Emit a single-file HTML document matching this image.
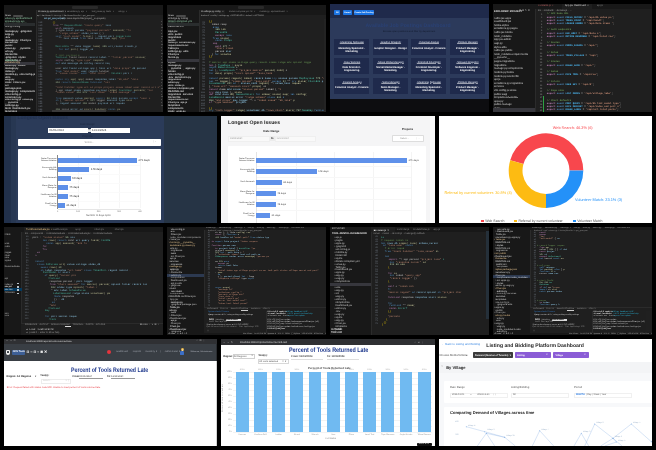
<!DOCTYPE html>
<html lang="en"><head><meta charset="utf-8"><title>Project screenshots collage</title>
<style>
html,body{margin:0;padding:0;background:#000;}
body{width:656px;height:450px;position:relative;overflow:hidden}
#c{position:absolute;left:0;top:0;width:656px;height:450px;overflow:hidden;background:#000;will-change:transform}
#c div{position:absolute}
#c span{position:absolute;white-space:pre;display:block;text-rendering:geometricPrecision}
#c i{font-style:normal}
.fs{font-family:"Liberation Sans",sans-serif}
.fm{font-family:"Liberation Mono",monospace}
svg{position:absolute;overflow:visible}
</style></head>
<body><div id="c">
<div style="left:4.00px;top:5.00px;width:159.00px;height:107.00px;background:#1f1f1f;"></div>
<div style="left:4.00px;top:5.00px;width:159.00px;height:5.00px;background:#181818;"></div>
<div style="left:72.00px;top:6.20px;width:26.00px;height:2.60px;background:#2a2a2a;border-radius:1px"></div>
<div style="left:4.00px;top:10.00px;width:32.20px;height:102.00px;background:#181818;"></div>
<div style="left:35.00px;top:10.00px;width:128.00px;height:4.50px;background:#181818;"></div>
<div style="left:36.50px;top:10.00px;width:29.00px;height:4.50px;background:#1f1f1f;"></div>
<div style="left:36.20px;top:10.00px;width:0.30px;height:102.00px;background:#2b2b2b;"></div>
<div style="left:13.00px;top:15.00px;width:10.00px;height:2.20px;background:#4a4a4a;border-radius:1px"></div>
<span class="fs" style="left:5.00px;top:14.70px;font-size:2px;line-height:2.40px;color:#ccc;font-weight:700;">OPEN</span>
<span class="fs" style="left:5.00px;top:17.60px;font-size:2.6px;line-height:2.9px;color:#8fc9a4;font-weight:400;width:30px;clip-path:inset(-1px 0 -1px 0)">views.py api/dashboard</span>
<span class="fs" style="left:5.00px;top:20.50px;font-size:2.6px;line-height:2.9px;color:#8fc9a4;font-weight:400;width:30px;clip-path:inset(-1px 0 -1px 0)">serializers.py api</span>
<span class="fs" style="left:5.00px;top:23.40px;font-size:2.6px;line-height:2.9px;color:#8fc9a4;font-weight:400;width:30px;clip-path:inset(-1px 0 -1px 0)">test_views.py tests</span>
<span class="fs" style="left:5.00px;top:26.30px;font-size:2.6px;line-height:2.9px;color:#ccc;font-weight:400;width:30px;clip-path:inset(-1px 0 -1px 0)">urls.py config</span>
<div style="left:4.00px;top:23.10px;width:31.00px;height:2.90px;background:#2a2d2e;"></div>
<span class="fs" style="left:5.00px;top:31.00px;font-size:2.6px;line-height:2.85px;color:#d4d4d4;font-weight:700;width:30px;clip-path:inset(-1px 0 -1px 0)">manage.py  .gitignore</span>
<span class="fs" style="left:5.00px;top:33.85px;font-size:2.6px;line-height:2.85px;color:#d4d4d4;font-weight:700;width:30px;clip-path:inset(-1px 0 -1px 0)">asgi.py</span>
<span class="fs" style="left:5.00px;top:36.70px;font-size:2.6px;line-height:2.85px;color:#d4d4d4;font-weight:700;width:30px;clip-path:inset(-1px 0 -1px 0)">.env</span>
<span class="fs" style="left:5.00px;top:39.55px;font-size:2.6px;line-height:2.85px;color:#d4d4d4;font-weight:700;width:30px;clip-path:inset(-1px 0 -1px 0)">manage.py  Chart.jsx</span>
<span class="fs" style="left:5.00px;top:42.40px;font-size:2.6px;line-height:2.85px;color:#d4d4d4;font-weight:700;width:30px;clip-path:inset(-1px 0 -1px 0)">Dockerfile</span>
<span class="fs" style="left:5.00px;top:45.25px;font-size:2.6px;line-height:2.85px;color:#d4d4d4;font-weight:700;width:30px;clip-path:inset(-1px 0 -1px 0)">public</span>
<span class="fs" style="left:5.00px;top:48.10px;font-size:2.6px;line-height:2.85px;color:#d4d4d4;font-weight:700;width:30px;clip-path:inset(-1px 0 -1px 0)">views.py  __pycache__</span>
<span class="fs" style="left:5.00px;top:50.95px;font-size:2.6px;line-height:2.85px;color:#d4d4d4;font-weight:700;width:30px;clip-path:inset(-1px 0 -1px 0)">urls.py</span>
<span class="fs" style="left:5.00px;top:53.80px;font-size:2.6px;line-height:2.85px;color:#d4d4d4;font-weight:700;width:30px;clip-path:inset(-1px 0 -1px 0)">Dockerfile</span>
<span class="fs" style="left:5.00px;top:56.65px;font-size:2.6px;line-height:2.85px;color:#d4d4d4;font-weight:700;width:30px;clip-path:inset(-1px 0 -1px 0)">.gitignore  styles</span>
<span class="fs" style="left:5.00px;top:59.50px;font-size:2.6px;line-height:2.85px;color:#d4d4d4;font-weight:700;width:30px;clip-path:inset(-1px 0 -1px 0)">vite.config.js</span>
<span class="fs" style="left:5.00px;top:62.35px;font-size:2.6px;line-height:2.85px;color:#d4d4d4;font-weight:700;width:30px;clip-path:inset(-1px 0 -1px 0)">urls.py</span>
<span class="fs" style="left:5.00px;top:65.20px;font-size:2.6px;line-height:2.85px;color:#d4d4d4;font-weight:700;width:30px;clip-path:inset(-1px 0 -1px 0)">admin.py  hooks</span>
<span class="fs" style="left:5.00px;top:68.05px;font-size:2.6px;line-height:2.85px;color:#d4d4d4;font-weight:700;width:30px;clip-path:inset(-1px 0 -1px 0)">manage.py</span>
<span class="fs" style="left:5.00px;top:70.90px;font-size:2.6px;line-height:2.85px;color:#d4d4d4;font-weight:700;width:30px;clip-path:inset(-1px 0 -1px 0)">index.js</span>
<span class="fs" style="left:5.00px;top:73.75px;font-size:2.6px;line-height:2.85px;color:#d4d4d4;font-weight:700;width:30px;clip-path:inset(-1px 0 -1px 0)">models.py  vite.config.js</span>
<span class="fs" style="left:5.00px;top:76.60px;font-size:2.6px;line-height:2.85px;color:#d4d4d4;font-weight:700;width:30px;clip-path:inset(-1px 0 -1px 0)">utils</span>
<span class="fs" style="left:5.00px;top:79.45px;font-size:2.6px;line-height:2.85px;color:#d4d4d4;font-weight:700;width:30px;clip-path:inset(-1px 0 -1px 0)">wsgi.py</span>
<span class="fs" style="left:5.00px;top:82.30px;font-size:2.6px;line-height:2.85px;color:#d4d4d4;font-weight:700;width:30px;clip-path:inset(-1px 0 -1px 0)">static  Filters.jsx</span>
<span class="fs" style="left:5.00px;top:85.15px;font-size:2.6px;line-height:2.85px;color:#d4d4d4;font-weight:700;width:30px;clip-path:inset(-1px 0 -1px 0)">src</span>
<span class="fs" style="left:5.00px;top:88.00px;font-size:2.6px;line-height:2.85px;color:#d4d4d4;font-weight:700;width:30px;clip-path:inset(-1px 0 -1px 0)">package.json</span>
<span class="fs" style="left:5.00px;top:90.85px;font-size:2.6px;line-height:2.85px;color:#d4d4d4;font-weight:700;width:30px;clip-path:inset(-1px 0 -1px 0)">manage.py  components</span>
<span class="fs" style="left:5.00px;top:93.70px;font-size:2.6px;line-height:2.85px;color:#d4d4d4;font-weight:700;width:30px;clip-path:inset(-1px 0 -1px 0)">vite.config.js</span>
<span class="fs" style="left:5.00px;top:96.55px;font-size:2.6px;line-height:2.85px;color:#d4d4d4;font-weight:700;width:30px;clip-path:inset(-1px 0 -1px 0)">serializers.py</span>
<span class="fs" style="left:5.00px;top:99.40px;font-size:2.6px;line-height:2.85px;color:#d4d4d4;font-weight:700;width:30px;clip-path:inset(-1px 0 -1px 0)">vite.config.js  views.py</span>
<span class="fs" style="left:5.00px;top:102.25px;font-size:2.6px;line-height:2.85px;color:#d4d4d4;font-weight:700;width:30px;clip-path:inset(-1px 0 -1px 0)">__pycache__</span>
<span class="fs" style="left:5.00px;top:105.10px;font-size:2.6px;line-height:2.85px;color:#d4d4d4;font-weight:700;width:30px;clip-path:inset(-1px 0 -1px 0)">settings.py</span>
<span class="fs" style="left:5.00px;top:107.95px;font-size:2.6px;line-height:2.85px;color:#d4d4d4;font-weight:700;width:30px;clip-path:inset(-1px 0 -1px 0)">tests  Dashboard.jsx</span>
<span class="fs" style="left:5.00px;top:110.80px;font-size:2.6px;line-height:2.85px;color:#d4d4d4;font-weight:700;width:30px;clip-path:inset(-1px 0 -1px 0)">templates</span>
<div style="left:4.00px;top:62.40px;width:31.00px;height:3.00px;background:#37373d;"></div>
<span class="fs" style="left:5.00px;top:59.60px;font-size:2.6px;line-height:2.85px;color:#73c991;font-weight:400">models.py</span>
<span class="fs" style="left:5.00px;top:62.45px;font-size:2.6px;line-height:2.85px;color:#e2c08d;font-weight:400">serializers.py</span>
<span class="fs" style="left:38.00px;top:10.90px;font-size:2.2px;line-height:2.64px;color:#d8d8d8;font-weight:400;">⚙ views.py api/dashboard  ×</span>
<span class="fs" style="left:67.00px;top:10.90px;font-size:2.2px;line-height:2.64px;color:#8f8f8f;font-weight:400;">serializers.py  api   ×        test_views.py  tests   ×       urls.py  ×</span>
<span class="fs" style="left:37.00px;top:14.90px;font-size:2px;line-height:2.40px;color:#9d9d9d;font-weight:400;">api &gt; dashboard &gt; views.py &gt; DashboardViewSet &gt; get_queryset</span>
<span class="fs" style="left:44.00px;top:17.60px;font-size:2.2px;line-height:2.64px;color:#9cdcfe;font-weight:400;">def get_queryset(self):</span>
<span class="fs" style="left:62.00px;top:17.60px;font-size:2.2px;line-height:2.64px;color:#b8b8b8;font-weight:400;">qs = Issue.objects.filter(project__in=projects)</span>
<span class="fm" style="left:37.50px;top:22.30px;font-size:2.3px;line-height:2.7px;color:#6e7681;width:5px;text-align:right">112</span>
<span class="fm" style="left:37.50px;top:25.00px;font-size:2.3px;line-height:2.7px;color:#6e7681;width:5px;text-align:right">113</span>
<span class="fm" style="left:37.50px;top:27.70px;font-size:2.3px;line-height:2.7px;color:#6e7681;width:5px;text-align:right">114</span>
<span class="fm" style="left:37.50px;top:30.40px;font-size:2.3px;line-height:2.7px;color:#6e7681;width:5px;text-align:right">115</span>
<span class="fm" style="left:37.50px;top:33.10px;font-size:2.3px;line-height:2.7px;color:#6e7681;width:5px;text-align:right">116</span>
<span class="fm" style="left:37.50px;top:35.80px;font-size:2.3px;line-height:2.7px;color:#6e7681;width:5px;text-align:right">117</span>
<span class="fm" style="left:37.50px;top:38.50px;font-size:2.3px;line-height:2.7px;color:#6e7681;width:5px;text-align:right">118</span>
<span class="fm" style="left:37.50px;top:41.20px;font-size:2.3px;line-height:2.7px;color:#6e7681;width:5px;text-align:right">119</span>
<span class="fm" style="left:37.50px;top:43.90px;font-size:2.3px;line-height:2.7px;color:#6e7681;width:5px;text-align:right">120</span>
<span class="fm" style="left:37.50px;top:46.60px;font-size:2.3px;line-height:2.7px;color:#6e7681;width:5px;text-align:right">121</span>
<span class="fm" style="left:37.50px;top:49.30px;font-size:2.3px;line-height:2.7px;color:#6e7681;width:5px;text-align:right">122</span>
<span class="fm" style="left:37.50px;top:52.00px;font-size:2.3px;line-height:2.7px;color:#6e7681;width:5px;text-align:right">123</span>
<span class="fm" style="left:37.50px;top:54.70px;font-size:2.3px;line-height:2.7px;color:#6e7681;width:5px;text-align:right">124</span>
<span class="fm" style="left:37.50px;top:57.40px;font-size:2.3px;line-height:2.7px;color:#6e7681;width:5px;text-align:right">125</span>
<span class="fm" style="left:37.50px;top:60.10px;font-size:2.3px;line-height:2.7px;color:#6e7681;width:5px;text-align:right">126</span>
<span class="fm" style="left:37.50px;top:62.80px;font-size:2.3px;line-height:2.7px;color:#6e7681;width:5px;text-align:right">127</span>
<span class="fm" style="left:37.50px;top:65.50px;font-size:2.3px;line-height:2.7px;color:#6e7681;width:5px;text-align:right">128</span>
<span class="fm" style="left:37.50px;top:68.20px;font-size:2.3px;line-height:2.7px;color:#6e7681;width:5px;text-align:right">129</span>
<span class="fm" style="left:37.50px;top:70.90px;font-size:2.3px;line-height:2.7px;color:#6e7681;width:5px;text-align:right">130</span>
<span class="fm" style="left:37.50px;top:73.60px;font-size:2.3px;line-height:2.7px;color:#6e7681;width:5px;text-align:right">131</span>
<span class="fm" style="left:37.50px;top:76.30px;font-size:2.3px;line-height:2.7px;color:#6e7681;width:5px;text-align:right">132</span>
<span class="fm" style="left:37.50px;top:79.00px;font-size:2.3px;line-height:2.7px;color:#6e7681;width:5px;text-align:right">133</span>
<span class="fm" style="left:37.50px;top:81.70px;font-size:2.3px;line-height:2.7px;color:#6e7681;width:5px;text-align:right">134</span>
<span class="fm" style="left:37.50px;top:84.40px;font-size:2.3px;line-height:2.7px;color:#6e7681;width:5px;text-align:right">135</span>
<span class="fm" style="left:37.50px;top:87.10px;font-size:2.3px;line-height:2.7px;color:#6e7681;width:5px;text-align:right">136</span>
<span class="fm" style="left:37.50px;top:89.80px;font-size:2.3px;line-height:2.7px;color:#6e7681;width:5px;text-align:right">137</span>
<span class="fm" style="left:37.50px;top:92.50px;font-size:2.3px;line-height:2.7px;color:#6e7681;width:5px;text-align:right">138</span>
<span class="fm" style="left:37.50px;top:95.20px;font-size:2.3px;line-height:2.7px;color:#6e7681;width:5px;text-align:right">139</span>
<span class="fm" style="left:37.50px;top:97.90px;font-size:2.3px;line-height:2.7px;color:#6e7681;width:5px;text-align:right">140</span>
<span class="fm" style="left:37.50px;top:100.60px;font-size:2.3px;line-height:2.7px;color:#6e7681;width:5px;text-align:right">141</span>
<span class="fm" style="left:37.50px;top:103.30px;font-size:2.3px;line-height:2.7px;color:#6e7681;width:5px;text-align:right">142</span>
<span class="fm" style="left:37.50px;top:106.00px;font-size:2.3px;line-height:2.7px;color:#6e7681;width:5px;text-align:right">143</span>
<span class="fm" style="left:37.50px;top:108.70px;font-size:2.3px;line-height:2.7px;color:#6e7681;width:5px;text-align:right">144</span>
<span class="fm" style="left:37.50px;top:111.40px;font-size:2.3px;line-height:2.7px;color:#6e7681;width:5px;text-align:right">145</span>
<span class="fm" style="left:52.50px;top:22.10px;font-size:2.5px;line-height:2.7px;font-weight:400;opacity:0.72"><i style="color:#ffd700">{}</i></span>
<span class="fm" style="left:52.50px;top:24.80px;font-size:2.5px;line-height:2.7px;font-weight:400;opacity:0.72"><i style="color:#c586c0">from</i> <i style="color:#d4d4d4">==</i> <i style="color:#4ec9b0">RequestModel</i> <i style="color:#ce9178">&quot;count_query&quot;</i> <i style="color:#9cdcfe">list_</i></span>
<span class="fm" style="left:55.50px;top:27.50px;font-size:2.5px;line-height:2.7px;font-weight:400;opacity:0.72"><i style="color:#c586c0">with</i> <i style="color:#9cdcfe">session_</i></span>
<span class="fm" style="left:55.50px;top:30.20px;font-size:2.5px;line-height:2.7px;font-weight:400;opacity:0.72"><i style="color:#d4d4d4">]</i> <i style="color:#d4d4d4">type</i> <i style="color:#9cdcfe">total_params</i> <i style="color:#ce9178">&quot;payload_percent&quot;</i> <i style="color:#dcdcaa">session(</i> <i style="color:#ce9178">&quot;fi</i></span>
<span class="fm" style="left:58.75px;top:32.90px;font-size:2.5px;line-height:2.7px;font-weight:400;opacity:0.72"><i style="color:#ce9178">&quot;range_schema&quot;</i> <i style="color:#9cdcfe">index_value</i> <i style="color:#d4d4d4">{</i> <i style="color:#d4d4d4">)</i></span>
<span class="fm" style="left:55.50px;top:35.60px;font-size:2.5px;line-height:2.7px;font-weight:400;opacity:0.72"><i style="color:#569cd6">self</i> <i style="color:#ce9178">&quot;path_model&quot;</i> <i style="color:#dcdcaa">filter(</i> <i style="color:#d4d4d4">:</i> <i style="color:#9cdcfe">region_port</i> <i style="color:#4ec9b0">LoggerLate</i></span>
<span class="fm" style="left:58.75px;top:38.30px;font-size:2.5px;line-height:2.7px;font-weight:400;opacity:0.72"><i style="color:#d4d4d4">==</i> <i style="color:#9cdcfe">list_issue</i> <i style="color:#569cd6">from</i> <i style="color:#d4d4d4">list</i> <i style="color:#9cdcfe">state_rows</i> <i style="color:#dcdcaa">app(</i> <i style="color:#ce9178">&quot;pat</i></span>
<span class="fm" style="left:55.50px;top:46.40px;font-size:2.5px;line-height:2.7px;font-weight:400;opacity:0.72"><i style="color:#4ec9b0">MetricEnv</i> <i style="color:#d4d4d4">==</i> <i style="color:#9cdcfe">date_logger</i> <i style="color:#dcdcaa">name(</i> <i style="color:#b5cea8">355</i> <i style="color:#9cdcfe">url_router</i> <i style="color:#9cdcfe">client_p</i></span>
<span class="fm" style="left:58.75px;top:49.10px;font-size:2.5px;line-height:2.7px;font-weight:400;opacity:0.72"><i style="color:#569cd6">for</i> <i style="color:#569cd6">def</i> <i style="color:#dcdcaa">port(</i> <i style="color:#9cdcfe">logger_id</i></span>
<span class="fm" style="left:55.50px;top:54.50px;font-size:2.5px;line-height:2.7px;font-weight:400;opacity:0.72"><i style="color:#6a9955"># tool payload e</i></span>
<span class="fm" style="left:55.50px;top:57.20px;font-size:2.5px;line-height:2.7px;font-weight:400;opacity:0.72"><i style="color:#4ec9b0">ToolList</i> <i style="color:#d4d4d4">field</i> <i style="color:#d4d4d4">record</i> <i style="color:#9cdcfe">record_label</i> <i style="color:#d4d4d4">=</i> <i style="color:#ce9178">&quot;filter_period&quot;</i> <i style="color:#dcdcaa">status(</i></span>
<span class="fm" style="left:55.50px;top:59.90px;font-size:2.5px;line-height:2.7px;font-weight:400;opacity:0.72"><i style="color:#c586c0">async</i> <i style="color:#d4d4d4">config</i> <i style="color:#ce9178">&quot;type_type&quot;</i> <i style="color:#dcdcaa">respons</i></span>
<span class="fm" style="left:55.50px;top:62.60px;font-size:2.5px;line-height:2.7px;font-weight:400;opacity:0.72"><i style="color:#569cd6">def</i> <i style="color:#9cdcfe">end_message</i> <i style="color:#9cdcfe">db_config</i> <i style="color:#9cdcfe">record_req</i></span>
<span class="fm" style="left:55.50px;top:68.00px;font-size:2.5px;line-height:2.7px;font-weight:400;opacity:0.72"><i style="color:#d4d4d4">user</i> <i style="color:#9cdcfe">end_field</i> <i style="color:#9cdcfe">village_app</i> <i style="color:#d4d4d4">{</i> <i style="color:#9cdcfe">host_url</i> <i style="color:#ce9178">&quot;date_props&quot;</i> <i style="color:#9cdcfe">db_period</i></span>
<span class="fm" style="left:55.50px;top:70.70px;font-size:2.5px;line-height:2.7px;font-weight:400;opacity:0.72"><i style="color:#569cd6">True</i> <i style="color:#ce9178">&quot;end_model&quot;</i> <i style="color:#9cdcfe">user_region</i> <i style="color:#d4d4d4">handler</i></span>
<span class="fm" style="left:55.50px;top:73.40px;font-size:2.5px;line-height:2.7px;font-weight:400;opacity:0.72"><i style="color:#d4d4d4">+</i> <i style="color:#ce9178">&quot;issue_router&quot;</i> <i style="color:#569cd6">with</i> <i style="color:#ce9178">&quot;conn_total&quot;</i> <i style="color:#d4d4d4">:</i> <i style="color:#4ec9b0">IdLabel</i> <i style="color:#9cdcfe">port_r</i></span>
<span class="fm" style="left:55.50px;top:78.80px;font-size:2.5px;line-height:2.7px;font-weight:400;opacity:0.72"><i style="color:#569cd6">const</i> <i style="color:#569cd6">try</i> <i style="color:#dcdcaa">app(</i> <i style="color:#dcdcaa">app(</i> <i style="color:#d4d4d4">model</i> <i style="color:#9cdcfe">response_label</i> <i style="color:#ce9178">&quot;db_end&quot;</i> <i style="color:#ce9178">&quot;data_</i></span>
<span class="fm" style="left:55.50px;top:81.50px;font-size:2.5px;line-height:2.7px;font-weight:400;opacity:0.72"><i style="color:#b5cea8">352</i> <i style="color:#569cd6">return</i> <i style="color:#4ec9b0">SessionName</i> <i style="color:#569cd6">function</i> <i style="color:#ce9178">&quot;vol</i></span>
<span class="fm" style="left:55.50px;top:86.90px;font-size:2.5px;line-height:2.7px;font-weight:400;opacity:0.72"><i style="color:#ce9178">&quot;conn handler type url id props project issue token user record url s&quot;</i></span>
<span class="fm" style="left:55.50px;top:89.60px;font-size:2.5px;line-height:2.7px;font-weight:400;opacity:0.72"><i style="color:#d4d4d4">]</i> <i style="color:#d4d4d4">app</i> <i style="color:#9cdcfe">token_items</i> <i style="color:#9cdcfe">response_payload</i> <i style="color:#dcdcaa">range(</i> <i style="color:#4ec9b0">CountUser</i> <i style="color:#dcdcaa">percent(</i> <i style="color:#ce9178">&quot;cur</i></span>
<span class="fm" style="left:55.50px;top:92.30px;font-size:2.5px;line-height:2.7px;font-weight:400;opacity:0.72"><i style="color:#ce9178">&quot;token_value&quot;</i> <i style="color:#b5cea8">362</i> <i style="color:#b5cea8">678</i> <i style="color:#ce9178">&quot;list_token&quot;</i> <i style="color:#ce9178">&quot;items_message&quot;</i> <i style="color:#569cd6">in</i></span>
<span class="fm" style="left:55.50px;top:97.70px;font-size:2.5px;line-height:2.7px;font-weight:400;opacity:0.72"><i style="color:#569cd6">from</i> <i style="color:#9cdcfe">session_value</i> <i style="color:#dcdcaa">secret(</i> <i style="color:#569cd6">import</i> <i style="color:#b5cea8">58</i> <i style="color:#9cdcfe">tool_params</i> <i style="color:#569cd6">except</i> <i style="color:#ce9178">&quot;user_i</i></span>
<span class="fm" style="left:55.50px;top:100.40px;font-size:2.5px;line-height:2.7px;font-weight:400;opacity:0.72"><i style="color:#569cd6">in</i> <i style="color:#d4d4d4">{</i> <i style="color:#ce9178">&quot;secret_option&quot;</i> <i style="color:#d4d4d4">+</i> <i style="color:#b5cea8">914</i> <i style="color:#d4d4d4">logger</i> <i style="color:#9cdcfe">session_type</i> <i style="color:#dcdcaa">stat</i></span>
<span class="fm" style="left:55.50px;top:103.10px;font-size:2.5px;line-height:2.7px;font-weight:400;opacity:0.72"><i style="color:#d4d4d4">),</i> <i style="color:#9cdcfe">region_session</i> <i style="color:#b5cea8">158</i> <i style="color:#d4d4d4">model</i> <i style="color:#9cdcfe">payload_url</i> <i style="color:#9cdcfe">reques</i></span>
<span class="fm" style="left:55.50px;top:108.50px;font-size:2.5px;line-height:2.7px;font-weight:400;opacity:0.72"><i style="color:#b5cea8">166</i> <i style="color:#d4d4d4">total</i> <i style="color:#9cdcfe">error_id</i> <i style="color:#dcdcaa">start(</i> <i style="color:#dcdcaa">handler(</i> <i style="color:#569cd6">const</i> <i style="color:#dcdcaa">pa</i></span>
<span class="fm" style="left:55.50px;top:111.20px;font-size:2.5px;line-height:2.7px;font-weight:400;opacity:0.72"><i style="color:#c586c0">const</i> <i style="color:#dcdcaa">percent(</i> <i style="color:#ce9178">&quot;index_client&quot;</i></span>
<div style="left:160.50px;top:19.00px;width:2.50px;height:93.00px;background:#232323;"></div>
<div style="left:52.00px;top:110.40px;width:54.00px;height:1.30px;background:#3a3a3a;"></div>
<div style="left:160.90px;top:21.00px;width:1.20px;height:0.50px;background:#4a4a4a;"></div>
<div style="left:160.90px;top:23.90px;width:1.50px;height:0.50px;background:#4a4a4a;"></div>
<div style="left:160.90px;top:26.80px;width:1.80px;height:0.50px;background:#4a4a4a;"></div>
<div style="left:160.90px;top:29.70px;width:1.20px;height:0.50px;background:#4a4a4a;"></div>
<div style="left:160.90px;top:32.60px;width:1.50px;height:0.50px;background:#4a4a4a;"></div>
<div style="left:160.90px;top:35.50px;width:1.80px;height:0.50px;background:#4a4a4a;"></div>
<div style="left:160.90px;top:38.40px;width:1.20px;height:0.50px;background:#4a4a4a;"></div>
<div style="left:160.90px;top:41.30px;width:1.50px;height:0.50px;background:#4a4a4a;"></div>
<div style="left:160.90px;top:44.20px;width:1.80px;height:0.50px;background:#4a4a4a;"></div>
<div style="left:160.90px;top:47.10px;width:1.20px;height:0.50px;background:#4a4a4a;"></div>
<div style="left:160.90px;top:50.00px;width:1.50px;height:0.50px;background:#4a4a4a;"></div>
<div style="left:160.90px;top:52.90px;width:1.80px;height:0.50px;background:#4a4a4a;"></div>
<div style="left:160.90px;top:55.80px;width:1.20px;height:0.50px;background:#4a4a4a;"></div>
<div style="left:160.90px;top:58.70px;width:1.50px;height:0.50px;background:#4a4a4a;"></div>
<div style="left:160.90px;top:61.60px;width:1.80px;height:0.50px;background:#4a4a4a;"></div>
<div style="left:160.90px;top:64.50px;width:1.20px;height:0.50px;background:#4a4a4a;"></div>
<div style="left:160.90px;top:67.40px;width:1.50px;height:0.50px;background:#4a4a4a;"></div>
<div style="left:160.90px;top:70.30px;width:1.80px;height:0.50px;background:#4a4a4a;"></div>
<div style="left:160.90px;top:73.20px;width:1.20px;height:0.50px;background:#4a4a4a;"></div>
<div style="left:160.90px;top:76.10px;width:1.50px;height:0.50px;background:#4a4a4a;"></div>
<div style="left:160.90px;top:79.00px;width:1.80px;height:0.50px;background:#4a4a4a;"></div>
<div style="left:160.90px;top:81.90px;width:1.20px;height:0.50px;background:#4a4a4a;"></div>
<div style="left:160.90px;top:84.80px;width:1.50px;height:0.50px;background:#4a4a4a;"></div>
<div style="left:160.90px;top:87.70px;width:1.80px;height:0.50px;background:#4a4a4a;"></div>
<div style="left:160.90px;top:90.60px;width:1.20px;height:0.50px;background:#4a4a4a;"></div>
<div style="left:160.90px;top:93.50px;width:1.50px;height:0.50px;background:#4a4a4a;"></div>
<div style="left:160.90px;top:96.40px;width:1.80px;height:0.50px;background:#4a4a4a;"></div>
<div style="left:160.90px;top:99.30px;width:1.20px;height:0.50px;background:#4a4a4a;"></div>
<div style="left:160.90px;top:102.20px;width:1.50px;height:0.50px;background:#4a4a4a;"></div>
<div style="left:160.90px;top:105.10px;width:1.80px;height:0.50px;background:#4a4a4a;"></div>
<div style="left:167.00px;top:5.00px;width:159.00px;height:107.00px;background:#1f1f1f;"></div>
<div style="left:167.00px;top:5.00px;width:159.00px;height:5.00px;background:#181818;"></div>
<div style="left:238.00px;top:6.20px;width:26.00px;height:2.60px;background:#2a2a2a;border-radius:1px"></div>
<div style="left:167.00px;top:10.00px;width:32.00px;height:102.00px;background:#181818;"></div>
<div style="left:199.00px;top:10.00px;width:127.00px;height:4.50px;background:#181818;"></div>
<div style="left:199.20px;top:10.00px;width:26.00px;height:4.50px;background:#1f1f1f;"></div>
<div style="left:199.00px;top:10.00px;width:0.30px;height:102.00px;background:#2b2b2b;"></div>
<div style="left:176.00px;top:15.00px;width:10.00px;height:2.20px;background:#4a4a4a;border-radius:1px"></div>
<span class="fs" style="left:168.00px;top:14.70px;font-size:2px;line-height:2.40px;color:#ccc;font-weight:700;">OPEN</span>
<span class="fs" style="left:168.00px;top:17.60px;font-size:2.6px;line-height:2.9px;color:#ccc;font-weight:400;width:30px;clip-path:inset(-1px 0 -1px 0)">settings.py config</span>
<span class="fs" style="left:168.00px;top:20.50px;font-size:2.6px;line-height:2.9px;color:#8fc9a4;font-weight:400;width:30px;clip-path:inset(-1px 0 -1px 0)">docker-compose.yml</span>
<span class="fs" style="left:168.00px;top:23.40px;font-size:2.6px;line-height:2.9px;color:#8fc9a4;font-weight:400;width:30px;clip-path:inset(-1px 0 -1px 0)">models.py api</span>
<span class="fs" style="left:168.00px;top:26.30px;font-size:2.6px;line-height:2.9px;color:#ccc;font-weight:400;width:30px;clip-path:inset(-1px 0 -1px 0)">README.md</span>
<div style="left:167.00px;top:23.10px;width:32.00px;height:2.90px;background:#2a2d2e;"></div>
<span class="fs" style="left:168.00px;top:31.00px;font-size:2.6px;line-height:2.85px;color:#d4d4d4;font-weight:700;width:30px;clip-path:inset(-1px 0 -1px 0)">App.jsx</span>
<span class="fs" style="left:168.00px;top:33.85px;font-size:2.6px;line-height:2.85px;color:#d4d4d4;font-weight:700;width:30px;clip-path:inset(-1px 0 -1px 0)">utils  public</span>
<span class="fs" style="left:168.00px;top:36.70px;font-size:2.6px;line-height:2.85px;color:#d4d4d4;font-weight:700;width:30px;clip-path:inset(-1px 0 -1px 0)">migrations</span>
<span class="fs" style="left:168.00px;top:39.55px;font-size:2.6px;line-height:2.85px;color:#d4d4d4;font-weight:700;width:30px;clip-path:inset(-1px 0 -1px 0)">public</span>
<span class="fs" style="left:168.00px;top:42.40px;font-size:2.6px;line-height:2.85px;color:#d4d4d4;font-weight:700;width:30px;clip-path:inset(-1px 0 -1px 0)">index.js  serializers.py</span>
<span class="fs" style="left:168.00px;top:45.25px;font-size:2.6px;line-height:2.85px;color:#d4d4d4;font-weight:700;width:30px;clip-path:inset(-1px 0 -1px 0)">requirements.txt</span>
<span class="fs" style="left:168.00px;top:48.10px;font-size:2.6px;line-height:2.85px;color:#d4d4d4;font-weight:700;width:30px;clip-path:inset(-1px 0 -1px 0)">Table.jsx</span>
<span class="fs" style="left:168.00px;top:50.95px;font-size:2.6px;line-height:2.85px;color:#d4d4d4;font-weight:700;width:30px;clip-path:inset(-1px 0 -1px 0)">settings.py  utils</span>
<span class="fs" style="left:168.00px;top:53.80px;font-size:2.6px;line-height:2.85px;color:#d4d4d4;font-weight:700;width:30px;clip-path:inset(-1px 0 -1px 0)">Chart.jsx</span>
<span class="fs" style="left:168.00px;top:56.65px;font-size:2.6px;line-height:2.85px;color:#d4d4d4;font-weight:700;width:30px;clip-path:inset(-1px 0 -1px 0)">forms.py</span>
<span class="fs" style="left:168.00px;top:59.50px;font-size:2.6px;line-height:2.85px;color:#d4d4d4;font-weight:700;width:30px;clip-path:inset(-1px 0 -1px 0)">views.py  __pycache__</span>
<span class="fs" style="left:168.00px;top:62.35px;font-size:2.6px;line-height:2.85px;color:#d4d4d4;font-weight:700;width:30px;clip-path:inset(-1px 0 -1px 0)">styles</span>
<span class="fs" style="left:168.00px;top:65.20px;font-size:2.6px;line-height:2.85px;color:#d4d4d4;font-weight:700;width:30px;clip-path:inset(-1px 0 -1px 0)">manage.py</span>
<span class="fs" style="left:168.00px;top:68.05px;font-size:2.6px;line-height:2.85px;color:#d4d4d4;font-weight:700;width:30px;clip-path:inset(-1px 0 -1px 0)">__pycache__  apps.py</span>
<span class="fs" style="left:168.00px;top:70.90px;font-size:2.6px;line-height:2.85px;color:#d4d4d4;font-weight:700;width:30px;clip-path:inset(-1px 0 -1px 0)">hooks</span>
<span class="fs" style="left:168.00px;top:73.75px;font-size:2.6px;line-height:2.85px;color:#d4d4d4;font-weight:700;width:30px;clip-path:inset(-1px 0 -1px 0)">vite.config.js</span>
<span class="fs" style="left:168.00px;top:76.60px;font-size:2.6px;line-height:2.85px;color:#d4d4d4;font-weight:700;width:30px;clip-path:inset(-1px 0 -1px 0)">.env  serializers.py</span>
<span class="fs" style="left:168.00px;top:79.45px;font-size:2.6px;line-height:2.85px;color:#d4d4d4;font-weight:700;width:30px;clip-path:inset(-1px 0 -1px 0)">migrations</span>
<span class="fs" style="left:168.00px;top:82.30px;font-size:2.6px;line-height:2.85px;color:#d4d4d4;font-weight:700;width:30px;clip-path:inset(-1px 0 -1px 0)">admin.py</span>
<span class="fs" style="left:168.00px;top:85.15px;font-size:2.6px;line-height:2.85px;color:#d4d4d4;font-weight:700;width:30px;clip-path:inset(-1px 0 -1px 0)">utils  index.js</span>
<span class="fs" style="left:168.00px;top:88.00px;font-size:2.6px;line-height:2.85px;color:#d4d4d4;font-weight:700;width:30px;clip-path:inset(-1px 0 -1px 0)">docker-compose.yml</span>
<span class="fs" style="left:168.00px;top:90.85px;font-size:2.6px;line-height:2.85px;color:#d4d4d4;font-weight:700;width:30px;clip-path:inset(-1px 0 -1px 0)">README.md</span>
<span class="fs" style="left:168.00px;top:93.70px;font-size:2.6px;line-height:2.85px;color:#d4d4d4;font-weight:700;width:30px;clip-path:inset(-1px 0 -1px 0)">migrations  services</span>
<span class="fs" style="left:168.00px;top:96.55px;font-size:2.6px;line-height:2.85px;color:#d4d4d4;font-weight:700;width:30px;clip-path:inset(-1px 0 -1px 0)">Dockerfile</span>
<span class="fs" style="left:168.00px;top:99.40px;font-size:2.6px;line-height:2.85px;color:#d4d4d4;font-weight:700;width:30px;clip-path:inset(-1px 0 -1px 0)">requirements.txt</span>
<span class="fs" style="left:168.00px;top:102.25px;font-size:2.6px;line-height:2.85px;color:#d4d4d4;font-weight:700;width:30px;clip-path:inset(-1px 0 -1px 0)">Chart.jsx  api.js</span>
<span class="fs" style="left:168.00px;top:105.10px;font-size:2.6px;line-height:2.85px;color:#d4d4d4;font-weight:700;width:30px;clip-path:inset(-1px 0 -1px 0)">templates</span>
<span class="fs" style="left:168.00px;top:107.95px;font-size:2.6px;line-height:2.85px;color:#d4d4d4;font-weight:700;width:30px;clip-path:inset(-1px 0 -1px 0)">components</span>
<span class="fs" style="left:168.00px;top:110.80px;font-size:2.6px;line-height:2.85px;color:#d4d4d4;font-weight:700;width:30px;clip-path:inset(-1px 0 -1px 0)">static  wsgi.py</span>
<div style="left:167.00px;top:59.40px;width:32.00px;height:3.00px;background:#37373d;"></div>
<span class="fs" style="left:201.00px;top:10.90px;font-size:2.2px;line-height:2.64px;color:#d8d8d8;font-weight:400;">⚙ settings.py config   ×</span>
<span class="fs" style="left:229.00px;top:10.90px;font-size:2.2px;line-height:2.64px;color:#8f8f8f;font-weight:400;">docker-compose.yml  M   ×       models.py  api/dashboard   ×</span>
<span class="fs" style="left:201.00px;top:14.70px;font-size:2.1px;line-height:2.52px;color:#a5a5a5;font-weight:400;">backend &gt; config &gt; settings.py &gt; DATABASES &gt; default &gt; OPTIONS</span>
<span class="fm" style="left:200.00px;top:21.60px;font-size:2.3px;line-height:2.7px;color:#6e7681;width:5px;text-align:right">74</span>
<span class="fm" style="left:200.00px;top:24.30px;font-size:2.3px;line-height:2.7px;color:#6e7681;width:5px;text-align:right">75</span>
<span class="fm" style="left:200.00px;top:27.00px;font-size:2.3px;line-height:2.7px;color:#6e7681;width:5px;text-align:right">76</span>
<span class="fm" style="left:200.00px;top:29.70px;font-size:2.3px;line-height:2.7px;color:#6e7681;width:5px;text-align:right">77</span>
<span class="fm" style="left:200.00px;top:32.40px;font-size:2.3px;line-height:2.7px;color:#6e7681;width:5px;text-align:right">78</span>
<span class="fm" style="left:200.00px;top:35.10px;font-size:2.3px;line-height:2.7px;color:#6e7681;width:5px;text-align:right">79</span>
<span class="fm" style="left:200.00px;top:37.80px;font-size:2.3px;line-height:2.7px;color:#6e7681;width:5px;text-align:right">80</span>
<span class="fm" style="left:200.00px;top:40.50px;font-size:2.3px;line-height:2.7px;color:#6e7681;width:5px;text-align:right">81</span>
<span class="fm" style="left:200.00px;top:43.20px;font-size:2.3px;line-height:2.7px;color:#6e7681;width:5px;text-align:right">82</span>
<span class="fm" style="left:200.00px;top:45.90px;font-size:2.3px;line-height:2.7px;color:#6e7681;width:5px;text-align:right">83</span>
<span class="fm" style="left:200.00px;top:48.60px;font-size:2.3px;line-height:2.7px;color:#6e7681;width:5px;text-align:right">84</span>
<span class="fm" style="left:200.00px;top:51.30px;font-size:2.3px;line-height:2.7px;color:#6e7681;width:5px;text-align:right">85</span>
<span class="fm" style="left:200.00px;top:54.00px;font-size:2.3px;line-height:2.7px;color:#6e7681;width:5px;text-align:right">86</span>
<span class="fm" style="left:200.00px;top:56.70px;font-size:2.3px;line-height:2.7px;color:#6e7681;width:5px;text-align:right">87</span>
<span class="fm" style="left:200.00px;top:59.40px;font-size:2.3px;line-height:2.7px;color:#6e7681;width:5px;text-align:right">88</span>
<span class="fm" style="left:200.00px;top:62.10px;font-size:2.3px;line-height:2.7px;color:#6e7681;width:5px;text-align:right">89</span>
<span class="fm" style="left:200.00px;top:64.80px;font-size:2.3px;line-height:2.7px;color:#6e7681;width:5px;text-align:right">90</span>
<span class="fm" style="left:200.00px;top:67.50px;font-size:2.3px;line-height:2.7px;color:#6e7681;width:5px;text-align:right">91</span>
<span class="fm" style="left:200.00px;top:70.20px;font-size:2.3px;line-height:2.7px;color:#6e7681;width:5px;text-align:right">92</span>
<span class="fm" style="left:200.00px;top:72.90px;font-size:2.3px;line-height:2.7px;color:#6e7681;width:5px;text-align:right">93</span>
<span class="fm" style="left:200.00px;top:75.60px;font-size:2.3px;line-height:2.7px;color:#6e7681;width:5px;text-align:right">94</span>
<span class="fm" style="left:200.00px;top:78.30px;font-size:2.3px;line-height:2.7px;color:#6e7681;width:5px;text-align:right">95</span>
<span class="fm" style="left:200.00px;top:81.00px;font-size:2.3px;line-height:2.7px;color:#6e7681;width:5px;text-align:right">96</span>
<span class="fm" style="left:200.00px;top:83.70px;font-size:2.3px;line-height:2.7px;color:#6e7681;width:5px;text-align:right">97</span>
<span class="fm" style="left:200.00px;top:86.40px;font-size:2.3px;line-height:2.7px;color:#6e7681;width:5px;text-align:right">98</span>
<span class="fm" style="left:200.00px;top:89.10px;font-size:2.3px;line-height:2.7px;color:#6e7681;width:5px;text-align:right">99</span>
<span class="fm" style="left:200.00px;top:91.80px;font-size:2.3px;line-height:2.7px;color:#6e7681;width:5px;text-align:right">100</span>
<span class="fm" style="left:200.00px;top:94.50px;font-size:2.3px;line-height:2.7px;color:#6e7681;width:5px;text-align:right">101</span>
<span class="fm" style="left:200.00px;top:97.20px;font-size:2.3px;line-height:2.7px;color:#6e7681;width:5px;text-align:right">102</span>
<span class="fm" style="left:200.00px;top:99.90px;font-size:2.3px;line-height:2.7px;color:#6e7681;width:5px;text-align:right">103</span>
<span class="fm" style="left:200.00px;top:102.60px;font-size:2.3px;line-height:2.7px;color:#6e7681;width:5px;text-align:right">104</span>
<span class="fm" style="left:200.00px;top:105.30px;font-size:2.3px;line-height:2.7px;color:#6e7681;width:5px;text-align:right">105</span>
<span class="fm" style="left:200.00px;top:108.00px;font-size:2.3px;line-height:2.7px;color:#6e7681;width:5px;text-align:right">106</span>
<span class="fm" style="left:200.00px;top:110.70px;font-size:2.3px;line-height:2.7px;color:#6e7681;width:5px;text-align:right">107</span>
<span class="fm" style="left:209.00px;top:21.35px;font-size:2.5px;line-height:2.7px;font-weight:400;opacity:1.0"><i style="color:#ffd700">{}</i></span>
<span class="fm" style="left:211.50px;top:24.05px;font-size:2.5px;line-height:2.7px;font-weight:400;opacity:1.0"><i style="color:#d4d4d4">label</i> <i style="color:#d4d4d4">resp</i></span>
<span class="fm" style="left:212.75px;top:26.75px;font-size:2.5px;line-height:2.7px;font-weight:400;opacity:1.0"><i style="color:#569cd6">else</i></span>
<span class="fm" style="left:215.25px;top:29.45px;font-size:2.5px;line-height:2.7px;font-weight:400;opacity:1.0"><i style="color:#b5cea8">185</i> <i style="color:#dcdcaa">tok</i></span>
<span class="fm" style="left:215.25px;top:32.15px;font-size:2.5px;line-height:2.7px;font-weight:400;opacity:1.0"><i style="color:#4ec9b0">PeriodId</i></span>
<span class="fm" style="left:215.25px;top:34.85px;font-size:2.5px;line-height:2.7px;font-weight:400;opacity:1.0"><i style="color:#c586c0">except</i> <i style="color:#569cd6">retu</i></span>
<span class="fm" style="left:212.75px;top:37.55px;font-size:2.5px;line-height:2.7px;font-weight:400;opacity:1.0"><i style="color:#569cd6">True</i> <i style="color:#dcdcaa">state(</i></span>
<span class="fm" style="left:215.25px;top:40.25px;font-size:2.5px;line-height:2.7px;font-weight:400;opacity:1.0"><i style="color:#569cd6">const</i> <i style="color:#4ec9b0">Props</i></span>
<span class="fm" style="left:212.75px;top:42.95px;font-size:2.5px;line-height:2.7px;font-weight:400;opacity:1.0"><i style="color:#c586c0">imp</i></span>
<span class="fm" style="left:215.25px;top:45.65px;font-size:2.5px;line-height:2.7px;font-weight:400;opacity:1.0"><i style="color:#c586c0">with</i> <i style="color:#b5cea8">274</i> <i style="color:#d4d4d4">=</i></span>
<span class="fm" style="left:215.25px;top:48.35px;font-size:2.5px;line-height:2.7px;font-weight:400;opacity:1.0"><i style="color:#ce9178">&quot;chart_clien</i></span>
<span class="fm" style="left:215.25px;top:51.05px;font-size:2.5px;line-height:2.7px;font-weight:400;opacity:1.0"><i style="color:#d4d4d4">period</i> <i style="color:#9cdcfe">star</i></span>
<span class="fm" style="left:211.50px;top:53.75px;font-size:2.5px;line-height:2.7px;font-weight:400;opacity:1.0"><i style="color:#d4d4d4">}</i> <i style="color:#569cd6">for</i> <i style="color:#dcdcaa">volunte</i></span>
<span class="fm" style="left:209.00px;top:56.45px;font-size:2.5px;line-height:2.7px;font-weight:400;opacity:1.0"><i style="color:#ffd700">{}</i></span>
<span class="fm" style="left:209.00px;top:61.85px;font-size:2.5px;line-height:2.7px;font-weight:400;opacity:1.0"><i style="color:#6a9955"># metric app items village query result items range env option logge</i></span>
<span class="fm" style="left:209.00px;top:64.55px;font-size:2.5px;line-height:2.7px;font-weight:400;opacity:1.0"><i style="color:#c586c0">not</i> <i style="color:#d4d4d4">}</i> <i style="color:#4ec9b0">TypeDate</i> <i style="color:#d4d4d4">:</i> <i style="color:#dcdcaa">paylo</i></span>
<span class="fm" style="left:209.00px;top:67.25px;font-size:2.5px;line-height:2.7px;font-weight:400;opacity:1.0"><i style="color:#569cd6">async</i> <i style="color:#4ec9b0">ResultState</i> <i style="color:#d4d4d4">+</i></span>
<span class="fm" style="left:209.00px;top:69.95px;font-size:2.5px;line-height:2.7px;font-weight:400;opacity:1.0"><i style="color:#569cd6">let</i> <i style="color:#d4d4d4">),</i> <i style="color:#4ec9b0">LateOption</i> <i style="color:#d4d4d4">=</i> <i style="color:#ce9178">&quot;project_metric&quot;</i> <i style="color:#dcdcaa">period(</i> <i style="color:#dcdcaa">conn(</i> <i style="color:#d4d4d4">c</i></span>
<span class="fm" style="left:209.00px;top:72.65px;font-size:2.5px;line-height:2.7px;font-weight:400;opacity:1.0"><i style="color:#569cd6">for</i> <i style="color:#dcdcaa">data(</i> <i style="color:#dcdcaa">props(</i> <i style="color:#ce9178">&quot;start_option&quot;</i> <i style="color:#ce9178">&quot;data_hand</i></span>
<span class="fm" style="left:209.00px;top:78.05px;font-size:2.5px;line-height:2.7px;font-weight:400;opacity:1.0"><i style="color:#569cd6">return</i> <i style="color:#dcdcaa">params(</i> <i style="color:#dcdcaa">region(</i> <i style="color:#dcdcaa">label(</i> <i style="color:#9cdcfe">record_name</i> <i style="color:#569cd6">try</i> <i style="color:#9cdcfe">status_params</i> <i style="color:#4ec9b0">MapPayload</i> <i style="color:#b5cea8">770</i> <i style="color:#ce9178">&quot;i</i></span>
<span class="fm" style="left:209.00px;top:80.75px;font-size:2.5px;line-height:2.7px;font-weight:400;opacity:1.0"><i style="color:#569cd6">let</i> <i style="color:#d4d4d4">==</i> <i style="color:#dcdcaa">logger(</i> <i style="color:#ce9178">&quot;items_option&quot;</i> <i style="color:#ce9178">&quot;data_path&quot;</i> <i style="color:#569cd6">except</i> <i style="color:#b5cea8">94</i> <i style="color:#d4d4d4">==</i> <i style="color:#569cd6">try</i> <i style="color:#dcdcaa">state(</i> <i style="color:#4ec9b0">ChartEnd</i> <i style="color:#9cdcfe">p</i></span>
<span class="fm" style="left:209.00px;top:83.45px;font-size:2.5px;line-height:2.7px;font-weight:400;opacity:1.0"><i style="color:#4ec9b0">StateSecret</i> <i style="color:#b5cea8">294</i> <i style="color:#569cd6">in</i> <i style="color:#d4d4d4">:</i> <i style="color:#9cdcfe">status_conn</i> <i style="color:#dcdcaa">region(</i> <i style="color:#d4d4d4">=&gt;</i> <i style="color:#9cdcfe">value_host</i> <i style="color:#dcdcaa">reques</i></span>
<span class="fm" style="left:209.00px;top:86.15px;font-size:2.5px;line-height:2.7px;font-weight:400;opacity:1.0"><i style="color:#d4d4d4">[</i> <i style="color:#ce9178">&quot;late_url&quot;</i> <i style="color:#ce9178">&quot;session_start&quot;</i> <i style="color:#dcdcaa">props(</i> <i style="color:#d4d4d4">it</i></span>
<span class="fm" style="left:209.00px;top:88.85px;font-size:2.5px;line-height:2.7px;font-weight:400;opacity:1.0"><i style="color:#c586c0">return</i> <i style="color:#d4d4d4">name</i> <i style="color:#9cdcfe">end_state</i> <i style="color:#ce9178">&quot;status_period&quot;</i> <i style="color:#d4d4d4">token</i> <i style="color:#d4d4d4">[</i> <i style="color:#ce9178">&quot;c</i></span>
<span class="fm" style="left:209.00px;top:91.55px;font-size:2.5px;line-height:2.7px;font-weight:400;opacity:1.0"><i style="color:#c586c0">try</i> <i style="color:#9cdcfe">data_host</i> <i style="color:#d4d4d4">),</i> <i style="color:#dcdcaa">statu</i></span>
<span class="fm" style="left:209.00px;top:94.25px;font-size:2.5px;line-height:2.7px;font-weight:400;opacity:1.0"><i style="color:#c586c0">def</i> <i style="color:#9cdcfe">conn_data</i> <i style="color:#dcdcaa">db(</i> <i style="color:#4ec9b0">SessionStart</i> <i style="color:#569cd6">for</i> <i style="color:#dcdcaa">index(</i> <i style="color:#dcdcaa">state(</i> <i style="color:#dcdcaa">map(</i> <i style="color:#569cd6">let</i> <i style="color:#dcdcaa">config(</i></span>
<span class="fm" style="left:209.00px;top:96.95px;font-size:2.5px;line-height:2.7px;font-weight:400;opacity:1.0"><i style="color:#4ec9b0">LateRecord</i> <i style="color:#9cdcfe">metric_error</i> <i style="color:#ce9178">&quot;range_schema&quot;</i> <i style="color:#569cd6">class</i> <i style="color:#b5cea8">831</i> <i style="color:#569cd6">d</i></span>
<span class="fm" style="left:209.00px;top:99.65px;font-size:2.5px;line-height:2.7px;font-weight:400;opacity:1.0"><i style="color:#b5cea8">963</i> <i style="color:#ce9178">&quot;end_props&quot;</i> <i style="color:#9cdcfe">key_logger</i> <i style="color:#d4d4d4">=&gt;</i> <i style="color:#d4d4d4">+</i> <i style="color:#ce9178">&quot;token_issue&quot;</i> <i style="color:#ce9178">&quot;db_late&quot;</i> <i style="color:#dcdcaa">p</i></span>
<span class="fm" style="left:209.00px;top:102.35px;font-size:2.5px;line-height:2.7px;font-weight:400;opacity:1.0"><i style="color:#c586c0">if</i> <i style="color:#ce9178">&quot;type_session&quot;</i> <i style="color:#9cdcfe">project</i></span>
<span class="fm" style="left:209.00px;top:107.75px;font-size:2.5px;line-height:2.7px;font-weight:400;opacity:1.0"><i style="color:#ffd700">{}</i></span>
<span class="fm" style="left:209.00px;top:110.45px;font-size:2.5px;line-height:2.7px;font-weight:400;opacity:1.0"><i style="color:#569cd6">try</i> <i style="color:#ce9178">&quot;conn_logger&quot;</i> <i style="color:#dcdcaa">range(</i> <i style="color:#9cdcfe">volunteer_db</i> <i style="color:#ce9178">&quot;rows_chart&quot;</i> <i style="color:#dcdcaa">start(</i> <i style="color:#b5cea8">767</i> <i style="color:#4ec9b0">NameKey</i> <i style="color:#569cd6">functio</i></span>
<div style="left:323.50px;top:19.00px;width:2.50px;height:93.00px;background:#232323;"></div>
<div style="left:330.00px;top:4.00px;width:159.00px;height:108.00px;background:#0d0d10;"></div>
<div style="left:330.00px;top:4.00px;width:159.00px;height:14.00px;background:#1f2a4b;"></div>
<div style="left:330.00px;top:18.00px;width:159.00px;height:80.70px;background:#2c3a5b;"></div>
<div style="left:334.20px;top:10.00px;width:6.30px;height:5.00px;background:#1b74e4;border-radius:.8px"></div>
<span class="fs" style="left:334.20px;top:11.50px;font-size:2.1px;line-height:2.52px;color:#fff;font-weight:700;width:6.30px;text-align:center">All</span>
<div style="left:342.50px;top:10.00px;width:9.70px;height:5.00px;background:#1b74e4;border-radius:.8px"></div>
<span class="fs" style="left:342.50px;top:11.50px;font-size:2.1px;line-height:2.52px;color:#fff;font-weight:700;width:9.70px;text-align:center">Saved</span>
<div style="left:354.00px;top:10.00px;width:20.00px;height:5.00px;background:#1b74e4;border-radius:.8px"></div>
<span class="fs" style="left:354.00px;top:11.50px;font-size:2.1px;line-height:2.52px;color:#fff;font-weight:700;width:20.00px;text-align:center">Create Job Posting</span>
<span class="fs" style="left:365.50px;top:22.90px;font-size:5.2px;line-height:6.24px;color:#2a4174;font-weight:700;">Available Job Postings Dashboard</span>
<span class="fs" style="left:383.00px;top:30.10px;font-size:2.5px;line-height:3.00px;color:#141c30;font-weight:400;">Browse open positions and filter by department</span>
<div style="left:334.25px;top:38.75px;width:35.00px;height:16.00px;background:#1f2a4c;"></div>
<span class="fs" style="left:334.25px;top:41.35px;font-size:2.6px;line-height:3.12px;color:#e8ecf5;font-weight:400;width:35.00px;text-align:center;text-decoration:underline;text-decoration-thickness:.12px;text-underline-offset:.2px;text-decoration-color:rgba(255,255,255,.55)">▫Marketing Specialist</span>
<span class="fs" style="left:334.25px;top:46.75px;font-size:2.6px;line-height:3.12px;color:#fff;font-weight:700;width:35.00px;text-align:center">Marketing Specialist -</span>
<span class="fs" style="left:334.25px;top:49.65px;font-size:2.6px;line-height:3.12px;color:#fff;font-weight:700;width:35.00px;text-align:center">Marketing</span>
<div style="left:373.00px;top:38.75px;width:35.00px;height:16.00px;background:#1f2a4c;"></div>
<span class="fs" style="left:373.00px;top:41.35px;font-size:2.6px;line-height:3.12px;color:#e8ecf5;font-weight:400;width:35.00px;text-align:center;text-decoration:underline;text-decoration-thickness:.12px;text-underline-offset:.2px;text-decoration-color:rgba(255,255,255,.55)">▫Graphic Designer</span>
<span class="fs" style="left:373.00px;top:46.75px;font-size:2.6px;line-height:3.12px;color:#fff;font-weight:700;width:35.00px;text-align:center">Graphic Designer - Design</span>
<div style="left:411.25px;top:38.75px;width:35.00px;height:16.00px;background:#1f2a4c;"></div>
<span class="fs" style="left:411.25px;top:41.35px;font-size:2.6px;line-height:3.12px;color:#e8ecf5;font-weight:400;width:35.00px;text-align:center;text-decoration:underline;text-decoration-thickness:.12px;text-underline-offset:.2px;text-decoration-color:rgba(255,255,255,.55)">▫Financial Analyst</span>
<span class="fs" style="left:411.25px;top:46.75px;font-size:2.6px;line-height:3.12px;color:#fff;font-weight:700;width:35.00px;text-align:center">Financial Analyst - Finance</span>
<div style="left:450.00px;top:38.75px;width:35.00px;height:16.00px;background:#1f2a4c;"></div>
<span class="fs" style="left:450.00px;top:41.35px;font-size:2.6px;line-height:3.12px;color:#e8ecf5;font-weight:400;width:35.00px;text-align:center;text-decoration:underline;text-decoration-thickness:.12px;text-underline-offset:.2px;text-decoration-color:rgba(255,255,255,.55)">▫Product Manager</span>
<span class="fs" style="left:450.00px;top:46.75px;font-size:2.6px;line-height:3.12px;color:#fff;font-weight:700;width:35.00px;text-align:center">Product Manager -</span>
<span class="fs" style="left:450.00px;top:49.65px;font-size:2.6px;line-height:3.12px;color:#fff;font-weight:700;width:35.00px;text-align:center">Engineering</span>
<div style="left:334.25px;top:58.25px;width:35.00px;height:16.00px;background:#1f2a4c;"></div>
<span class="fs" style="left:334.25px;top:60.85px;font-size:2.6px;line-height:3.12px;color:#e8ecf5;font-weight:400;width:35.00px;text-align:center;text-decoration:underline;text-decoration-thickness:.12px;text-underline-offset:.2px;text-decoration-color:rgba(255,255,255,.55)">▫Data Scientist</span>
<span class="fs" style="left:334.25px;top:66.25px;font-size:2.6px;line-height:3.12px;color:#fff;font-weight:700;width:35.00px;text-align:center">Data Scientist -</span>
<span class="fs" style="left:334.25px;top:69.15px;font-size:2.6px;line-height:3.12px;color:#fff;font-weight:700;width:35.00px;text-align:center">Engineering</span>
<div style="left:373.00px;top:58.25px;width:35.00px;height:16.00px;background:#1f2a4c;"></div>
<span class="fs" style="left:373.00px;top:60.85px;font-size:2.6px;line-height:3.12px;color:#e8ecf5;font-weight:400;width:35.00px;text-align:center;text-decoration:underline;text-decoration-thickness:.12px;text-underline-offset:.2px;text-decoration-color:rgba(255,255,255,.55)">▫Social Media Manager</span>
<span class="fs" style="left:373.00px;top:66.25px;font-size:2.6px;line-height:3.12px;color:#fff;font-weight:700;width:35.00px;text-align:center">Social Media Manager -</span>
<span class="fs" style="left:373.00px;top:69.15px;font-size:2.6px;line-height:3.12px;color:#fff;font-weight:700;width:35.00px;text-align:center">Marketing</span>
<div style="left:411.25px;top:58.25px;width:35.00px;height:16.00px;background:#1f2a4c;"></div>
<span class="fs" style="left:411.25px;top:60.85px;font-size:2.6px;line-height:3.12px;color:#e8ecf5;font-weight:400;width:35.00px;text-align:center;text-decoration:underline;text-decoration-thickness:.12px;text-underline-offset:.2px;text-decoration-color:rgba(255,255,255,.55)">▫Frontend Developer</span>
<span class="fs" style="left:411.25px;top:66.25px;font-size:2.6px;line-height:3.12px;color:#fff;font-weight:700;width:35.00px;text-align:center">Frontend Developer -</span>
<span class="fs" style="left:411.25px;top:69.15px;font-size:2.6px;line-height:3.12px;color:#fff;font-weight:700;width:35.00px;text-align:center">Engineering</span>
<div style="left:450.00px;top:58.25px;width:35.00px;height:16.00px;background:#1f2a4c;"></div>
<span class="fs" style="left:450.00px;top:60.85px;font-size:2.6px;line-height:3.12px;color:#e8ecf5;font-weight:400;width:35.00px;text-align:center;text-decoration:underline;text-decoration-thickness:.12px;text-underline-offset:.2px;text-decoration-color:rgba(255,255,255,.55)">▫Software Engineer</span>
<span class="fs" style="left:450.00px;top:66.25px;font-size:2.6px;line-height:3.12px;color:#fff;font-weight:700;width:35.00px;text-align:center">Software Engineer -</span>
<span class="fs" style="left:450.00px;top:69.15px;font-size:2.6px;line-height:3.12px;color:#fff;font-weight:700;width:35.00px;text-align:center">Engineering</span>
<div style="left:334.25px;top:78.00px;width:35.00px;height:16.00px;background:#1f2a4c;"></div>
<span class="fs" style="left:334.25px;top:80.60px;font-size:2.6px;line-height:3.12px;color:#e8ecf5;font-weight:400;width:35.00px;text-align:center;text-decoration:underline;text-decoration-thickness:.12px;text-underline-offset:.2px;text-decoration-color:rgba(255,255,255,.55)">▫Finance Analyst</span>
<span class="fs" style="left:334.25px;top:86.00px;font-size:2.6px;line-height:3.12px;color:#fff;font-weight:700;width:35.00px;text-align:center">Financial Analyst - Finance</span>
<div style="left:373.00px;top:78.00px;width:35.00px;height:16.00px;background:#1f2a4c;"></div>
<span class="fs" style="left:373.00px;top:80.60px;font-size:2.6px;line-height:3.12px;color:#e8ecf5;font-weight:400;width:35.00px;text-align:center;text-decoration:underline;text-decoration-thickness:.12px;text-underline-offset:.2px;text-decoration-color:rgba(255,255,255,.55)">▫Sales Manager</span>
<span class="fs" style="left:373.00px;top:86.00px;font-size:2.6px;line-height:3.12px;color:#fff;font-weight:700;width:35.00px;text-align:center">Sales Manager -</span>
<span class="fs" style="left:373.00px;top:88.90px;font-size:2.6px;line-height:3.12px;color:#fff;font-weight:700;width:35.00px;text-align:center">Marketing</span>
<div style="left:411.25px;top:78.00px;width:35.00px;height:16.00px;background:#1f2a4c;"></div>
<span class="fs" style="left:411.25px;top:80.60px;font-size:2.6px;line-height:3.12px;color:#e8ecf5;font-weight:400;width:35.00px;text-align:center;text-decoration:underline;text-decoration-thickness:.12px;text-underline-offset:.2px;text-decoration-color:rgba(255,255,255,.55)">▫Marketing Specialist</span>
<span class="fs" style="left:411.25px;top:86.00px;font-size:2.6px;line-height:3.12px;color:#fff;font-weight:700;width:35.00px;text-align:center">Marketing Specialist -</span>
<span class="fs" style="left:411.25px;top:88.90px;font-size:2.6px;line-height:3.12px;color:#fff;font-weight:700;width:35.00px;text-align:center">Marketing</span>
<div style="left:450.00px;top:78.00px;width:35.00px;height:16.00px;background:#1f2a4c;"></div>
<span class="fs" style="left:450.00px;top:80.60px;font-size:2.6px;line-height:3.12px;color:#e8ecf5;font-weight:400;width:35.00px;text-align:center;text-decoration:underline;text-decoration-thickness:.12px;text-underline-offset:.2px;text-decoration-color:rgba(255,255,255,.55)">▫Product Manager</span>
<span class="fs" style="left:450.00px;top:86.00px;font-size:2.6px;line-height:3.12px;color:#fff;font-weight:700;width:35.00px;text-align:center">Product Manager -</span>
<span class="fs" style="left:450.00px;top:88.90px;font-size:2.6px;line-height:3.12px;color:#fff;font-weight:700;width:35.00px;text-align:center">Engineering</span>
<div style="left:493.00px;top:4.00px;width:159.00px;height:108.00px;background:#1f1f1f;"></div>
<div style="left:493.00px;top:4.00px;width:41.50px;height:108.00px;background:#181818;"></div>
<div style="left:534.50px;top:4.00px;width:0.30px;height:108.00px;background:#2b2b2b;"></div>
<div style="left:534.80px;top:4.00px;width:117.20px;height:4.80px;background:#181818;"></div>
<div style="left:562.00px;top:4.00px;width:30.00px;height:4.80px;background:#1f1f1f;"></div>
<span class="fs" style="left:538.00px;top:4.90px;font-size:2.4px;line-height:2.88px;color:#b05a5a;font-weight:400;">constants.js  ×</span>
<span class="fs" style="left:565.00px;top:4.90px;font-size:2.4px;line-height:2.88px;color:#ddd;font-weight:400;">App.jsx  Dashboard  ×</span>
<span class="fs" style="left:597.00px;top:4.90px;font-size:2.4px;line-height:2.88px;color:#888;font-weight:400;">api.js</span>
<span class="fs" style="left:494.00px;top:9.60px;font-size:2.6px;line-height:3.12px;color:#e6e6e6;font-weight:700;">EXPLORER: PROJECT</span>
<span class="fs" style="left:519.00px;top:9.40px;font-size:2.6px;line-height:3.12px;color:#aaa;font-weight:400;">⊞ ⊟ ↻ ⊡</span>
<span class="fs" style="left:538.00px;top:9.80px;font-size:2.3px;line-height:2.76px;color:#aaa;font-weight:400;">src &gt; constants &gt; JS index.js &gt; ...</span>
<span class="fs" style="left:494.00px;top:16.60px;font-size:2.7px;line-height:3.62px;color:#dcdcdc;font-weight:400;width:39px;clip-path:inset(-1px 0 -1px 0)">Table.jsx-apps</span>
<span class="fs" style="left:494.00px;top:20.22px;font-size:2.7px;line-height:3.62px;color:#dcdcdc;font-weight:400;width:39px;clip-path:inset(-1px 0 -1px 0)">Dashboard.jsx</span>
<span class="fs" style="left:494.00px;top:23.84px;font-size:2.7px;line-height:3.62px;color:#dcdcdc;font-weight:400;width:39px;clip-path:inset(-1px 0 -1px 0)">hooks-styles</span>
<span class="fs" style="left:494.00px;top:27.46px;font-size:2.7px;line-height:3.62px;color:#dcdcdc;font-weight:400;width:39px;clip-path:inset(-1px 0 -1px 0)">serializers.py.pages</span>
<span class="fs" style="left:494.00px;top:31.08px;font-size:2.7px;line-height:3.62px;color:#dcdcdc;font-weight:400;width:39px;clip-path:inset(-1px 0 -1px 0)">Table.jsx-hooks</span>
<span class="fs" style="left:494.00px;top:34.70px;font-size:2.7px;line-height:3.62px;color:#dcdcdc;font-weight:400;width:39px;clip-path:inset(-1px 0 -1px 0)">node_modules</span>
<span class="fs" style="left:494.00px;top:38.32px;font-size:2.7px;line-height:3.62px;color:#dcdcdc;font-weight:400;width:39px;clip-path:inset(-1px 0 -1px 0)">App.jsx-admin</span>
<span class="fs" style="left:494.00px;top:41.94px;font-size:2.7px;line-height:3.62px;color:#dcdcdc;font-weight:400;width:39px;clip-path:inset(-1px 0 -1px 0)">asgi.py</span>
<span class="fs" style="left:494.00px;top:45.56px;font-size:2.7px;line-height:3.62px;color:#dcdcdc;font-weight:400;width:39px;clip-path:inset(-1px 0 -1px 0)">styles-utils</span>
<span class="fs" style="left:494.00px;top:49.18px;font-size:2.7px;line-height:3.62px;color:#dcdcdc;font-weight:400;width:39px;clip-path:inset(-1px 0 -1px 0)">Table.jsx.public</span>
<span class="fs" style="left:494.00px;top:52.80px;font-size:2.7px;line-height:3.62px;color:#dcdcdc;font-weight:400;width:39px;clip-path:inset(-1px 0 -1px 0)">node_modules-requirements</span>
<span class="fs" style="left:494.00px;top:56.42px;font-size:2.7px;line-height:3.62px;color:#dcdcdc;font-weight:400;width:39px;clip-path:inset(-1px 0 -1px 0)">__pycache__</span>
<span class="fs" style="left:494.00px;top:60.04px;font-size:2.7px;line-height:3.62px;color:#dcdcdc;font-weight:400;width:39px;clip-path:inset(-1px 0 -1px 0)">pages-migrations</span>
<span class="fs" style="left:494.00px;top:63.66px;font-size:2.7px;line-height:3.62px;color:#dcdcdc;font-weight:400;width:39px;clip-path:inset(-1px 0 -1px 0)">migrations</span>
<span class="fs" style="left:494.00px;top:67.28px;font-size:2.7px;line-height:3.62px;color:#dcdcdc;font-weight:400;width:39px;clip-path:inset(-1px 0 -1px 0)">manage.py-components</span>
<span class="fs" style="left:494.00px;top:70.90px;font-size:2.7px;line-height:3.62px;color:#dcdcdc;font-weight:400;width:39px;clip-path:inset(-1px 0 -1px 0)">models.py.hooks</span>
<span class="fs" style="left:494.00px;top:74.52px;font-size:2.7px;line-height:3.62px;color:#dcdcdc;font-weight:400;width:39px;clip-path:inset(-1px 0 -1px 0)">models.py-Dockerfile</span>
<span class="fs" style="left:494.00px;top:78.14px;font-size:2.7px;line-height:3.62px;color:#dcdcdc;font-weight:400;width:39px;clip-path:inset(-1px 0 -1px 0)">api.js</span>
<span class="fs" style="left:494.00px;top:81.76px;font-size:2.7px;line-height:3.62px;color:#dcdcdc;font-weight:400;width:39px;clip-path:inset(-1px 0 -1px 0)">serializers.py-migrations</span>
<span class="fs" style="left:494.00px;top:85.38px;font-size:2.7px;line-height:3.62px;color:#dcdcdc;font-weight:400;width:39px;clip-path:inset(-1px 0 -1px 0)">services</span>
<span class="fs" style="left:494.00px;top:89.00px;font-size:2.7px;line-height:3.62px;color:#dcdcdc;font-weight:400;width:39px;clip-path:inset(-1px 0 -1px 0)">vite.config.js-views</span>
<span class="fs" style="left:494.00px;top:92.62px;font-size:2.7px;line-height:3.62px;color:#dcdcdc;font-weight:400;width:39px;clip-path:inset(-1px 0 -1px 0)">public.wsgi</span>
<span class="fs" style="left:494.00px;top:96.24px;font-size:2.7px;line-height:3.62px;color:#dcdcdc;font-weight:400;width:39px;clip-path:inset(-1px 0 -1px 0)">templates-README</span>
<span class="fs" style="left:494.00px;top:99.86px;font-size:2.7px;line-height:3.62px;color:#dcdcdc;font-weight:400;width:39px;clip-path:inset(-1px 0 -1px 0)">apps.py</span>
<span class="fs" style="left:494.00px;top:103.48px;font-size:2.7px;line-height:3.62px;color:#dcdcdc;font-weight:400;width:39px;clip-path:inset(-1px 0 -1px 0)">public-manage</span>
<span class="fs" style="left:494.00px;top:107.10px;font-size:2.7px;line-height:3.62px;color:#dcdcdc;font-weight:400;width:39px;clip-path:inset(-1px 0 -1px 0)">static</span>
<div style="left:493.00px;top:108.00px;width:41.50px;height:4.00px;background:#37373d;"></div>
<span class="fm" style="left:537.30px;top:13.20px;font-size:2.2px;line-height:3.2px;color:#858585;width:5px;text-align:right">1</span>
<span class="fm" style="left:537.30px;top:16.40px;font-size:2.2px;line-height:3.2px;color:#858585;width:5px;text-align:right">2</span>
<span class="fm" style="left:537.30px;top:19.60px;font-size:2.2px;line-height:3.2px;color:#858585;width:5px;text-align:right">3</span>
<span class="fm" style="left:537.30px;top:22.80px;font-size:2.2px;line-height:3.2px;color:#858585;width:5px;text-align:right">4</span>
<span class="fm" style="left:537.30px;top:26.00px;font-size:2.2px;line-height:3.2px;color:#858585;width:5px;text-align:right">5</span>
<span class="fm" style="left:537.30px;top:29.20px;font-size:2.2px;line-height:3.2px;color:#858585;width:5px;text-align:right">6</span>
<span class="fm" style="left:537.30px;top:32.40px;font-size:2.2px;line-height:3.2px;color:#858585;width:5px;text-align:right">7</span>
<span class="fm" style="left:537.30px;top:35.60px;font-size:2.2px;line-height:3.2px;color:#858585;width:5px;text-align:right">8</span>
<span class="fm" style="left:537.30px;top:38.80px;font-size:2.2px;line-height:3.2px;color:#858585;width:5px;text-align:right">9</span>
<span class="fm" style="left:537.30px;top:42.00px;font-size:2.2px;line-height:3.2px;color:#858585;width:5px;text-align:right">10</span>
<span class="fm" style="left:537.30px;top:45.20px;font-size:2.2px;line-height:3.2px;color:#858585;width:5px;text-align:right">11</span>
<span class="fm" style="left:537.30px;top:48.40px;font-size:2.2px;line-height:3.2px;color:#858585;width:5px;text-align:right">12</span>
<span class="fm" style="left:537.30px;top:51.60px;font-size:2.2px;line-height:3.2px;color:#858585;width:5px;text-align:right">13</span>
<span class="fm" style="left:537.30px;top:54.80px;font-size:2.2px;line-height:3.2px;color:#858585;width:5px;text-align:right">14</span>
<span class="fm" style="left:537.30px;top:58.00px;font-size:2.2px;line-height:3.2px;color:#858585;width:5px;text-align:right">15</span>
<span class="fm" style="left:537.30px;top:61.20px;font-size:2.2px;line-height:3.2px;color:#858585;width:5px;text-align:right">16</span>
<span class="fm" style="left:537.30px;top:64.40px;font-size:2.2px;line-height:3.2px;color:#858585;width:5px;text-align:right">17</span>
<span class="fm" style="left:537.30px;top:67.60px;font-size:2.2px;line-height:3.2px;color:#858585;width:5px;text-align:right">18</span>
<span class="fm" style="left:537.30px;top:70.80px;font-size:2.2px;line-height:3.2px;color:#858585;width:5px;text-align:right">19</span>
<span class="fm" style="left:537.30px;top:74.00px;font-size:2.2px;line-height:3.2px;color:#858585;width:5px;text-align:right">20</span>
<span class="fm" style="left:537.30px;top:77.20px;font-size:2.2px;line-height:3.2px;color:#858585;width:5px;text-align:right">21</span>
<span class="fm" style="left:537.30px;top:80.40px;font-size:2.2px;line-height:3.2px;color:#858585;width:5px;text-align:right">22</span>
<span class="fm" style="left:537.30px;top:83.60px;font-size:2.2px;line-height:3.2px;color:#858585;width:5px;text-align:right">23</span>
<span class="fm" style="left:537.30px;top:86.80px;font-size:2.2px;line-height:3.2px;color:#858585;width:5px;text-align:right">24</span>
<span class="fm" style="left:537.30px;top:90.00px;font-size:2.2px;line-height:3.2px;color:#858585;width:5px;text-align:right">25</span>
<span class="fm" style="left:537.30px;top:93.20px;font-size:2.2px;line-height:3.2px;color:#858585;width:5px;text-align:right">26</span>
<span class="fm" style="left:537.30px;top:96.40px;font-size:2.2px;line-height:3.2px;color:#858585;width:5px;text-align:right">27</span>
<span class="fm" style="left:537.30px;top:99.60px;font-size:2.2px;line-height:3.2px;color:#858585;width:5px;text-align:right">28</span>
<span class="fm" style="left:537.30px;top:102.80px;font-size:2.2px;line-height:3.2px;color:#858585;width:5px;text-align:right">29</span>
<span class="fm" style="left:537.30px;top:106.00px;font-size:2.2px;line-height:3.2px;color:#858585;width:5px;text-align:right">30</span>
<span class="fm" style="left:537.30px;top:109.20px;font-size:2.2px;line-height:3.2px;color:#858585;width:5px;text-align:right">31</span>
<span class="fm" style="left:546.8px;top:13.30px;font-size:2.4px;line-height:2.7px;font-weight:700;color:#6a9955">// API base URL</span>
<span class="fm" style="left:546.8px;top:16.50px;font-size:2.4px;line-height:2.7px;font-weight:700"><i style="color:#c586c0">export</i> <i style="color:#569cd6">const</i> <i style="color:#4fc1ff">FIELD_METRIC</i> <i style="color:#d4d4d4">=</i> <i style="color:#ce9178">'/api/db_value_po'</i><i style="color:#d4d4d4">;</i></span>
<span class="fm" style="left:546.8px;top:19.70px;font-size:2.4px;line-height:2.7px;font-weight:700"><i style="color:#c586c0">export</i> <i style="color:#569cd6">const</i> <i style="color:#4fc1ff">TOKEN_COUNT</i> <i style="color:#d4d4d4">=</i> <i style="color:#ce9178">'/api/handl'</i><i style="color:#d4d4d4">;</i></span>
<span class="fm" style="left:546.8px;top:22.90px;font-size:2.4px;line-height:2.7px;font-weight:700"><i style="color:#c586c0">export</i> <i style="color:#569cd6">const</i> <i style="color:#4fc1ff">LOGGER_ERROR</i> <i style="color:#d4d4d4">=</i> <i style="color:#ce9178">'/api/date_items_'</i><i style="color:#d4d4d4">;</i></span>
<span class="fm" style="left:546.8px;top:29.30px;font-size:2.4px;line-height:2.7px;font-weight:700;color:#6a9955">// Auth endpoints</span>
<span class="fm" style="left:546.8px;top:32.50px;font-size:2.4px;line-height:2.7px;font-weight:700"><i style="color:#c586c0">export</i> <i style="color:#569cd6">const</i> <i style="color:#4fc1ff">ENV_HOST</i> <i style="color:#d4d4d4">=</i> <i style="color:#ce9178">'/api/data_s'</i><i style="color:#d4d4d4">;</i></span>
<span class="fm" style="left:546.8px;top:35.70px;font-size:2.4px;line-height:2.7px;font-weight:700"><i style="color:#c586c0">export</i> <i style="color:#569cd6">const</i> <i style="color:#4fc1ff">OPTION_RESPONSE</i> <i style="color:#d4d4d4">=</i> <i style="color:#ce9178">'/api/total_rec'</i><i style="color:#d4d4d4">;</i></span>
<span class="fm" style="left:546.8px;top:42.10px;font-size:2.4px;line-height:2.7px;font-weight:700;color:#6a9955">// Routes</span>
<span class="fm" style="left:546.8px;top:45.30px;font-size:2.4px;line-height:2.7px;font-weight:700"><i style="color:#c586c0">export</i> <i style="color:#569cd6">const</i> <i style="color:#4fc1ff">PROPS_PARAMS</i> <i style="color:#d4d4d4">=</i> <i style="color:#ce9178">'/api/'</i><i style="color:#d4d4d4">;</i></span>
<span class="fm" style="left:546.8px;top:51.70px;font-size:2.4px;line-height:2.7px;font-weight:700;color:#6a9955">// Roles</span>
<span class="fm" style="left:546.8px;top:54.90px;font-size:2.4px;line-height:2.7px;font-weight:700"><i style="color:#c586c0">export</i> <i style="color:#569cd6">const</i> <i style="color:#4fc1ff">TOKEN_VILLAGE</i> <i style="color:#d4d4d4">=</i> <i style="color:#ce9178">'/api'</i><i style="color:#d4d4d4">;</i></span>
<span class="fm" style="left:546.8px;top:61.30px;font-size:2.4px;line-height:2.7px;font-weight:700;color:#6a9955">// Status</span>
<span class="fm" style="left:546.8px;top:64.50px;font-size:2.4px;line-height:2.7px;font-weight:700"><i style="color:#c586c0">export</i> <i style="color:#569cd6">const</i> <i style="color:#4fc1ff">RANGE_NAME</i> <i style="color:#d4d4d4">=</i> <i style="color:#ce9178">'/api/'</i><i style="color:#d4d4d4">;</i></span>
<span class="fm" style="left:546.8px;top:70.90px;font-size:2.4px;line-height:2.7px;font-weight:700;color:#6a9955">// Dates</span>
<span class="fm" style="left:546.8px;top:74.10px;font-size:2.4px;line-height:2.7px;font-weight:700"><i style="color:#c586c0">export</i> <i style="color:#569cd6">const</i> <i style="color:#4fc1ff">PATH_TOOL</i> <i style="color:#d4d4d4">=</i> <i style="color:#ce9178">'/api/row'</i><i style="color:#d4d4d4">;</i></span>
<span class="fm" style="left:546.8px;top:80.50px;font-size:2.4px;line-height:2.7px;font-weight:700;color:#6a9955">// Colors</span>
<span class="fm" style="left:546.8px;top:83.70px;font-size:2.4px;line-height:2.7px;font-weight:700"><i style="color:#c586c0">export</i> <i style="color:#569cd6">const</i> <i style="color:#4fc1ff">USER_KEY</i> <i style="color:#d4d4d4">=</i> <i style="color:#ce9178">'/api/d'</i><i style="color:#d4d4d4">;</i></span>
<span class="fm" style="left:546.8px;top:90.10px;font-size:2.4px;line-height:2.7px;font-weight:700;color:#6a9955">// Page size</span>
<span class="fm" style="left:546.8px;top:93.30px;font-size:2.4px;line-height:2.7px;font-weight:700"><i style="color:#c586c0">export</i> <i style="color:#569cd6">const</i> <i style="color:#4fc1ff">LIST_PROPS</i> <i style="color:#d4d4d4">=</i> <i style="color:#ce9178">'/api/village_labe'</i><i style="color:#d4d4d4">;</i></span>
<span class="fm" style="left:546.8px;top:99.70px;font-size:2.4px;line-height:2.7px;font-weight:700;color:#6a9955">// Chart defaults</span>
<span class="fm" style="left:546.8px;top:102.90px;font-size:2.4px;line-height:2.7px;font-weight:700"><i style="color:#c586c0">export</i> <i style="color:#569cd6">const</i> <i style="color:#4fc1ff">PORT_QUERY</i> <i style="color:#d4d4d4">=</i> <i style="color:#ce9178">'/api/db_list_model_type'</i><i style="color:#d4d4d4">;</i></span>
<span class="fm" style="left:546.8px;top:106.10px;font-size:2.4px;line-height:2.7px;font-weight:700"><i style="color:#c586c0">export</i> <i style="color:#569cd6">const</i> <i style="color:#4fc1ff">DATA_PERCENT</i> <i style="color:#d4d4d4">=</i> <i style="color:#ce9178">'/api/index_end_port_s'</i><i style="color:#d4d4d4">;</i></span>
<span class="fm" style="left:546.8px;top:109.30px;font-size:2.4px;line-height:2.7px;font-weight:700"><i style="color:#c586c0">export</i> <i style="color:#569cd6">const</i> <i style="color:#4fc1ff">RANGE_LABEL</i> <i style="color:#d4d4d4">=</i> <i style="color:#ce9178">'/api/url_total_perio'</i><i style="color:#d4d4d4">;</i></span>
<div style="left:543.20px;top:95.50px;width:0.45px;height:16.50px;background:#2ea043;"></div>
<div style="left:4.00px;top:116.00px;width:213.00px;height:107.00px;background:#2b3b59;"></div>
<div style="left:4.00px;top:116.00px;width:6.70px;height:107.00px;background:#21304a;"></div>
<div style="left:10.70px;top:116.00px;width:5.30px;height:107.00px;background:#273752;"></div>
<div style="left:164.00px;top:116.00px;width:53.00px;height:107.00px;background:#263445;"></div>
<span class="fs" style="left:17.50px;top:115.30px;font-size:5.0px;line-height:6.00px;color:#223250;font-weight:700;">Longest Open Issues</span>
<span class="fs" style="left:80.00px;top:123.20px;font-size:2.7px;line-height:3.24px;color:#1f2c44;font-weight:700;">Date Range</span>
<div style="left:48.20px;top:128.00px;width:39.80px;height:5.00px;background:#fff;"></div>
<div style="left:90.70px;top:128.00px;width:39.30px;height:5.00px;background:#fff;"></div>
<div style="left:88.00px;top:129.00px;width:2.70px;height:3.00px;background:#e8e8e8;"></div>
<span class="fs" style="left:49.30px;top:128.90px;font-size:2.9px;line-height:3.48px;color:#444;font-weight:400;">01/01/2024</span>
<span class="fs" style="left:91.80px;top:128.90px;font-size:2.9px;line-height:3.48px;color:#444;font-weight:400;">12/31/2024</span>
<span class="fs" style="left:88.30px;top:129.20px;font-size:2.2px;line-height:2.64px;color:#333;font-weight:400;">to</span>
<span class="fs" style="left:82.00px;top:134.70px;font-size:2.7px;line-height:3.24px;color:#1f2c44;font-weight:700;">Projects</span>
<div style="left:18.00px;top:139.00px;width:142.50px;height:6.80px;background:#fff;border-radius:.8px"></div>
<span class="fs" style="left:18.00px;top:140.60px;font-size:2.6px;line-height:3.12px;color:#999;font-weight:400;width:142.50px;text-align:center">Select...</span>
<span class="fs" style="left:153.00px;top:140.40px;font-size:2.6px;line-height:3.12px;color:#bbb;font-weight:400;">| ⌄</span>
<div style="left:18.00px;top:149.00px;width:142.50px;height:70.60px;background:#fff;border-radius:.8px"></div>
<div style="left:78.20px;top:155.00px;width:0.25px;height:53.00px;background:#f6f6f6;"></div>
<div style="left:98.70px;top:155.00px;width:0.25px;height:53.00px;background:#f6f6f6;"></div>
<div style="left:119.20px;top:155.00px;width:0.25px;height:53.00px;background:#f6f6f6;"></div>
<div style="left:140.00px;top:155.00px;width:0.25px;height:53.00px;background:#f6f6f6;"></div>
<div style="left:58.00px;top:164.90px;width:82.00px;height:0.20px;background:#fafafa;"></div>
<div style="left:58.00px;top:174.10px;width:82.00px;height:0.20px;background:#fafafa;"></div>
<div style="left:58.00px;top:183.00px;width:82.00px;height:0.20px;background:#fafafa;"></div>
<div style="left:58.00px;top:192.00px;width:82.00px;height:0.20px;background:#fafafa;"></div>
<div style="left:58.00px;top:201.00px;width:82.00px;height:0.20px;background:#fafafa;"></div>
<div style="left:57.30px;top:155.00px;width:0.30px;height:54.00px;background:#888;"></div>
<div style="left:57.60px;top:208.80px;width:83.00px;height:0.25px;background:#e6e6e6;"></div>
<div style="left:57.80px;top:157.75px;width:78.95px;height:5.00px;background:#5d8fe8;"></div>
<span class="fs" style="left:138.35px;top:158.65px;font-size:2.8px;line-height:3.36px;color:#333;font-weight:400;">371 days</span>
<span class="fs" style="left:36.00px;top:157.55px;font-size:2.1px;line-height:2.52px;color:#333;font-weight:400;width:20.50px;text-align:right">Better Tomorrow</span>
<span class="fs" style="left:36.00px;top:160.05px;font-size:2.1px;line-height:2.52px;color:#333;font-weight:400;width:20.50px;text-align:right">Science Initiative</span>
<div style="left:57.80px;top:167.00px;width:31.45px;height:5.00px;background:#5d8fe8;"></div>
<span class="fs" style="left:90.85px;top:167.90px;font-size:2.8px;line-height:3.36px;color:#333;font-weight:400;">148 days</span>
<span class="fs" style="left:36.00px;top:166.80px;font-size:2.1px;line-height:2.52px;color:#333;font-weight:400;width:20.50px;text-align:right">Community Life</span>
<span class="fs" style="left:36.00px;top:169.30px;font-size:2.1px;line-height:2.52px;color:#333;font-weight:400;width:20.50px;text-align:right">Building</span>
<div style="left:57.80px;top:176.25px;width:12.95px;height:5.00px;background:#5d8fe8;"></div>
<span class="fs" style="left:72.35px;top:177.15px;font-size:2.8px;line-height:3.36px;color:#333;font-weight:400;">60 days</span>
<span class="fs" style="left:36.00px;top:177.35px;font-size:2.1px;line-height:2.52px;color:#333;font-weight:400;width:20.50px;text-align:right">Youth Outreach</span>
<div style="left:57.80px;top:185.00px;width:9.95px;height:5.00px;background:#5d8fe8;"></div>
<span class="fs" style="left:69.35px;top:185.90px;font-size:2.8px;line-height:3.36px;color:#333;font-weight:400;">45 days</span>
<span class="fs" style="left:36.00px;top:184.80px;font-size:2.1px;line-height:2.52px;color:#333;font-weight:400;width:20.50px;text-align:right">Clean Water for</span>
<span class="fs" style="left:36.00px;top:187.30px;font-size:2.1px;line-height:2.52px;color:#333;font-weight:400;width:20.50px;text-align:right">Everyone</span>
<div style="left:57.80px;top:194.00px;width:9.95px;height:5.00px;background:#5d8fe8;"></div>
<span class="fs" style="left:69.35px;top:194.90px;font-size:2.8px;line-height:3.36px;color:#333;font-weight:400;">45 days</span>
<span class="fs" style="left:36.00px;top:193.80px;font-size:2.1px;line-height:2.52px;color:#333;font-weight:400;width:20.50px;text-align:right">Healthcare for All</span>
<span class="fs" style="left:36.00px;top:196.30px;font-size:2.1px;line-height:2.52px;color:#333;font-weight:400;width:20.50px;text-align:right">Initiative</span>
<div style="left:57.80px;top:203.00px;width:6.95px;height:5.00px;background:#5d8fe8;"></div>
<span class="fs" style="left:66.35px;top:203.90px;font-size:2.8px;line-height:3.36px;color:#333;font-weight:400;">31 days</span>
<span class="fs" style="left:36.00px;top:202.80px;font-size:2.1px;line-height:2.52px;color:#333;font-weight:400;width:20.50px;text-align:right">Food for the</span>
<span class="fs" style="left:36.00px;top:205.30px;font-size:2.1px;line-height:2.52px;color:#333;font-weight:400;width:20.50px;text-align:right">Hungry</span>
<span class="fs" style="left:53.60px;top:210.50px;font-size:2.2px;line-height:2.64px;color:#777;font-weight:400;width:8.00px;text-align:center">0</span>
<span class="fs" style="left:74.20px;top:210.50px;font-size:2.2px;line-height:2.64px;color:#777;font-weight:400;width:8.00px;text-align:center">100</span>
<span class="fs" style="left:94.70px;top:210.50px;font-size:2.2px;line-height:2.64px;color:#777;font-weight:400;width:8.00px;text-align:center">200</span>
<span class="fs" style="left:115.20px;top:210.50px;font-size:2.2px;line-height:2.64px;color:#777;font-weight:400;width:8.00px;text-align:center">300</span>
<span class="fs" style="left:136.00px;top:210.50px;font-size:2.2px;line-height:2.64px;color:#777;font-weight:400;width:8.00px;text-align:center">400</span>
<span class="fs" style="left:86.00px;top:213.60px;font-size:2.6px;line-height:3.12px;color:#555;font-weight:400;">Number of days open</span>
<div style="left:221.00px;top:116.00px;width:214.00px;height:107.00px;background:#f5f5f6;"></div>
<div style="left:430.00px;top:116.00px;width:5.00px;height:107.00px;background:#fbfbfb;"></div>
<span class="fs" style="left:228.00px;top:120.30px;font-size:5.15px;line-height:6.18px;color:#222;font-weight:700;">Longest Open Issues</span>
<span class="fs" style="left:263.30px;top:130.00px;font-size:2.95px;line-height:3.54px;color:#2a2a2a;font-weight:700;">Date Range</span>
<div style="left:228.00px;top:136.00px;width:41.50px;height:5.50px;background:#f9f9f9;border:.25px solid #efefef;box-sizing:border-box"></div>
<div style="left:274.80px;top:136.00px;width:41.00px;height:5.50px;background:#f9f9f9;border:.25px solid #efefef;box-sizing:border-box"></div>
<div style="left:270.00px;top:136.30px;width:4.60px;height:5.00px;background:#ececec;"></div>
<span class="fs" style="left:230.00px;top:137.40px;font-size:2.5px;line-height:3.00px;color:#999;font-weight:400;">01/01/2024</span>
<span class="fs" style="left:276.60px;top:137.40px;font-size:2.5px;line-height:3.00px;color:#aaa;font-weight:400;">12/31/2024</span>
<span class="fs" style="left:270.90px;top:137.00px;font-size:2.9px;line-height:3.48px;color:#333;font-weight:700;">to</span>
<span class="fs" style="left:402.00px;top:128.00px;font-size:2.8px;line-height:3.36px;color:#222;font-weight:700;">Projects</span>
<div style="left:391.70px;top:135.20px;width:32.60px;height:6.80px;background:#fff;border:.3px solid #ddd;box-sizing:border-box;border-radius:.8px"></div>
<span class="fs" style="left:400.00px;top:137.20px;font-size:2.5px;line-height:3.00px;color:#999;font-weight:400;">Select...</span>
<span class="fs" style="left:416.00px;top:137.00px;font-size:2.5px;line-height:3.00px;color:#ccc;font-weight:400;">|  ⌄</span>
<div style="left:228.00px;top:146.00px;width:198.00px;height:77.00px;background:#fff;border-radius:1px 1px 0 0"></div>
<div style="left:295.70px;top:152.00px;width:0.25px;height:71.00px;background:#f4f4f4;"></div>
<div style="left:334.00px;top:152.00px;width:0.25px;height:71.00px;background:#f4f4f4;"></div>
<div style="left:372.50px;top:152.00px;width:0.25px;height:71.00px;background:#f4f4f4;"></div>
<div style="left:411.00px;top:152.00px;width:0.25px;height:71.00px;background:#f4f4f4;"></div>
<div style="left:256.00px;top:165.80px;width:155.00px;height:0.25px;background:#f7f7f7;"></div>
<div style="left:256.00px;top:177.00px;width:155.00px;height:0.25px;background:#f7f7f7;"></div>
<div style="left:256.00px;top:188.00px;width:155.00px;height:0.25px;background:#f7f7f7;"></div>
<div style="left:256.00px;top:199.00px;width:155.00px;height:0.25px;background:#f7f7f7;"></div>
<div style="left:256.00px;top:210.00px;width:155.00px;height:0.25px;background:#f7f7f7;"></div>
<div style="left:255.90px;top:152.00px;width:0.30px;height:71.00px;background:#e4e4e4;"></div>
<div style="left:256.25px;top:157.75px;width:150.75px;height:5.00px;background:#5f91ea;"></div>
<span class="fs" style="left:408.60px;top:158.85px;font-size:2.5px;line-height:3.00px;color:#444;font-weight:400;">371 days</span>
<span class="fs" style="left:234.00px;top:157.55px;font-size:2.1px;line-height:2.52px;color:#333;font-weight:400;width:20.50px;text-align:right">Better Tomorrow</span>
<span class="fs" style="left:234.00px;top:160.05px;font-size:2.1px;line-height:2.52px;color:#333;font-weight:400;width:20.50px;text-align:right">Science Initiative</span>
<div style="left:256.25px;top:169.00px;width:60.50px;height:5.00px;background:#5f91ea;"></div>
<span class="fs" style="left:318.35px;top:170.10px;font-size:2.5px;line-height:3.00px;color:#444;font-weight:400;">148 days</span>
<span class="fs" style="left:234.00px;top:168.80px;font-size:2.1px;line-height:2.52px;color:#333;font-weight:400;width:20.50px;text-align:right">Community Life</span>
<span class="fs" style="left:234.00px;top:171.30px;font-size:2.1px;line-height:2.52px;color:#333;font-weight:400;width:20.50px;text-align:right">Building</span>
<div style="left:256.25px;top:180.00px;width:25.50px;height:5.00px;background:#5f91ea;"></div>
<span class="fs" style="left:283.35px;top:181.10px;font-size:2.5px;line-height:3.00px;color:#444;font-weight:400;">60 days</span>
<span class="fs" style="left:234.00px;top:181.10px;font-size:2.1px;line-height:2.52px;color:#333;font-weight:400;width:20.50px;text-align:right">Youth Outreach</span>
<div style="left:256.25px;top:191.00px;width:19.50px;height:5.00px;background:#5f91ea;"></div>
<span class="fs" style="left:277.35px;top:192.10px;font-size:2.5px;line-height:3.00px;color:#444;font-weight:400;">45 days</span>
<span class="fs" style="left:234.00px;top:190.80px;font-size:2.1px;line-height:2.52px;color:#333;font-weight:400;width:20.50px;text-align:right">Clean Water for</span>
<span class="fs" style="left:234.00px;top:193.30px;font-size:2.1px;line-height:2.52px;color:#333;font-weight:400;width:20.50px;text-align:right">Everyone</span>
<div style="left:256.25px;top:202.00px;width:19.50px;height:5.00px;background:#5f91ea;"></div>
<span class="fs" style="left:277.35px;top:203.10px;font-size:2.5px;line-height:3.00px;color:#444;font-weight:400;">45 days</span>
<span class="fs" style="left:234.00px;top:201.80px;font-size:2.1px;line-height:2.52px;color:#333;font-weight:400;width:20.50px;text-align:right">Healthcare for All</span>
<span class="fs" style="left:234.00px;top:204.30px;font-size:2.1px;line-height:2.52px;color:#333;font-weight:400;width:20.50px;text-align:right">Initiative</span>
<div style="left:256.25px;top:213.00px;width:13.75px;height:5.00px;background:#5f91ea;"></div>
<span class="fs" style="left:271.60px;top:214.10px;font-size:2.5px;line-height:3.00px;color:#444;font-weight:400;">31 days</span>
<span class="fs" style="left:234.00px;top:212.80px;font-size:2.1px;line-height:2.52px;color:#333;font-weight:400;width:20.50px;text-align:right">Food for the</span>
<span class="fs" style="left:234.00px;top:215.30px;font-size:2.1px;line-height:2.52px;color:#333;font-weight:400;width:20.50px;text-align:right">Hungry</span>
<div style="left:439.00px;top:116.00px;width:213.00px;height:107.00px;background:#fff;"></div>
<svg style="left:0;top:0" width="656" height="450" viewBox="0 0 656 450"><path d="M583.30 170.60A37.3 37.3 0 0 0 510.20 160.13L523.44 164.00A23.5 23.5 0 0 1 569.50 170.60Z" fill="#f8474d"/><path d="M510.20 160.13A37.3 37.3 0 0 0 546.00 207.90L546.00 194.10A23.5 23.5 0 0 1 523.44 164.00Z" fill="#fdbb12"/><path d="M546.00 207.90A37.3 37.3 0 0 0 583.30 170.60L569.50 170.60A23.5 23.5 0 0 1 546.00 194.10Z" fill="#2491f8"/></svg>
<span class="fs" style="left:552.70px;top:125.90px;font-size:3.85px;line-height:4.62px;color:#f8474d;font-weight:400;">Web Search: 46.2% (6)</span>
<span class="fs" style="left:444.40px;top:191.40px;font-size:3.85px;line-height:4.62px;color:#fdbb12;font-weight:400;">Referral by current volunteer: 30.8% (4)</span>
<span class="fs" style="left:575.00px;top:197.80px;font-size:3.9px;line-height:4.68px;color:#2491f8;font-weight:400;">Volunteer Match: 23.1% (3)</span>
<div style="left:480.60px;top:219.70px;width:3.20px;height:2.60px;background:#f8474d;"></div>
<span class="fs" style="left:485.20px;top:218.75px;font-size:3.5px;line-height:4.20px;color:#555;font-weight:400;">Web Search</span>
<div style="left:513.80px;top:219.70px;width:3.20px;height:2.60px;background:#fdbb12;"></div>
<span class="fs" style="left:518.40px;top:218.75px;font-size:3.5px;line-height:4.20px;color:#555;font-weight:400;">Referral by current volunteer</span>
<div style="left:572.50px;top:219.70px;width:3.20px;height:2.60px;background:#2491f8;"></div>
<span class="fs" style="left:577.20px;top:218.75px;font-size:3.5px;line-height:4.20px;color:#555;font-weight:400;">Volunteer Match</span>
<div style="left:4.00px;top:227.00px;width:159.00px;height:108.00px;background:#1f1f1f;"></div>
<div style="left:4.00px;top:227.00px;width:17.00px;height:108.00px;background:#181818;"></div>
<div style="left:21.00px;top:227.00px;width:0.30px;height:108.00px;background:#2b2b2b;"></div>
<div style="left:21.30px;top:227.00px;width:141.70px;height:5.00px;background:#181818;"></div>
<div style="left:24.00px;top:227.00px;width:26.00px;height:5.00px;background:#1f1f1f;"></div>
<span class="fs" style="left:26.00px;top:228.50px;font-size:2.4px;line-height:2.88px;color:#e8c080;font-weight:400;">ToolsReturnedLate.jsx  ×</span>
<span class="fs" style="left:53.00px;top:228.50px;font-size:2.3px;line-height:2.76px;color:#8a8a8a;font-weight:400;">Dashboard.jsx            api.js                     Filters.jsx                 Chart.jsx</span>
<span class="fs" style="left:25.00px;top:232.60px;font-size:2.3px;line-height:2.76px;color:#9d9d9d;font-weight:400;">src &gt; components &gt; ToolsReturnedLate &gt; ToolsReturnedLate.jsx &gt; ToolsReturnedLate</span>
<div style="left:4.00px;top:288.40px;width:18.00px;height:2.90px;background:#04395e;"></div>
<span class="fs" style="left:4.50px;top:234.20px;font-size:2.5px;line-height:2.9px;color:#bbb;font-weight:400;width:16px;clip-path:inset(-1px 0 -1px 0)">ICES</span>
<span class="fs" style="left:4.50px;top:237.10px;font-size:2.5px;line-height:2.9px;color:#bbb;font-weight:400;width:16px;clip-path:inset(-1px 0 -1px 0)"></span>
<span class="fs" style="left:4.50px;top:242.90px;font-size:2.5px;line-height:2.9px;color:#bbb;font-weight:400;width:16px;clip-path:inset(-1px 0 -1px 0)">ents</span>
<span class="fs" style="left:4.50px;top:245.80px;font-size:2.5px;line-height:2.9px;color:#bbb;font-weight:400;width:16px;clip-path:inset(-1px 0 -1px 0)">ooks</span>
<span class="fs" style="left:4.50px;top:251.60px;font-size:2.5px;line-height:2.9px;color:#bbb;font-weight:400;width:16px;clip-path:inset(-1px 0 -1px 0)">pages</span>
<span class="fs" style="left:4.50px;top:254.50px;font-size:2.5px;line-height:2.9px;color:#bbb;font-weight:400;width:16px;clip-path:inset(-1px 0 -1px 0)">chart</span>
<span class="fs" style="left:4.50px;top:257.40px;font-size:2.5px;line-height:2.9px;color:#bbb;font-weight:400;width:16px;clip-path:inset(-1px 0 -1px 0)">utils</span>
<span class="fs" style="left:4.50px;top:260.30px;font-size:2.5px;line-height:2.9px;color:#bbb;font-weight:400;width:16px;clip-path:inset(-1px 0 -1px 0)">styles</span>
<span class="fs" style="left:4.50px;top:266.10px;font-size:2.5px;line-height:2.9px;color:#bbb;font-weight:400;width:16px;clip-path:inset(-1px 0 -1px 0)">ReturnedLate</span>
<span class="fs" style="left:4.50px;top:277.70px;font-size:2.5px;line-height:2.9px;color:#bbb;font-weight:400;width:16px;clip-path:inset(-1px 0 -1px 0)">api</span>
<span class="fs" style="left:4.50px;top:283.50px;font-size:2.5px;line-height:2.9px;color:#bbb;font-weight:400;width:16px;clip-path:inset(-1px 0 -1px 0)">index.js</span>
<span class="fs" style="left:4.50px;top:286.40px;font-size:2.5px;line-height:2.9px;color:#fff;font-weight:400;width:16px;clip-path:inset(-1px 0 -1px 0)">ate.jsx</span>
<span class="fs" style="left:4.50px;top:289.30px;font-size:2.5px;line-height:2.9px;color:#ddd;font-weight:400;width:16px;clip-path:inset(-1px 0 -1px 0)">ate.css</span>
<span class="fs" style="left:4.50px;top:292.20px;font-size:2.5px;line-height:2.9px;color:#bbb;font-weight:400;width:16px;clip-path:inset(-1px 0 -1px 0)">ODULES</span>
<span class="fs" style="left:4.50px;top:312.50px;font-size:2.5px;line-height:2.9px;color:#bbb;font-weight:400;width:16px;clip-path:inset(-1px 0 -1px 0)">son</span>
<span class="fs" style="left:4.50px;top:315.40px;font-size:2.5px;line-height:2.9px;color:#bbb;font-weight:400;width:16px;clip-path:inset(-1px 0 -1px 0)">lock</span>
<div style="left:17.20px;top:282.60px;width:1.70px;height:1.50px;background:#b8c4cc;"></div>
<div style="left:17.20px;top:286.00px;width:1.70px;height:1.50px;background:#b8c4cc;"></div>
<div style="left:17.20px;top:289.20px;width:1.70px;height:1.50px;background:#b8c4cc;"></div>
<div style="left:17.20px;top:292.80px;width:1.70px;height:1.50px;background:#b8c4cc;"></div>
<span class="fm" style="left:23.60px;top:236.10px;font-size:2.1px;line-height:2.925px;color:#6e7681;width:5px;text-align:right">88</span>
<span class="fm" style="left:23.60px;top:239.03px;font-size:2.1px;line-height:2.925px;color:#6e7681;width:5px;text-align:right">89</span>
<span class="fm" style="left:23.60px;top:241.95px;font-size:2.1px;line-height:2.925px;color:#6e7681;width:5px;text-align:right">90</span>
<span class="fm" style="left:23.60px;top:244.88px;font-size:2.1px;line-height:2.925px;color:#6e7681;width:5px;text-align:right">91</span>
<span class="fm" style="left:23.60px;top:247.80px;font-size:2.1px;line-height:2.925px;color:#6e7681;width:5px;text-align:right">92</span>
<span class="fm" style="left:23.60px;top:250.72px;font-size:2.1px;line-height:2.925px;color:#6e7681;width:5px;text-align:right">93</span>
<span class="fm" style="left:23.60px;top:253.65px;font-size:2.1px;line-height:2.925px;color:#6e7681;width:5px;text-align:right">94</span>
<span class="fm" style="left:23.60px;top:256.57px;font-size:2.1px;line-height:2.925px;color:#6e7681;width:5px;text-align:right">95</span>
<span class="fm" style="left:23.60px;top:259.50px;font-size:2.1px;line-height:2.925px;color:#6e7681;width:5px;text-align:right">96</span>
<span class="fm" style="left:23.60px;top:262.43px;font-size:2.1px;line-height:2.925px;color:#6e7681;width:5px;text-align:right">97</span>
<span class="fm" style="left:23.60px;top:265.35px;font-size:2.1px;line-height:2.925px;color:#6e7681;width:5px;text-align:right">98</span>
<span class="fm" style="left:23.60px;top:268.27px;font-size:2.1px;line-height:2.925px;color:#6e7681;width:5px;text-align:right">99</span>
<span class="fm" style="left:23.60px;top:271.20px;font-size:2.1px;line-height:2.925px;color:#6e7681;width:5px;text-align:right">100</span>
<span class="fm" style="left:23.60px;top:274.12px;font-size:2.1px;line-height:2.925px;color:#6e7681;width:5px;text-align:right">101</span>
<span class="fm" style="left:23.60px;top:277.05px;font-size:2.1px;line-height:2.925px;color:#6e7681;width:5px;text-align:right">102</span>
<span class="fm" style="left:23.60px;top:279.98px;font-size:2.1px;line-height:2.925px;color:#6e7681;width:5px;text-align:right">103</span>
<span class="fm" style="left:23.60px;top:282.90px;font-size:2.1px;line-height:2.925px;color:#6e7681;width:5px;text-align:right">104</span>
<span class="fm" style="left:23.60px;top:285.82px;font-size:2.1px;line-height:2.925px;color:#6e7681;width:5px;text-align:right">105</span>
<span class="fm" style="left:23.60px;top:288.75px;font-size:2.1px;line-height:2.925px;color:#6e7681;width:5px;text-align:right">106</span>
<span class="fm" style="left:23.60px;top:291.68px;font-size:2.1px;line-height:2.925px;color:#6e7681;width:5px;text-align:right">107</span>
<span class="fm" style="left:23.60px;top:294.60px;font-size:2.1px;line-height:2.925px;color:#6e7681;width:5px;text-align:right">108</span>
<span class="fm" style="left:23.60px;top:297.52px;font-size:2.1px;line-height:2.925px;color:#6e7681;width:5px;text-align:right">109</span>
<span class="fm" style="left:23.60px;top:300.45px;font-size:2.1px;line-height:2.925px;color:#6e7681;width:5px;text-align:right">110</span>
<span class="fm" style="left:23.60px;top:303.38px;font-size:2.1px;line-height:2.925px;color:#6e7681;width:5px;text-align:right">111</span>
<span class="fm" style="left:23.60px;top:306.30px;font-size:2.1px;line-height:2.925px;color:#6e7681;width:5px;text-align:right">112</span>
<span class="fm" style="left:23.60px;top:309.23px;font-size:2.1px;line-height:2.925px;color:#6e7681;width:5px;text-align:right">113</span>
<span class="fm" style="left:23.60px;top:312.15px;font-size:2.1px;line-height:2.925px;color:#6e7681;width:5px;text-align:right">114</span>
<span class="fm" style="left:23.60px;top:315.07px;font-size:2.1px;line-height:2.925px;color:#6e7681;width:5px;text-align:right">115</span>
<span class="fm" style="left:23.60px;top:318.00px;font-size:2.1px;line-height:2.925px;color:#6e7681;width:5px;text-align:right">116</span>
<span class="fm" style="left:32.50px;top:237.35px;font-size:2.5px;line-height:2.925px;font-weight:400;opacity:0.85"><i style="color:#d4d4d4">port</i> <i style="color:#d4d4d4">:</i> <i style="color:#ce9178">&quot;value_status&quot;</i> <i style="color:#b5cea8">55</i> <i style="color:#9cdcfe">sta</i></span>
<span class="fm" style="left:42.50px;top:240.28px;font-size:2.5px;line-height:2.925px;font-weight:400;opacity:0.85"><i style="color:#569cd6">let</i> <i style="color:#dcdcaa">rows(</i> <i style="color:#569cd6">return</i> <i style="color:#d4d4d4">conn</i> <i style="color:#9cdcfe">url_query</i> <i style="color:#dcdcaa">field(</i> <i style="color:#4ec9b0">ConnMe</i></span>
<span class="fm" style="left:46.25px;top:243.20px;font-size:2.5px;line-height:2.925px;font-weight:400;opacity:0.85"><i style="color:#569cd6">const</i> <i style="color:#dcdcaa">app(</i> <i style="color:#dcdcaa">session(</i> <i style="color:#ce9178">&quot;end_fi</i></span>
<span class="fm" style="left:42.50px;top:246.12px;font-size:2.5px;line-height:2.925px;font-weight:400;opacity:0.85"><i style="color:#c586c0">for</i></span>
<span class="fm" style="left:42.50px;top:249.05px;font-size:2.5px;line-height:2.925px;font-weight:400;opacity:0.85"><i style="color:#c586c0">Tru</i></span>
<span class="fm" style="left:37.00px;top:251.97px;font-size:2.5px;line-height:2.925px;font-weight:400;opacity:0.85"><i style="color:#c586c0">wi</i></span>
<span class="fm" style="left:35.00px;top:254.90px;font-size:2.5px;line-height:2.925px;font-weight:400;opacity:0.85"><i style="color:#c586c0">a</i></span>
<span class="fm" style="left:35.00px;top:260.75px;font-size:2.5px;line-height:2.925px;font-weight:400;opacity:0.85"><i style="color:#569cd6">return</i></span>
<span class="fm" style="left:37.00px;top:263.68px;font-size:2.5px;line-height:2.925px;font-weight:400;opacity:0.85"><i style="color:#569cd6">class</i> <i style="color:#4ec9b0">IdParams</i> <i style="color:#dcdcaa">url(</i> <i style="color:#9cdcfe">value_village</i> <i style="color:#9cdcfe">index_db</i></span>
<span class="fm" style="left:40.50px;top:266.60px;font-size:2.5px;line-height:2.925px;font-weight:400;opacity:0.85"><i style="color:#569cd6">await</i> <i style="color:#dcdcaa">rows(</i> <i style="color:#b5cea8">30</i></span>
<span class="fm" style="left:40.50px;top:269.52px;font-size:2.5px;line-height:2.925px;font-weight:400;opacity:0.85"><i style="color:#569cd6">in</i> <i style="color:#9cdcfe">label_response</i> <i style="color:#ce9178">&quot;url_name&quot;</i> <i style="color:#569cd6">class</i> <i style="color:#4ec9b0">TokenPort</i> <i style="color:#9cdcfe">region_record</i> <i style="color:#d4d4d4">.</i></span>
<span class="fm" style="left:43.00px;top:272.45px;font-size:2.5px;line-height:2.925px;font-weight:400;opacity:0.85"><i style="color:#4ec9b0">PathModel</i> <i style="color:#569cd6">in</i> <i style="color:#9cdcfe">start_</i></span>
<span class="fm" style="left:44.50px;top:275.38px;font-size:2.5px;line-height:2.925px;font-weight:400;opacity:0.85"><i style="color:#569cd6">if</i> <i style="color:#dcdcaa">query(</i> <i style="color:#ce9178">&quot;cursor_pro</i></span>
<span class="fm" style="left:48.00px;top:278.30px;font-size:2.5px;line-height:2.925px;font-weight:400;opacity:0.85"><i style="color:#4ec9b0">&lt;Contain</i></span>
<span class="fm" style="left:49.50px;top:281.23px;font-size:2.5px;line-height:2.925px;font-weight:400;opacity:0.85"><i style="color:#d4d4d4">response</i> <i style="color:#d4d4d4">period</i> <i style="color:#d4d4d4">:</i> <i style="color:#9cdcfe">port_logger</i></span>
<span class="fm" style="left:49.50px;top:284.15px;font-size:2.5px;line-height:2.925px;font-weight:400;opacity:0.85"><i style="color:#c586c0">from</i> <i style="color:#ce9178">&quot;chart_session&quot;</i> <i style="color:#569cd6">for</i> <i style="color:#dcdcaa">metric(</i> <i style="color:#dcdcaa">period(</i> <i style="color:#9cdcfe">option_filter</i> <i style="color:#9cdcfe">record_lat</i></span>
<span class="fm" style="left:51.00px;top:287.07px;font-size:2.5px;line-height:2.925px;font-weight:400;opacity:0.85"><i style="color:#b5cea8">592</i> <i style="color:#9cdcfe">index_type</i> <i style="color:#dcdcaa">option(</i> <i style="color:#ce9178">&quot;label_r</i></span>
<span class="fm" style="left:51.00px;top:290.00px;font-size:2.5px;line-height:2.925px;font-weight:400;opacity:0.85"><i style="color:#d4d4d4">=</i> <i style="color:#9cdcfe">env_label</i> <i style="color:#4ec9b0">SchemaParam</i></span>
<span class="fm" style="left:53.00px;top:292.93px;font-size:2.5px;line-height:2.925px;font-weight:400;opacity:0.85"><i style="color:#4ec9b0">LabelSession</i> <i style="color:#9cdcfe">range_state</i> <i style="color:#dcdcaa">volunteer(</i> <i style="color:#dcdcaa">pe</i></span>
<span class="fm" style="left:54.50px;top:295.85px;font-size:2.5px;line-height:2.925px;font-weight:400;opacity:0.85"><i style="color:#569cd6">None</i> <i style="color:#d4d4d4">response</i></span>
<span class="fm" style="left:53.75px;top:298.77px;font-size:2.5px;line-height:2.925px;font-weight:400;opacity:0.85"><i style="color:#d4d4d4">()</i> <i style="color:#d4d4d4">:</i> <i style="color:#9cdcfe">db</i></span>
<span class="fm" style="left:52.00px;top:301.70px;font-size:2.5px;line-height:2.925px;font-weight:400;opacity:0.85"><i style="color:#569cd6">el</i></span>
<span class="fm" style="left:49.50px;top:304.62px;font-size:2.5px;line-height:2.925px;font-weight:400;opacity:0.85"><i style="color:#ce9178">&quot;end_</i></span>
<span class="fm" style="left:48.00px;top:307.55px;font-size:2.5px;line-height:2.925px;font-weight:400;opacity:0.85"><i style="color:#4ec9b0">&lt;Contain</i></span>
<span class="fm" style="left:45.00px;top:310.48px;font-size:2.5px;line-height:2.925px;font-weight:400;opacity:0.85"><i style="color:#4ec9b0">Key</i></span>
<span class="fm" style="left:45.00px;top:316.32px;font-size:2.5px;line-height:2.925px;font-weight:400;opacity:0.85"><i style="color:#569cd6">for</i> <i style="color:#9cdcfe">port_secret</i> <i style="color:#9cdcfe">reque</i></span>
<span class="fm" style="left:48.75px;top:319.25px;font-size:2.5px;line-height:2.925px;font-weight:400;opacity:0.85"><i style="color:#4ec9b0">&lt;Cont</i></span>
<div style="left:21.30px;top:322.60px;width:141.70px;height:12.40px;background:#1f1f1f;"></div>
<div style="left:21.30px;top:322.60px;width:141.70px;height:0.30px;background:#2b2b2b;"></div>
<span class="fs" style="left:25.00px;top:323.90px;font-size:2.2px;line-height:2.64px;color:#8d8d8d;font-weight:400;">PROBLEMS    OUTPUT    DEBUG CONSOLE    TERMINAL    PORTS    GITLENS</span>
<div style="left:64.50px;top:326.30px;width:6.00px;height:0.30px;background:#ddd;"></div>
<span class="fs" style="left:140.00px;top:323.90px;font-size:2.3px;line-height:2.76px;color:#bbb;font-weight:400;">⊞ node  +  ∨  ⊟  ×</span>
<span class="fs" style="left:26.00px;top:329.30px;font-size:2.4px;line-height:2.88px;color:#ccc;font-weight:400;">➜  Local:   localhost:5173/</span>
<span class="fs" style="left:26.00px;top:332.10px;font-size:2.4px;line-height:2.88px;color:#999;font-weight:400;">➜  press h + enter to show help</span>
<div style="left:167.00px;top:227.00px;width:159.00px;height:108.00px;background:#1f1f1f;"></div>
<div style="left:167.00px;top:227.00px;width:37.00px;height:108.00px;background:#181818;"></div>
<div style="left:204.00px;top:227.00px;width:0.30px;height:108.00px;background:#2b2b2b;"></div>
<div style="left:204.30px;top:227.00px;width:121.70px;height:2.60px;background:#181818;"></div>
<span class="fs" style="left:206.00px;top:226.90px;font-size:2.1px;line-height:2.52px;color:#999;font-weight:400;">models.py      serializers.py      views.py  ×     urls.py     tests.py     admin.py      settings.py     README.md</span>
<span class="fs" style="left:208.00px;top:229.70px;font-size:2.1px;line-height:2.52px;color:#8a8a8a;font-weight:400;">backend &gt; api &gt; views.py &gt; ListingViewSet &gt; get_queryset</span>
<div style="left:167.00px;top:274.00px;width:37.00px;height:2.80px;background:#2c3950;"></div>
<span class="fs" style="left:168.00px;top:228.60px;font-size:2.5px;line-height:2.7px;color:#ddd;font-weight:400;width:35.5px;clip-path:inset(-1px 0 -1px 0)">    vite.config.js</span>
<span class="fs" style="left:168.00px;top:231.30px;font-size:2.5px;line-height:2.7px;color:#ccc;font-weight:400;width:35.5px;clip-path:inset(-1px 0 -1px 0)">   .env</span>
<span class="fs" style="left:168.00px;top:234.00px;font-size:2.5px;line-height:2.7px;color:#ccc;font-weight:400;width:35.5px;clip-path:inset(-1px 0 -1px 0)">    Filters.jsx</span>
<span class="fs" style="left:168.00px;top:236.70px;font-size:2.5px;line-height:2.7px;color:#bbb;font-weight:400;width:35.5px;clip-path:inset(-1px 0 -1px 0)">   node_modules components</span>
<span class="fs" style="left:168.00px;top:239.40px;font-size:2.5px;line-height:2.7px;color:#c4c4c4;font-weight:400;width:35.5px;clip-path:inset(-1px 0 -1px 0)"> › Table.jsx</span>
<span class="fs" style="left:168.00px;top:242.10px;font-size:2.5px;line-height:2.7px;color:#e2c08d;font-weight:400;width:35.5px;clip-path:inset(-1px 0 -1px 0)"> › forms.py __pycache__</span>
<span class="fs" style="left:168.00px;top:244.80px;font-size:2.5px;line-height:2.7px;color:#e2c08d;font-weight:400;width:35.5px;clip-path:inset(-1px 0 -1px 0)">   serializers.py views.py</span>
<span class="fs" style="left:168.00px;top:247.50px;font-size:2.5px;line-height:2.7px;color:#ccc;font-weight:400;width:35.5px;clip-path:inset(-1px 0 -1px 0)">   urls.py</span>
<span class="fs" style="left:168.00px;top:250.20px;font-size:2.5px;line-height:2.7px;color:#ccc;font-weight:400;width:35.5px;clip-path:inset(-1px 0 -1px 0)">    migrations</span>
<span class="fs" style="left:168.00px;top:252.90px;font-size:2.5px;line-height:2.7px;color:#ddd;font-weight:400;width:35.5px;clip-path:inset(-1px 0 -1px 0)">    tests</span>
<span class="fs" style="left:168.00px;top:255.60px;font-size:2.5px;line-height:2.7px;color:#c4c4c4;font-weight:400;width:35.5px;clip-path:inset(-1px 0 -1px 0)">    src Chart.jsx</span>
<span class="fs" style="left:168.00px;top:258.30px;font-size:2.5px;line-height:2.7px;color:#ddd;font-weight:400;width:35.5px;clip-path:inset(-1px 0 -1px 0)">   api.js</span>
<span class="fs" style="left:168.00px;top:261.00px;font-size:2.5px;line-height:2.7px;color:#ccc;font-weight:400;width:35.5px;clip-path:inset(-1px 0 -1px 0)">  services</span>
<span class="fs" style="left:168.00px;top:263.70px;font-size:2.5px;line-height:2.7px;color:#ddd;font-weight:400;width:35.5px;clip-path:inset(-1px 0 -1px 0)">    migrations</span>
<span class="fs" style="left:168.00px;top:266.40px;font-size:2.5px;line-height:2.7px;color:#e2c08d;font-weight:400;width:35.5px;clip-path:inset(-1px 0 -1px 0)">  manage.py</span>
<span class="fs" style="left:168.00px;top:269.10px;font-size:2.5px;line-height:2.7px;color:#eee;font-weight:400;width:35.5px;clip-path:inset(-1px 0 -1px 0)">   apps.py</span>
<span class="fs" style="left:168.00px;top:271.80px;font-size:2.5px;line-height:2.7px;color:#c4c4c4;font-weight:400;width:35.5px;clip-path:inset(-1px 0 -1px 0)">  › Dockerfile</span>
<span class="fs" style="left:168.00px;top:274.50px;font-size:2.5px;line-height:2.7px;color:#ccc;font-weight:400;width:35.5px;clip-path:inset(-1px 0 -1px 0)">  › admin.py</span>
<span class="fs" style="left:168.00px;top:277.20px;font-size:2.5px;line-height:2.7px;color:#bbb;font-weight:400;width:35.5px;clip-path:inset(-1px 0 -1px 0)">    components</span>
<span class="fs" style="left:168.00px;top:279.90px;font-size:2.5px;line-height:2.7px;color:#ccc;font-weight:400;width:35.5px;clip-path:inset(-1px 0 -1px 0)">    Dashboard.jsx</span>
<span class="fs" style="left:168.00px;top:282.60px;font-size:2.5px;line-height:2.7px;color:#ccc;font-weight:400;width:35.5px;clip-path:inset(-1px 0 -1px 0)">    api.js utils</span>
<span class="fs" style="left:168.00px;top:285.30px;font-size:2.5px;line-height:2.7px;color:#ccc;font-weight:400;width:35.5px;clip-path:inset(-1px 0 -1px 0)"> › .gitignore</span>
<span class="fs" style="left:168.00px;top:288.00px;font-size:2.5px;line-height:2.7px;color:#ccc;font-weight:400;width:35.5px;clip-path:inset(-1px 0 -1px 0)"> › static</span>
<span class="fs" style="left:168.00px;top:290.70px;font-size:2.5px;line-height:2.7px;color:#eee;font-weight:400;width:35.5px;clip-path:inset(-1px 0 -1px 0)">    .env static</span>
<span class="fs" style="left:168.00px;top:293.40px;font-size:2.5px;line-height:2.7px;color:#bbb;font-weight:400;width:35.5px;clip-path:inset(-1px 0 -1px 0)">   components</span>
<span class="fs" style="left:168.00px;top:296.10px;font-size:2.5px;line-height:2.7px;color:#ccc;font-weight:400;width:35.5px;clip-path:inset(-1px 0 -1px 0)">› README.md Filters.jsx</span>
<span class="fs" style="left:168.00px;top:298.80px;font-size:2.5px;line-height:2.7px;color:#bbb;font-weight:400;width:35.5px;clip-path:inset(-1px 0 -1px 0)">   App.jsx</span>
<span class="fs" style="left:168.00px;top:301.50px;font-size:2.5px;line-height:2.7px;color:#eee;font-weight:400;width:35.5px;clip-path:inset(-1px 0 -1px 0)">    settings.py</span>
<span class="fs" style="left:168.00px;top:304.20px;font-size:2.5px;line-height:2.7px;color:#ccc;font-weight:400;width:35.5px;clip-path:inset(-1px 0 -1px 0)">    .gitignore package.json</span>
<span class="fs" style="left:168.00px;top:306.90px;font-size:2.5px;line-height:2.7px;color:#eee;font-weight:400;width:35.5px;clip-path:inset(-1px 0 -1px 0)">   Table.jsx</span>
<span class="fs" style="left:168.00px;top:309.60px;font-size:2.5px;line-height:2.7px;color:#eee;font-weight:400;width:35.5px;clip-path:inset(-1px 0 -1px 0)">  urls.py</span>
<span class="fs" style="left:168.00px;top:312.30px;font-size:2.5px;line-height:2.7px;color:#ccc;font-weight:400;width:35.5px;clip-path:inset(-1px 0 -1px 0)">    tests</span>
<span class="fs" style="left:168.00px;top:315.00px;font-size:2.5px;line-height:2.7px;color:#ccc;font-weight:400;width:35.5px;clip-path:inset(-1px 0 -1px 0)">  › Filters.jsx</span>
<span class="fs" style="left:168.00px;top:317.70px;font-size:2.5px;line-height:2.7px;color:#ccc;font-weight:400;width:35.5px;clip-path:inset(-1px 0 -1px 0)"> › Dashboard.jsx</span>
<span class="fs" style="left:168.00px;top:320.40px;font-size:2.5px;line-height:2.7px;color:#eee;font-weight:400;width:35.5px;clip-path:inset(-1px 0 -1px 0)">    api.js</span>
<span class="fs" style="left:168.00px;top:323.10px;font-size:2.5px;line-height:2.7px;color:#ccc;font-weight:400;width:35.5px;clip-path:inset(-1px 0 -1px 0)">    Chart.jsx</span>
<span class="fs" style="left:168.00px;top:325.80px;font-size:2.5px;line-height:2.7px;color:#eee;font-weight:400;width:35.5px;clip-path:inset(-1px 0 -1px 0)">   Chart.jsx</span>
<span class="fs" style="left:168.00px;top:328.50px;font-size:2.5px;line-height:2.7px;color:#eee;font-weight:400;width:35.5px;clip-path:inset(-1px 0 -1px 0)"> › Dashboard.jsx</span>
<span class="fs" style="left:168.00px;top:331.20px;font-size:2.5px;line-height:2.7px;color:#ccc;font-weight:400;width:35.5px;clip-path:inset(-1px 0 -1px 0)">    .gitignore</span>
<span class="fm" style="left:205.00px;top:231.90px;font-size:1.9px;line-height:2.2px;color:#6e7681;width:5px;text-align:right">40</span>
<span class="fm" style="left:205.00px;top:234.10px;font-size:1.9px;line-height:2.2px;color:#6e7681;width:5px;text-align:right">41</span>
<span class="fm" style="left:205.00px;top:236.30px;font-size:1.9px;line-height:2.2px;color:#6e7681;width:5px;text-align:right">42</span>
<span class="fm" style="left:205.00px;top:238.50px;font-size:1.9px;line-height:2.2px;color:#6e7681;width:5px;text-align:right">43</span>
<span class="fm" style="left:205.00px;top:240.70px;font-size:1.9px;line-height:2.2px;color:#6e7681;width:5px;text-align:right">44</span>
<span class="fm" style="left:205.00px;top:242.90px;font-size:1.9px;line-height:2.2px;color:#6e7681;width:5px;text-align:right">45</span>
<span class="fm" style="left:205.00px;top:245.10px;font-size:1.9px;line-height:2.2px;color:#6e7681;width:5px;text-align:right">46</span>
<span class="fm" style="left:205.00px;top:247.30px;font-size:1.9px;line-height:2.2px;color:#6e7681;width:5px;text-align:right">47</span>
<span class="fm" style="left:205.00px;top:249.50px;font-size:1.9px;line-height:2.2px;color:#6e7681;width:5px;text-align:right">48</span>
<span class="fm" style="left:205.00px;top:251.70px;font-size:1.9px;line-height:2.2px;color:#6e7681;width:5px;text-align:right">49</span>
<span class="fm" style="left:205.00px;top:253.90px;font-size:1.9px;line-height:2.2px;color:#6e7681;width:5px;text-align:right">50</span>
<span class="fm" style="left:205.00px;top:256.10px;font-size:1.9px;line-height:2.2px;color:#6e7681;width:5px;text-align:right">51</span>
<span class="fm" style="left:205.00px;top:258.30px;font-size:1.9px;line-height:2.2px;color:#6e7681;width:5px;text-align:right">52</span>
<span class="fm" style="left:205.00px;top:260.50px;font-size:1.9px;line-height:2.2px;color:#6e7681;width:5px;text-align:right">53</span>
<span class="fm" style="left:205.00px;top:262.70px;font-size:1.9px;line-height:2.2px;color:#6e7681;width:5px;text-align:right">54</span>
<span class="fm" style="left:205.00px;top:264.90px;font-size:1.9px;line-height:2.2px;color:#6e7681;width:5px;text-align:right">55</span>
<span class="fm" style="left:205.00px;top:267.10px;font-size:1.9px;line-height:2.2px;color:#6e7681;width:5px;text-align:right">56</span>
<span class="fm" style="left:205.00px;top:269.30px;font-size:1.9px;line-height:2.2px;color:#6e7681;width:5px;text-align:right">57</span>
<span class="fm" style="left:205.00px;top:271.50px;font-size:1.9px;line-height:2.2px;color:#6e7681;width:5px;text-align:right">58</span>
<span class="fm" style="left:205.00px;top:273.70px;font-size:1.9px;line-height:2.2px;color:#6e7681;width:5px;text-align:right">59</span>
<span class="fm" style="left:205.00px;top:275.90px;font-size:1.9px;line-height:2.2px;color:#6e7681;width:5px;text-align:right">60</span>
<span class="fm" style="left:205.00px;top:278.10px;font-size:1.9px;line-height:2.2px;color:#6e7681;width:5px;text-align:right">61</span>
<span class="fm" style="left:205.00px;top:280.30px;font-size:1.9px;line-height:2.2px;color:#6e7681;width:5px;text-align:right">62</span>
<span class="fm" style="left:205.00px;top:282.50px;font-size:1.9px;line-height:2.2px;color:#6e7681;width:5px;text-align:right">63</span>
<span class="fm" style="left:205.00px;top:284.70px;font-size:1.9px;line-height:2.2px;color:#6e7681;width:5px;text-align:right">64</span>
<span class="fm" style="left:205.00px;top:286.90px;font-size:1.9px;line-height:2.2px;color:#6e7681;width:5px;text-align:right">65</span>
<span class="fm" style="left:205.00px;top:289.10px;font-size:1.9px;line-height:2.2px;color:#6e7681;width:5px;text-align:right">66</span>
<span class="fm" style="left:205.00px;top:291.30px;font-size:1.9px;line-height:2.2px;color:#6e7681;width:5px;text-align:right">67</span>
<span class="fm" style="left:205.00px;top:293.50px;font-size:1.9px;line-height:2.2px;color:#6e7681;width:5px;text-align:right">68</span>
<span class="fm" style="left:205.00px;top:295.70px;font-size:1.9px;line-height:2.2px;color:#6e7681;width:5px;text-align:right">69</span>
<span class="fm" style="left:205.00px;top:297.90px;font-size:1.9px;line-height:2.2px;color:#6e7681;width:5px;text-align:right">70</span>
<span class="fm" style="left:205.00px;top:300.10px;font-size:1.9px;line-height:2.2px;color:#6e7681;width:5px;text-align:right">71</span>
<span class="fm" style="left:205.00px;top:302.30px;font-size:1.9px;line-height:2.2px;color:#6e7681;width:5px;text-align:right">72</span>
<span class="fm" style="left:205.00px;top:304.50px;font-size:1.9px;line-height:2.2px;color:#6e7681;width:5px;text-align:right">73</span>
<span class="fm" style="left:215.25px;top:232.10px;font-size:2.1px;line-height:2.2px;font-weight:400;opacity:1.0"><i style="color:#d4d4d4">=&gt;</i> <i style="color:#d4d4d4">==</i> <i style="color:#d4d4d4">),</i> <i style="color:#d4d4d4">),</i> <i style="color:#d4d4d4">date</i> <i style="color:#dcdcaa">config(</i> <i style="color:#dcdcaa">rou</i></span>
<span class="fm" style="left:215.25px;top:234.30px;font-size:2.1px;line-height:2.2px;font-weight:400;opacity:1.0"><i style="color:#c586c0">const</i> <i style="color:#d4d4d4">),</i> <i style="color:#569cd6">function</i> <i style="color:#d4d4d4">e</i></span>
<span class="fm" style="left:215.25px;top:236.50px;font-size:2.1px;line-height:2.2px;font-weight:400;opacity:1.0"><i style="color:#b5cea8">433</i> <i style="color:#9cdcfe">handler_id</i> <i style="color:#ce9178">&quot;model_path&quot;</i> <i style="color:#569cd6">from</i> <i style="color:#9cdcfe">status_typ</i></span>
<span class="fm" style="left:211.50px;top:240.90px;font-size:2.1px;line-height:2.2px;font-weight:400;opacity:1.0"><i style="color:#c586c0">in</i> <i style="color:#569cd6">export</i> <i style="color:#9cdcfe">late_project</i> <i style="color:#ce9178">&quot;index_respons</i></span>
<span class="fm" style="left:211.50px;top:245.30px;font-size:2.1px;line-height:2.2px;font-weight:400;opacity:1.0"><i style="color:#c586c0">function</i> <i style="color:#9cdcfe">params_secr</i></span>
<span class="fm" style="left:215.25px;top:247.50px;font-size:2.1px;line-height:2.2px;font-weight:400;opacity:1.0"><i style="color:#c586c0">in</i> <i style="color:#9cdcfe">project_total</i> <i style="color:#d4d4d4">]</i> <i style="color:#4ec9b0">EnvFilter</i> <i style="color:#ce9178">&quot;pa</i></span>
<span class="fm" style="left:215.25px;top:249.70px;font-size:2.1px;line-height:2.2px;font-weight:400;opacity:1.0"><i style="color:#d4d4d4">project</i> <i style="color:#dcdcaa">session(</i> <i style="color:#9cdcfe">ra</i></span>
<span class="fm" style="left:215.25px;top:251.90px;font-size:2.1px;line-height:2.2px;font-weight:400;opacity:1.0"><i style="color:#b5cea8">862</i> <i style="color:#569cd6">let</i> <i style="color:#d4d4d4">.</i> <i style="color:#9cdcfe">path_date</i> <i style="color:#d4d4d4">+</i> <i style="color:#ce9178">&quot;</i></span>
<span class="fm" style="left:215.25px;top:254.10px;font-size:2.1px;line-height:2.2px;font-weight:400;opacity:1.0"><i style="color:#d4d4d4">{</i> <i style="color:#ce9178">&quot;volunteer_items&quot;</i> <i style="color:#9cdcfe">host_url</i> <i style="color:#9cdcfe">path_vo</i></span>
<span class="fm" style="left:215.25px;top:256.30px;font-size:2.1px;line-height:2.2px;font-weight:400;opacity:1.0"><i style="color:#4ec9b0">IdResponse</i> <i style="color:#9cdcfe">router_error</i> <i style="color:#dcdcaa">message(</i> <i style="color:#ce9178">&quot;params_pa</i></span>
<span class="fm" style="left:215.25px;top:260.70px;font-size:2.1px;line-height:2.2px;font-weight:400;opacity:1.0"><i style="color:#d4d4d4">==</i> <i style="color:#b5cea8">321</i> <i style="color:#569cd6">exce</i></span>
<span class="fm" style="left:217.75px;top:262.90px;font-size:2.1px;line-height:2.2px;font-weight:400;opacity:1.0"><i style="color:#c586c0">except</i> <i style="color:#d4d4d4">=&gt;</i></span>
<span class="fm" style="left:217.75px;top:265.10px;font-size:2.1px;line-height:2.2px;font-weight:400;opacity:1.0"><i style="color:#569cd6">return</i> <i style="color:#9cdcfe">host_late</i></span>
<span class="fm" style="left:215.25px;top:267.30px;font-size:2.1px;line-height:2.2px;font-weight:400;opacity:1.0"><i style="color:#d4d4d4">issue</i></span>
<span class="fm" style="left:217.75px;top:269.50px;font-size:2.1px;line-height:2.2px;font-weight:400;opacity:1.0"><i style="color:#ce9178">&quot;total index app village project cursor tool path status village secret end peri&quot;</i></span>
<span class="fm" style="left:215.25px;top:271.70px;font-size:2.1px;line-height:2.2px;font-weight:400;opacity:1.0"><i style="color:#d4d4d4">:</i> <i style="color:#dcdcaa">quer</i></span>
<span class="fm" style="left:217.75px;top:273.90px;font-size:2.1px;line-height:2.2px;font-weight:400;opacity:1.0"><i style="color:#569cd6">de</i></span>
<span class="fm" style="left:217.75px;top:276.10px;font-size:2.1px;line-height:2.2px;font-weight:400;opacity:1.0"><i style="color:#d4d4d4">+</i> <i style="color:#d4d4d4">),</i> <i style="color:#9cdcfe">period_client</i> <i style="color:#569cd6">let</i> <i style="color:#d4d4d4">.</i> <i style="color:#d4d4d4">logg</i></span>
<span class="fm" style="left:217.75px;top:278.30px;font-size:2.1px;line-height:2.2px;font-weight:400;opacity:1.0"><i style="color:#ce9178">&quot;response_village&quot;</i> <i style="color:#d4d4d4">type</i> <i style="color:#569cd6">async</i></span>
<span class="fm" style="left:215.25px;top:287.10px;font-size:2.1px;line-height:2.2px;font-weight:400;opacity:1.0"><i style="color:#569cd6">async</i> <i style="color:#dcdcaa">props(</i></span>
<span class="fm" style="left:217.75px;top:289.30px;font-size:2.1px;line-height:2.2px;font-weight:400;opacity:1.0"><i style="color:#ce9178">&quot;message la&quot;</i></span>
<span class="fm" style="left:217.75px;top:291.50px;font-size:2.1px;line-height:2.2px;font-weight:400;opacity:1.0"><i style="color:#ce9178">&quot;volunteer config &quot;</i></span>
<span class="fm" style="left:217.75px;top:293.70px;font-size:2.1px;line-height:2.2px;font-weight:400;opacity:1.0"><i style="color:#ce9178">&quot;percent village dat&quot;</i></span>
<span class="fm" style="left:217.75px;top:295.90px;font-size:2.1px;line-height:2.2px;font-weight:400;opacity:1.0"><i style="color:#ce9178">&quot;rows data q&quot;</i></span>
<span class="fm" style="left:217.75px;top:298.10px;font-size:2.1px;line-height:2.2px;font-weight:400;opacity:1.0"><i style="color:#ce9178">&quot;total record pe&quot;</i></span>
<span class="fm" style="left:217.75px;top:300.30px;font-size:2.1px;line-height:2.2px;font-weight:400;opacity:1.0"><i style="color:#ce9178">&quot;error list model conf&quot;</i></span>
<span class="fm" style="left:217.75px;top:302.50px;font-size:2.1px;line-height:2.2px;font-weight:400;opacity:1.0"><i style="color:#ce9178">&quot;token host label param&quot;</i></span>
<div style="left:204.30px;top:306.50px;width:121.70px;height:28.50px;background:#1f1f1f;"></div>
<div style="left:204.30px;top:306.50px;width:121.70px;height:0.30px;background:#2b2b2b;"></div>
<span class="fs" style="left:207.00px;top:308.00px;font-size:2.0px;line-height:2.40px;color:#8d8d8d;font-weight:400;">PROBLEMS    OUTPUT    DEBUG CONSOLE    TERMINAL    PORTS</span>
<div style="left:241.00px;top:310.40px;width:7.00px;height:0.30px;background:#ccc;"></div>
<span class="fs" style="left:208.00px;top:310.90px;font-size:2.0px;line-height:2.40px;color:#2f78c4;font-weight:400;">System check: 0 issues</span>
<span class="fs" style="left:208.00px;top:313.80px;font-size:2.0px;line-height:2.40px;color:#c8c8c8;font-weight:400;">Django version 4.2.7, using settings config.settings</span>
<span class="fs" style="left:209.00px;top:318.60px;font-size:2.1px;line-height:2.52px;color:#eee;font-weight:700;">INFO</span>
<span class="fs" style="left:215.50px;top:318.60px;font-size:2.0px;line-height:2.40px;color:#aaa;font-weight:400;">Watching</span>
<div style="left:225.50px;top:319.00px;width:15.00px;height:2.30px;background:#d8d8d8;"></div>
<span class="fs" style="left:225.80px;top:318.70px;font-size:2.0px;line-height:2.40px;color:#222;font-weight:700;">StatReloader</span>
<span class="fs" style="left:209.00px;top:320.60px;font-size:2.0px;line-height:2.40px;color:#999;font-weight:400;">INFO  GET /api/ 200</span>
<span class="fs" style="left:206.50px;top:323.70px;font-size:2.0px;line-height:2.40px;color:#bdbdbd;font-weight:400;">Starting development server at 127.0.0.1:8000/</span>
<span class="fs" style="left:206.50px;top:325.60px;font-size:2.0px;line-height:2.40px;color:#8a8a8a;font-weight:400;">Quit the server with CTRL-BREAK.  &quot;GET /api/listings&quot; 200</span>
<span class="fs" style="left:207.50px;top:330.00px;font-size:2.0px;line-height:2.40px;color:#bbb;font-weight:400;">▯</span>
<div style="left:265.90px;top:310.50px;width:0.30px;height:22.50px;background:#2b2b2b;"></div>
<span class="fs" style="left:267.30px;top:311.20px;font-size:2.0px;line-height:2.40px;color:#ddd;font-weight:700;">VITE v5.0.8  ready in</span>
<span class="fs" style="left:286.30px;top:311.20px;font-size:2.0px;line-height:2.40px;color:#29b8db;font-weight:400;">412 ms  localhost:5173/</span>
<span class="fs" style="left:267.30px;top:313.10px;font-size:2.0px;line-height:2.40px;color:#ddd;font-weight:700;">➜ Local:  localhost</span>
<span class="fs" style="left:287.30px;top:313.10px;font-size:2.0px;line-height:2.40px;color:#29b8db;font-weight:400;">:5173/  press h to show help</span>
<span class="fs" style="left:267.30px;top:315.00px;font-size:2.0px;line-height:2.40px;color:#bbb;font-weight:400;">➜ Network: use --host to</span>
<span class="fs" style="left:287.30px;top:315.00px;font-size:2.0px;line-height:2.40px;color:#2aa0c0;font-weight:400;">expose  hmr update</span>
<span class="fs" style="left:267.30px;top:318.70px;font-size:2.0px;line-height:2.40px;color:#bbb;font-weight:400;">10:15:02 [vite] hmr update</span>
<span class="fs" style="left:267.30px;top:321.40px;font-size:2.0px;line-height:2.40px;color:#d0d0d0;font-weight:400;">10:15:40 [vite] hmr update /src/components/Chart.jsx  (x2)</span>
<span class="fs" style="left:267.30px;top:323.30px;font-size:2.0px;line-height:2.40px;color:#aaa;font-weight:400;">10:16:11 [vite] page reload src/main.jsx</span>
<span class="fs" style="left:267.30px;top:325.60px;font-size:2.0px;line-height:2.40px;color:#c4c4c4;font-weight:400;">10:16:12 [vite] hmr update /src/index.css, /src/App.jsx</span>
<span class="fs" style="left:267.30px;top:328.20px;font-size:2.0px;line-height:2.40px;color:#ddd;font-weight:700;">10:16:40 [vite] hmr</span>
<div style="left:320.00px;top:311.00px;width:5.00px;height:20.00px;background:#202020;"></div>
<div style="left:167.00px;top:333.00px;width:159.00px;height:2.00px;background:#181818;"></div>
<span class="fs" style="left:168.00px;top:332.70px;font-size:2px;line-height:2.40px;color:#ccc;font-weight:400;">⎇ main*  ⟳  ⊗ 0 ⚠ 0</span>
<span class="fs" style="left:243.00px;top:332.80px;font-size:1.95px;line-height:2.34px;color:#b0b0b0;font-weight:400;">Live Share    Ln 58, Col 14   Spaces: 4   UTF-8   CRLF   { } Python   3.11.4 64-bit   ⦿ Go Live   ✓ Prettier</span>
<div style="left:493.00px;top:227.00px;width:159.00px;height:108.00px;background:#1f1f1f;"></div>
<div style="left:493.00px;top:227.00px;width:37.00px;height:108.00px;background:#181818;"></div>
<div style="left:530.00px;top:227.00px;width:0.30px;height:108.00px;background:#2b2b2b;"></div>
<div style="left:530.30px;top:227.00px;width:121.70px;height:2.60px;background:#181818;"></div>
<span class="fs" style="left:532.00px;top:226.90px;font-size:2.1px;line-height:2.52px;color:#999;font-weight:400;">models.py      serializers.py      views.py  ×     urls.py     tests.py     admin.py      settings.py     README.md</span>
<span class="fs" style="left:534.00px;top:229.70px;font-size:2.1px;line-height:2.52px;color:#8a8a8a;font-weight:400;">backend &gt; api &gt; views.py &gt; ListingViewSet &gt; get_queryset</span>
<div style="left:493.00px;top:275.00px;width:37.00px;height:2.80px;background:#2c3950;"></div>
<span class="fs" style="left:494.00px;top:228.60px;font-size:2.5px;line-height:2.7px;color:#ddd;font-weight:400;width:35.5px;clip-path:inset(-1px 0 -1px 0)">    .env urls.py</span>
<span class="fs" style="left:494.00px;top:231.30px;font-size:2.5px;line-height:2.7px;color:#ddd;font-weight:400;width:35.5px;clip-path:inset(-1px 0 -1px 0)">  › Dashboard.jsx</span>
<span class="fs" style="left:494.00px;top:234.00px;font-size:2.5px;line-height:2.7px;color:#ccc;font-weight:400;width:35.5px;clip-path:inset(-1px 0 -1px 0)">   Table.jsx</span>
<span class="fs" style="left:494.00px;top:236.70px;font-size:2.5px;line-height:2.7px;color:#ccc;font-weight:400;width:35.5px;clip-path:inset(-1px 0 -1px 0)"> › serializers.py apps.py</span>
<span class="fs" style="left:494.00px;top:239.40px;font-size:2.5px;line-height:2.7px;color:#e2c08d;font-weight:400;width:35.5px;clip-path:inset(-1px 0 -1px 0)">› Table.jsx</span>
<span class="fs" style="left:494.00px;top:242.10px;font-size:2.5px;line-height:2.7px;color:#ccc;font-weight:400;width:35.5px;clip-path:inset(-1px 0 -1px 0)">  README.md</span>
<span class="fs" style="left:494.00px;top:244.80px;font-size:2.5px;line-height:2.7px;color:#ddd;font-weight:400;width:35.5px;clip-path:inset(-1px 0 -1px 0)">  › styles</span>
<span class="fs" style="left:494.00px;top:247.50px;font-size:2.5px;line-height:2.7px;color:#bbb;font-weight:400;width:35.5px;clip-path:inset(-1px 0 -1px 0)">  README.md</span>
<span class="fs" style="left:494.00px;top:250.20px;font-size:2.5px;line-height:2.7px;color:#ccc;font-weight:400;width:35.5px;clip-path:inset(-1px 0 -1px 0)">   migrations</span>
<span class="fs" style="left:494.00px;top:252.90px;font-size:2.5px;line-height:2.7px;color:#e2c08d;font-weight:400;width:35.5px;clip-path:inset(-1px 0 -1px 0)">› src public</span>
<span class="fs" style="left:494.00px;top:255.60px;font-size:2.5px;line-height:2.7px;color:#ddd;font-weight:400;width:35.5px;clip-path:inset(-1px 0 -1px 0)">› Dashboard.jsx</span>
<span class="fs" style="left:494.00px;top:258.30px;font-size:2.5px;line-height:2.7px;color:#e2c08d;font-weight:400;width:35.5px;clip-path:inset(-1px 0 -1px 0)">  Dockerfile</span>
<span class="fs" style="left:494.00px;top:261.00px;font-size:2.5px;line-height:2.7px;color:#ccc;font-weight:400;width:35.5px;clip-path:inset(-1px 0 -1px 0)">  README.md</span>
<span class="fs" style="left:494.00px;top:263.70px;font-size:2.5px;line-height:2.7px;color:#ddd;font-weight:400;width:35.5px;clip-path:inset(-1px 0 -1px 0)">   public src</span>
<span class="fs" style="left:494.00px;top:266.40px;font-size:2.5px;line-height:2.7px;color:#bbb;font-weight:400;width:35.5px;clip-path:inset(-1px 0 -1px 0)">    templates</span>
<span class="fs" style="left:494.00px;top:269.10px;font-size:2.5px;line-height:2.7px;color:#e2c08d;font-weight:400;width:35.5px;clip-path:inset(-1px 0 -1px 0)">  styles package.json</span>
<span class="fs" style="left:494.00px;top:271.80px;font-size:2.5px;line-height:2.7px;color:#ccc;font-weight:400;width:35.5px;clip-path:inset(-1px 0 -1px 0)">  serializers.py</span>
<span class="fs" style="left:494.00px;top:274.50px;font-size:2.5px;line-height:2.7px;color:#c4c4c4;font-weight:400;width:35.5px;clip-path:inset(-1px 0 -1px 0)">  Chart.jsx</span>
<span class="fs" style="left:494.00px;top:277.20px;font-size:2.5px;line-height:2.7px;color:#ccc;font-weight:400;width:35.5px;clip-path:inset(-1px 0 -1px 0)">    components node_modules</span>
<span class="fs" style="left:494.00px;top:279.90px;font-size:2.5px;line-height:2.7px;color:#c4c4c4;font-weight:400;width:35.5px;clip-path:inset(-1px 0 -1px 0)">  › src apps.py</span>
<span class="fs" style="left:494.00px;top:282.60px;font-size:2.5px;line-height:2.7px;color:#ccc;font-weight:400;width:35.5px;clip-path:inset(-1px 0 -1px 0)">  › styles</span>
<span class="fs" style="left:494.00px;top:285.30px;font-size:2.5px;line-height:2.7px;color:#c4c4c4;font-weight:400;width:35.5px;clip-path:inset(-1px 0 -1px 0)">  admin.py asgi.py</span>
<span class="fs" style="left:494.00px;top:288.00px;font-size:2.5px;line-height:2.7px;color:#e2c08d;font-weight:400;width:35.5px;clip-path:inset(-1px 0 -1px 0)"> › Chart.jsx</span>
<span class="fs" style="left:494.00px;top:290.70px;font-size:2.5px;line-height:2.7px;color:#eee;font-weight:400;width:35.5px;clip-path:inset(-1px 0 -1px 0)">    admin.py</span>
<span class="fs" style="left:494.00px;top:293.40px;font-size:2.5px;line-height:2.7px;color:#bbb;font-weight:400;width:35.5px;clip-path:inset(-1px 0 -1px 0)">  › forms.py services</span>
<span class="fs" style="left:494.00px;top:296.10px;font-size:2.5px;line-height:2.7px;color:#ddd;font-weight:400;width:35.5px;clip-path:inset(-1px 0 -1px 0)">   services</span>
<span class="fs" style="left:494.00px;top:298.80px;font-size:2.5px;line-height:2.7px;color:#ccc;font-weight:400;width:35.5px;clip-path:inset(-1px 0 -1px 0)">  templates</span>
<span class="fs" style="left:494.00px;top:301.50px;font-size:2.5px;line-height:2.7px;color:#bbb;font-weight:400;width:35.5px;clip-path:inset(-1px 0 -1px 0)">  vite.config.js</span>
<span class="fs" style="left:494.00px;top:304.20px;font-size:2.5px;line-height:2.7px;color:#ccc;font-weight:400;width:35.5px;clip-path:inset(-1px 0 -1px 0)">    .gitignore utils</span>
<span class="fs" style="left:494.00px;top:306.90px;font-size:2.5px;line-height:2.7px;color:#ccc;font-weight:400;width:35.5px;clip-path:inset(-1px 0 -1px 0)">› apps.py</span>
<span class="fs" style="left:494.00px;top:309.60px;font-size:2.5px;line-height:2.7px;color:#c4c4c4;font-weight:400;width:35.5px;clip-path:inset(-1px 0 -1px 0)"> › public</span>
<span class="fs" style="left:494.00px;top:312.30px;font-size:2.5px;line-height:2.7px;color:#bbb;font-weight:400;width:35.5px;clip-path:inset(-1px 0 -1px 0)">› Chart.jsx</span>
<span class="fs" style="left:494.00px;top:315.00px;font-size:2.5px;line-height:2.7px;color:#e2c08d;font-weight:400;width:35.5px;clip-path:inset(-1px 0 -1px 0)">  urls.py hooks</span>
<span class="fs" style="left:494.00px;top:317.70px;font-size:2.5px;line-height:2.7px;color:#ccc;font-weight:400;width:35.5px;clip-path:inset(-1px 0 -1px 0)">    urls.py</span>
<span class="fs" style="left:494.00px;top:320.40px;font-size:2.5px;line-height:2.7px;color:#ccc;font-weight:400;width:35.5px;clip-path:inset(-1px 0 -1px 0)">   utils</span>
<span class="fs" style="left:494.00px;top:323.10px;font-size:2.5px;line-height:2.7px;color:#ccc;font-weight:400;width:35.5px;clip-path:inset(-1px 0 -1px 0)">› wsgi.py</span>
<span class="fs" style="left:494.00px;top:325.80px;font-size:2.5px;line-height:2.7px;color:#ccc;font-weight:400;width:35.5px;clip-path:inset(-1px 0 -1px 0)">    wsgi.py</span>
<span class="fs" style="left:494.00px;top:328.50px;font-size:2.5px;line-height:2.7px;color:#ccc;font-weight:400;width:35.5px;clip-path:inset(-1px 0 -1px 0)">    node_modules hooks</span>
<span class="fs" style="left:494.00px;top:331.20px;font-size:2.5px;line-height:2.7px;color:#ddd;font-weight:400;width:35.5px;clip-path:inset(-1px 0 -1px 0)">    admin.py</span>
<span class="fm" style="left:531.00px;top:231.90px;font-size:1.9px;line-height:2.2px;color:#6e7681;width:5px;text-align:right">40</span>
<span class="fm" style="left:531.00px;top:234.10px;font-size:1.9px;line-height:2.2px;color:#6e7681;width:5px;text-align:right">41</span>
<span class="fm" style="left:531.00px;top:236.30px;font-size:1.9px;line-height:2.2px;color:#6e7681;width:5px;text-align:right">42</span>
<span class="fm" style="left:531.00px;top:238.50px;font-size:1.9px;line-height:2.2px;color:#6e7681;width:5px;text-align:right">43</span>
<span class="fm" style="left:531.00px;top:240.70px;font-size:1.9px;line-height:2.2px;color:#6e7681;width:5px;text-align:right">44</span>
<span class="fm" style="left:531.00px;top:242.90px;font-size:1.9px;line-height:2.2px;color:#6e7681;width:5px;text-align:right">45</span>
<span class="fm" style="left:531.00px;top:245.10px;font-size:1.9px;line-height:2.2px;color:#6e7681;width:5px;text-align:right">46</span>
<span class="fm" style="left:531.00px;top:247.30px;font-size:1.9px;line-height:2.2px;color:#6e7681;width:5px;text-align:right">47</span>
<span class="fm" style="left:531.00px;top:249.50px;font-size:1.9px;line-height:2.2px;color:#6e7681;width:5px;text-align:right">48</span>
<span class="fm" style="left:531.00px;top:251.70px;font-size:1.9px;line-height:2.2px;color:#6e7681;width:5px;text-align:right">49</span>
<span class="fm" style="left:531.00px;top:253.90px;font-size:1.9px;line-height:2.2px;color:#6e7681;width:5px;text-align:right">50</span>
<span class="fm" style="left:531.00px;top:256.10px;font-size:1.9px;line-height:2.2px;color:#6e7681;width:5px;text-align:right">51</span>
<span class="fm" style="left:531.00px;top:258.30px;font-size:1.9px;line-height:2.2px;color:#6e7681;width:5px;text-align:right">52</span>
<span class="fm" style="left:531.00px;top:260.50px;font-size:1.9px;line-height:2.2px;color:#6e7681;width:5px;text-align:right">53</span>
<span class="fm" style="left:531.00px;top:262.70px;font-size:1.9px;line-height:2.2px;color:#6e7681;width:5px;text-align:right">54</span>
<span class="fm" style="left:531.00px;top:264.90px;font-size:1.9px;line-height:2.2px;color:#6e7681;width:5px;text-align:right">55</span>
<span class="fm" style="left:531.00px;top:267.10px;font-size:1.9px;line-height:2.2px;color:#6e7681;width:5px;text-align:right">56</span>
<span class="fm" style="left:531.00px;top:269.30px;font-size:1.9px;line-height:2.2px;color:#6e7681;width:5px;text-align:right">57</span>
<span class="fm" style="left:531.00px;top:271.50px;font-size:1.9px;line-height:2.2px;color:#6e7681;width:5px;text-align:right">58</span>
<span class="fm" style="left:531.00px;top:273.70px;font-size:1.9px;line-height:2.2px;color:#6e7681;width:5px;text-align:right">59</span>
<span class="fm" style="left:531.00px;top:275.90px;font-size:1.9px;line-height:2.2px;color:#6e7681;width:5px;text-align:right">60</span>
<span class="fm" style="left:531.00px;top:278.10px;font-size:1.9px;line-height:2.2px;color:#6e7681;width:5px;text-align:right">61</span>
<span class="fm" style="left:531.00px;top:280.30px;font-size:1.9px;line-height:2.2px;color:#6e7681;width:5px;text-align:right">62</span>
<span class="fm" style="left:531.00px;top:282.50px;font-size:1.9px;line-height:2.2px;color:#6e7681;width:5px;text-align:right">63</span>
<span class="fm" style="left:531.00px;top:284.70px;font-size:1.9px;line-height:2.2px;color:#6e7681;width:5px;text-align:right">64</span>
<span class="fm" style="left:531.00px;top:286.90px;font-size:1.9px;line-height:2.2px;color:#6e7681;width:5px;text-align:right">65</span>
<span class="fm" style="left:531.00px;top:289.10px;font-size:1.9px;line-height:2.2px;color:#6e7681;width:5px;text-align:right">66</span>
<span class="fm" style="left:531.00px;top:291.30px;font-size:1.9px;line-height:2.2px;color:#6e7681;width:5px;text-align:right">67</span>
<span class="fm" style="left:531.00px;top:293.50px;font-size:1.9px;line-height:2.2px;color:#6e7681;width:5px;text-align:right">68</span>
<span class="fm" style="left:531.00px;top:295.70px;font-size:1.9px;line-height:2.2px;color:#6e7681;width:5px;text-align:right">69</span>
<span class="fm" style="left:531.00px;top:297.90px;font-size:1.9px;line-height:2.2px;color:#6e7681;width:5px;text-align:right">70</span>
<span class="fm" style="left:531.00px;top:300.10px;font-size:1.9px;line-height:2.2px;color:#6e7681;width:5px;text-align:right">71</span>
<span class="fm" style="left:531.00px;top:302.30px;font-size:1.9px;line-height:2.2px;color:#6e7681;width:5px;text-align:right">72</span>
<span class="fm" style="left:531.00px;top:304.50px;font-size:1.9px;line-height:2.2px;color:#6e7681;width:5px;text-align:right">73</span>
<span class="fm" style="left:539.50px;top:231.60px;font-size:2.1px;line-height:2.2px;font-weight:400;opacity:1.0"><i style="color:#c586c0">const</i></span>
<span class="fm" style="left:539.50px;top:233.80px;font-size:2.1px;line-height:2.2px;font-weight:400;opacity:1.0"><i style="color:#c586c0">excep</i></span>
<span class="fm" style="left:539.50px;top:236.00px;font-size:2.1px;line-height:2.2px;font-weight:400;opacity:1.0"><i style="color:#ce9178">&quot;key_</i></span>
<span class="fm" style="left:539.50px;top:238.20px;font-size:2.1px;line-height:2.2px;font-weight:400;opacity:1.0"><i style="color:#ce9178">&quot;end_model&quot;</i> <i style="color:#d4d4d4">{</i> <i style="color:#9cdcfe">re</i></span>
<span class="fm" style="left:537.00px;top:244.80px;font-size:2.1px;line-height:2.2px;font-weight:400;opacity:1.0"><i style="color:#6a9955"># record logger reques</i></span>
<span class="fm" style="left:539.50px;top:247.00px;font-size:2.1px;line-height:2.2px;font-weight:400;opacity:1.0"><i style="color:#c586c0">from</i> <i style="color:#dcdcaa">per</i></span>
<span class="fm" style="left:539.50px;top:249.20px;font-size:2.1px;line-height:2.2px;font-weight:400;opacity:1.0"><i style="color:#d4d4d4">value</i> <i style="color:#d4d4d4">}</i> <i style="color:#b5cea8">608</i> <i style="color:#d4d4d4">{</i> <i style="color:#d4d4d4">}</i> <i style="color:#569cd6">if</i> <i style="color:#9cdcfe">dat</i></span>
<span class="fm" style="left:539.50px;top:251.40px;font-size:2.1px;line-height:2.2px;font-weight:400;opacity:1.0"><i style="color:#c586c0">const</i> <i style="color:#9cdcfe">projec</i></span>
<span class="fm" style="left:539.50px;top:253.60px;font-size:2.1px;line-height:2.2px;font-weight:400;opacity:1.0"><i style="color:#b5cea8">107</i> <i style="color:#9cdcfe">st</i></span>
<span class="fm" style="left:539.50px;top:255.80px;font-size:2.1px;line-height:2.2px;font-weight:400;opacity:1.0"><i style="color:#c586c0">except</i> <i style="color:#4ec9b0">VolunteerD</i></span>
<span class="fm" style="left:539.50px;top:258.00px;font-size:2.1px;line-height:2.2px;font-weight:400;opacity:1.0"><i style="color:#569cd6">not</i> <i style="color:#d4d4d4">secret</i> <i style="color:#569cd6">const</i> <i style="color:#dcdcaa">err</i></span>
<span class="fm" style="left:537.00px;top:264.60px;font-size:2.1px;line-height:2.2px;font-weight:400;opacity:1.0"><i style="color:#6a9955"># url prop</i></span>
<span class="fm" style="left:539.50px;top:266.80px;font-size:2.1px;line-height:2.2px;font-weight:400;opacity:1.0"><i style="color:#569cd6">self</i> <i style="color:#9cdcfe">respons</i></span>
<span class="fm" style="left:539.50px;top:269.00px;font-size:2.1px;line-height:2.2px;font-weight:400;opacity:1.0"><i style="color:#569cd6">let</i> <i style="color:#dcdcaa">period(</i> <i style="color:#569cd6">else</i> <i style="color:#d4d4d4">[</i> <i style="color:#dcdcaa">p</i></span>
<span class="fm" style="left:539.50px;top:271.20px;font-size:2.1px;line-height:2.2px;font-weight:400;opacity:1.0"><i style="color:#569cd6">function</i> <i style="color:#b5cea8">15</i> <i style="color:#9cdcfe">c</i></span>
<span class="fm" style="left:539.50px;top:273.40px;font-size:2.1px;line-height:2.2px;font-weight:400;opacity:1.0"><i style="color:#d4d4d4">cursor</i> <i style="color:#9cdcfe">name_con</i></span>
<span class="fm" style="left:537.00px;top:280.00px;font-size:2.1px;line-height:2.2px;font-weight:400;opacity:1.0"><i style="color:#6a9955"># chart field </i></span>
<span class="fm" style="left:539.50px;top:282.20px;font-size:2.1px;line-height:2.2px;font-weight:400;opacity:1.0"><i style="color:#b5cea8">645</i> <i style="color:#b5cea8">681</i> <i style="color:#4ec9b0">En</i></span>
<span class="fm" style="left:539.50px;top:284.40px;font-size:2.1px;line-height:2.2px;font-weight:400;opacity:1.0"><i style="color:#4ec9b0">DataUser</i></span>
<span class="fm" style="left:539.50px;top:286.60px;font-size:2.1px;line-height:2.2px;font-weight:400;opacity:1.0"><i style="color:#c586c0">if</i> <i style="color:#569cd6">def</i> <i style="color:#d4d4d4">==</i> <i style="color:#ce9178">&quot;issue</i></span>
<span class="fm" style="left:539.50px;top:288.80px;font-size:2.1px;line-height:2.2px;font-weight:400;opacity:1.0"><i style="color:#569cd6">import</i> <i style="color:#d4d4d4">=&gt;</i> <i style="color:#dcdcaa">stat</i></span>
<span class="fm" style="left:539.50px;top:291.00px;font-size:2.1px;line-height:2.2px;font-weight:400;opacity:1.0"><i style="color:#569cd6">const</i> <i style="color:#9cdcfe">params_index</i></span>
<span class="fm" style="left:537.00px;top:299.80px;font-size:2.1px;line-height:2.2px;font-weight:400;opacity:1.0"><i style="color:#6a9955"># param</i></span>
<span class="fm" style="left:539.50px;top:302.00px;font-size:2.1px;line-height:2.2px;font-weight:400;opacity:1.0"><i style="color:#c586c0">as</i> <i style="color:#9cdcfe">index_</i></span>
<span class="fm" style="left:539.50px;top:304.20px;font-size:2.1px;line-height:2.2px;font-weight:400;opacity:1.0"><i style="color:#569cd6">function</i> <i style="color:#9cdcfe">query_h</i></span>
<div style="left:530.30px;top:306.50px;width:121.70px;height:28.50px;background:#1f1f1f;"></div>
<div style="left:530.30px;top:306.50px;width:121.70px;height:0.30px;background:#2b2b2b;"></div>
<span class="fs" style="left:533.00px;top:308.00px;font-size:2.0px;line-height:2.40px;color:#8d8d8d;font-weight:400;">PROBLEMS    OUTPUT    DEBUG CONSOLE    TERMINAL    PORTS</span>
<div style="left:567.00px;top:310.40px;width:7.00px;height:0.30px;background:#ccc;"></div>
<span class="fs" style="left:534.00px;top:310.90px;font-size:2.0px;line-height:2.40px;color:#2f78c4;font-weight:400;">System check: 0 issues</span>
<span class="fs" style="left:534.00px;top:313.80px;font-size:2.0px;line-height:2.40px;color:#c8c8c8;font-weight:400;">Django version 4.2.7, using settings config.settings</span>
<span class="fs" style="left:535.00px;top:318.60px;font-size:2.1px;line-height:2.52px;color:#eee;font-weight:700;">INFO</span>
<span class="fs" style="left:541.50px;top:318.60px;font-size:2.0px;line-height:2.40px;color:#aaa;font-weight:400;">Watching</span>
<div style="left:551.50px;top:319.00px;width:15.00px;height:2.30px;background:#d8d8d8;"></div>
<span class="fs" style="left:551.80px;top:318.70px;font-size:2.0px;line-height:2.40px;color:#222;font-weight:700;">StatReloader</span>
<span class="fs" style="left:535.00px;top:320.60px;font-size:2.0px;line-height:2.40px;color:#999;font-weight:400;">INFO  GET /api/ 200</span>
<span class="fs" style="left:532.50px;top:323.70px;font-size:2.0px;line-height:2.40px;color:#bdbdbd;font-weight:400;">Starting development server at 127.0.0.1:8000/</span>
<span class="fs" style="left:532.50px;top:325.60px;font-size:2.0px;line-height:2.40px;color:#8a8a8a;font-weight:400;">Quit the server with CTRL-BREAK.  &quot;GET /api/listings&quot; 200</span>
<span class="fs" style="left:533.50px;top:330.00px;font-size:2.0px;line-height:2.40px;color:#bbb;font-weight:400;">▯</span>
<div style="left:591.90px;top:310.50px;width:0.30px;height:22.50px;background:#2b2b2b;"></div>
<span class="fs" style="left:593.30px;top:311.20px;font-size:2.0px;line-height:2.40px;color:#ddd;font-weight:700;">VITE v5.0.8  ready in</span>
<span class="fs" style="left:612.30px;top:311.20px;font-size:2.0px;line-height:2.40px;color:#29b8db;font-weight:400;">412 ms  localhost:5173/</span>
<span class="fs" style="left:593.30px;top:313.10px;font-size:2.0px;line-height:2.40px;color:#ddd;font-weight:700;">➜ Local:  localhost</span>
<span class="fs" style="left:613.30px;top:313.10px;font-size:2.0px;line-height:2.40px;color:#29b8db;font-weight:400;">:5173/  press h to show help</span>
<span class="fs" style="left:593.30px;top:315.00px;font-size:2.0px;line-height:2.40px;color:#bbb;font-weight:400;">➜ Network: use --host to</span>
<span class="fs" style="left:613.30px;top:315.00px;font-size:2.0px;line-height:2.40px;color:#2aa0c0;font-weight:400;">expose  hmr update</span>
<span class="fs" style="left:593.30px;top:318.70px;font-size:2.0px;line-height:2.40px;color:#bbb;font-weight:400;">10:15:02 [vite] hmr update</span>
<span class="fs" style="left:593.30px;top:321.40px;font-size:2.0px;line-height:2.40px;color:#d0d0d0;font-weight:400;">10:15:40 [vite] hmr update /src/components/Chart.jsx  (x2)</span>
<span class="fs" style="left:593.30px;top:323.30px;font-size:2.0px;line-height:2.40px;color:#aaa;font-weight:400;">10:16:11 [vite] page reload src/main.jsx</span>
<span class="fs" style="left:593.30px;top:325.60px;font-size:2.0px;line-height:2.40px;color:#c4c4c4;font-weight:400;">10:16:12 [vite] hmr update /src/index.css, /src/App.jsx</span>
<span class="fs" style="left:593.30px;top:328.20px;font-size:2.0px;line-height:2.40px;color:#ddd;font-weight:700;">10:16:40 [vite] hmr</span>
<div style="left:646.00px;top:311.00px;width:5.00px;height:20.00px;background:#202020;"></div>
<div style="left:493.00px;top:333.00px;width:159.00px;height:2.00px;background:#181818;"></div>
<span class="fs" style="left:494.00px;top:332.70px;font-size:2px;line-height:2.40px;color:#ccc;font-weight:400;">⎇ main*  ⟳  ⊗ 0 ⚠ 0</span>
<span class="fs" style="left:569.00px;top:332.80px;font-size:1.95px;line-height:2.34px;color:#b0b0b0;font-weight:400;">Live Share    Ln 58, Col 14   Spaces: 4   UTF-8   CRLF   { } Python   3.11.4 64-bit   ⦿ Go Live   ✓ Prettier</span>
<div style="left:330.00px;top:227.00px;width:159.00px;height:108.00px;background:#1f1f1f;"></div>
<div style="left:330.00px;top:227.00px;width:40.50px;height:108.00px;background:#181818;"></div>
<div style="left:370.50px;top:227.00px;width:0.30px;height:108.00px;background:#2b2b2b;"></div>
<div style="left:370.80px;top:227.00px;width:118.20px;height:5.00px;background:#181818;"></div>
<div style="left:371.00px;top:227.00px;width:24.00px;height:5.00px;background:#1f1f1f;"></div>
<span class="fs" style="left:373.50px;top:228.60px;font-size:2.5px;line-height:3.00px;color:#e6e6e6;font-weight:400;">▣ routes.js  ×</span>
<span class="fs" style="left:397.00px;top:228.60px;font-size:2.4px;line-height:2.88px;color:#8a8a8a;font-weight:400;">controller.js      models/index.js      app.js</span>
<span class="fs" style="left:373.50px;top:232.90px;font-size:2.3px;line-height:2.76px;color:#999;font-weight:400;">server &gt; routes &gt; JS tools.js &gt; router.get() callback</span>
<span class="fs" style="left:332.00px;top:228.00px;font-size:2.4px;line-height:2.88px;color:#bbb;font-weight:400;">EXPLORER</span>
<span class="fs" style="left:332.00px;top:232.20px;font-size:2.5px;line-height:3.00px;color:#e6e6e6;font-weight:700;">TOOL-RENTAL-DASHBOARD</span>
<span class="fs" style="left:334.00px;top:235.60px;font-size:2.6px;line-height:2.99px;color:#ccc;font-weight:400;width:36px;clip-path:inset(-1px 0 -1px 0)">› api.js</span>
<span class="fs" style="left:334.00px;top:238.59px;font-size:2.6px;line-height:2.99px;color:#ccc;font-weight:400;width:36px;clip-path:inset(-1px 0 -1px 0)">› pages</span>
<span class="fs" style="left:334.00px;top:241.58px;font-size:2.6px;line-height:2.99px;color:#ccc;font-weight:400;width:36px;clip-path:inset(-1px 0 -1px 0)">› apps.py</span>
<span class="fs" style="left:334.00px;top:244.57px;font-size:2.6px;line-height:2.99px;color:#ccc;font-weight:400;width:36px;clip-path:inset(-1px 0 -1px 0)">› .gitignore</span>
<span class="fs" style="left:334.00px;top:247.56px;font-size:2.6px;line-height:2.99px;color:#ccc;font-weight:400;width:36px;clip-path:inset(-1px 0 -1px 0)">  vite.config.js</span>
<span class="fs" style="left:334.00px;top:250.55px;font-size:2.6px;line-height:2.99px;color:#ccc;font-weight:400;width:36px;clip-path:inset(-1px 0 -1px 0)">› models.py</span>
<span class="fs" style="left:334.00px;top:253.54px;font-size:2.6px;line-height:2.99px;color:#ccc;font-weight:400;width:36px;clip-path:inset(-1px 0 -1px 0)">  Dockerfile</span>
<span class="fs" style="left:334.00px;top:256.53px;font-size:2.6px;line-height:2.99px;color:#ccc;font-weight:400;width:36px;clip-path:inset(-1px 0 -1px 0)">› styles</span>
<span class="fs" style="left:334.00px;top:259.52px;font-size:2.6px;line-height:2.99px;color:#ccc;font-weight:400;width:36px;clip-path:inset(-1px 0 -1px 0)">› docker-compose.yml</span>
<span class="fs" style="left:334.00px;top:262.51px;font-size:2.6px;line-height:2.99px;color:#ccc;font-weight:400;width:36px;clip-path:inset(-1px 0 -1px 0)">› views.py</span>
<span class="fs" style="left:334.00px;top:265.50px;font-size:2.6px;line-height:2.99px;color:#ccc;font-weight:400;width:36px;clip-path:inset(-1px 0 -1px 0)">  Table.jsx</span>
<span class="fs" style="left:334.00px;top:268.49px;font-size:2.6px;line-height:2.99px;color:#ccc;font-weight:400;width:36px;clip-path:inset(-1px 0 -1px 0)">› Dashboard.jsx</span>
<span class="fs" style="left:334.00px;top:271.48px;font-size:2.6px;line-height:2.99px;color:#ccc;font-weight:400;width:36px;clip-path:inset(-1px 0 -1px 0)">› apps.py</span>
<span class="fs" style="left:334.00px;top:274.47px;font-size:2.6px;line-height:2.99px;color:#ccc;font-weight:400;width:36px;clip-path:inset(-1px 0 -1px 0)">› asgi.py</span>
<span class="fs" style="left:334.00px;top:277.46px;font-size:2.6px;line-height:2.99px;color:#ccc;font-weight:400;width:36px;clip-path:inset(-1px 0 -1px 0)">› wsgi.py</span>
<span class="fs" style="left:334.00px;top:280.45px;font-size:2.6px;line-height:2.99px;color:#ccc;font-weight:400;width:36px;clip-path:inset(-1px 0 -1px 0)">› components</span>
<span class="fs" style="left:334.00px;top:283.44px;font-size:2.6px;line-height:2.99px;color:#ccc;font-weight:400;width:36px;clip-path:inset(-1px 0 -1px 0)">› views.py</span>
<span class="fs" style="left:334.00px;top:286.43px;font-size:2.6px;line-height:2.99px;color:#ccc;font-weight:400;width:36px;clip-path:inset(-1px 0 -1px 0)">› utils</span>
<span class="fs" style="left:334.00px;top:289.42px;font-size:2.6px;line-height:2.99px;color:#ccc;font-weight:400;width:36px;clip-path:inset(-1px 0 -1px 0)">› asgi.py</span>
<span class="fs" style="left:334.00px;top:292.41px;font-size:2.6px;line-height:2.99px;color:#ccc;font-weight:400;width:36px;clip-path:inset(-1px 0 -1px 0)">› src</span>
<span class="fs" style="left:334.00px;top:295.40px;font-size:2.6px;line-height:2.99px;color:#ccc;font-weight:400;width:36px;clip-path:inset(-1px 0 -1px 0)">  wsgi.py</span>
<span class="fs" style="left:334.00px;top:298.39px;font-size:2.6px;line-height:2.99px;color:#ccc;font-weight:400;width:36px;clip-path:inset(-1px 0 -1px 0)">› admin.py</span>
<span class="fs" style="left:334.00px;top:301.38px;font-size:2.6px;line-height:2.99px;color:#ccc;font-weight:400;width:36px;clip-path:inset(-1px 0 -1px 0)">  components</span>
<span class="fs" style="left:334.00px;top:304.37px;font-size:2.6px;line-height:2.99px;color:#ccc;font-weight:400;width:36px;clip-path:inset(-1px 0 -1px 0)">  Dashboard.jsx</span>
<span class="fs" style="left:334.00px;top:307.36px;font-size:2.6px;line-height:2.99px;color:#ccc;font-weight:400;width:36px;clip-path:inset(-1px 0 -1px 0)">› admin.py</span>
<span class="fs" style="left:334.00px;top:310.35px;font-size:2.6px;line-height:2.99px;color:#ccc;font-weight:400;width:36px;clip-path:inset(-1px 0 -1px 0)">  .env</span>
<span class="fs" style="left:334.00px;top:313.34px;font-size:2.6px;line-height:2.99px;color:#ccc;font-weight:400;width:36px;clip-path:inset(-1px 0 -1px 0)">› wsgi.py</span>
<span class="fs" style="left:334.00px;top:316.33px;font-size:2.6px;line-height:2.99px;color:#ccc;font-weight:400;width:36px;clip-path:inset(-1px 0 -1px 0)">› styles</span>
<span class="fs" style="left:334.00px;top:319.32px;font-size:2.6px;line-height:2.99px;color:#ccc;font-weight:400;width:36px;clip-path:inset(-1px 0 -1px 0)">› asgi.py</span>
<span class="fs" style="left:334.00px;top:322.31px;font-size:2.6px;line-height:2.99px;color:#ccc;font-weight:400;width:36px;clip-path:inset(-1px 0 -1px 0)">› Chart.jsx</span>
<span class="fs" style="left:334.00px;top:325.30px;font-size:2.6px;line-height:2.99px;color:#ccc;font-weight:400;width:36px;clip-path:inset(-1px 0 -1px 0)">  templates</span>
<span class="fs" style="left:334.00px;top:328.29px;font-size:2.6px;line-height:2.99px;color:#ccc;font-weight:400;width:36px;clip-path:inset(-1px 0 -1px 0)">› public</span>
<div style="left:330.00px;top:283.30px;width:40.50px;height:3.00px;background:#37373d;"></div>
<span class="fs" style="left:331.00px;top:329.20px;font-size:2.4px;line-height:2.88px;color:#ccc;font-weight:700;">OUTLINE</span>
<span class="fs" style="left:331.00px;top:332.20px;font-size:2.4px;line-height:2.88px;color:#ccc;font-weight:700;">TIMELINE</span>
<span class="fm" style="left:372.80px;top:236.00px;font-size:2.2px;line-height:2.725px;color:#6e7681;width:5px;text-align:right">41</span>
<span class="fm" style="left:372.80px;top:238.72px;font-size:2.2px;line-height:2.725px;color:#6e7681;width:5px;text-align:right">42</span>
<span class="fm" style="left:372.80px;top:241.45px;font-size:2.2px;line-height:2.725px;color:#6e7681;width:5px;text-align:right">43</span>
<span class="fm" style="left:372.80px;top:244.18px;font-size:2.2px;line-height:2.725px;color:#6e7681;width:5px;text-align:right">44</span>
<span class="fm" style="left:372.80px;top:246.90px;font-size:2.2px;line-height:2.725px;color:#6e7681;width:5px;text-align:right">45</span>
<span class="fm" style="left:372.80px;top:249.62px;font-size:2.2px;line-height:2.725px;color:#6e7681;width:5px;text-align:right">46</span>
<span class="fm" style="left:372.80px;top:252.35px;font-size:2.2px;line-height:2.725px;color:#6e7681;width:5px;text-align:right">47</span>
<span class="fm" style="left:372.80px;top:255.07px;font-size:2.2px;line-height:2.725px;color:#6e7681;width:5px;text-align:right">48</span>
<span class="fm" style="left:372.80px;top:257.80px;font-size:2.2px;line-height:2.725px;color:#6e7681;width:5px;text-align:right">49</span>
<span class="fm" style="left:372.80px;top:260.52px;font-size:2.2px;line-height:2.725px;color:#6e7681;width:5px;text-align:right">50</span>
<span class="fm" style="left:372.80px;top:263.25px;font-size:2.2px;line-height:2.725px;color:#6e7681;width:5px;text-align:right">51</span>
<span class="fm" style="left:372.80px;top:265.98px;font-size:2.2px;line-height:2.725px;color:#6e7681;width:5px;text-align:right">52</span>
<span class="fm" style="left:372.80px;top:268.70px;font-size:2.2px;line-height:2.725px;color:#6e7681;width:5px;text-align:right">53</span>
<span class="fm" style="left:372.80px;top:271.43px;font-size:2.2px;line-height:2.725px;color:#6e7681;width:5px;text-align:right">54</span>
<span class="fm" style="left:372.80px;top:274.15px;font-size:2.2px;line-height:2.725px;color:#6e7681;width:5px;text-align:right">55</span>
<span class="fm" style="left:372.80px;top:276.88px;font-size:2.2px;line-height:2.725px;color:#6e7681;width:5px;text-align:right">56</span>
<span class="fm" style="left:372.80px;top:279.60px;font-size:2.2px;line-height:2.725px;color:#6e7681;width:5px;text-align:right">57</span>
<span class="fm" style="left:372.80px;top:282.32px;font-size:2.2px;line-height:2.725px;color:#6e7681;width:5px;text-align:right">58</span>
<span class="fm" style="left:372.80px;top:285.05px;font-size:2.2px;line-height:2.725px;color:#6e7681;width:5px;text-align:right">59</span>
<span class="fm" style="left:372.80px;top:287.77px;font-size:2.2px;line-height:2.725px;color:#6e7681;width:5px;text-align:right">60</span>
<span class="fm" style="left:372.80px;top:290.50px;font-size:2.2px;line-height:2.725px;color:#6e7681;width:5px;text-align:right">61</span>
<span class="fm" style="left:372.80px;top:293.23px;font-size:2.2px;line-height:2.725px;color:#6e7681;width:5px;text-align:right">62</span>
<span class="fm" style="left:372.80px;top:295.95px;font-size:2.2px;line-height:2.725px;color:#6e7681;width:5px;text-align:right">63</span>
<span class="fm" style="left:372.80px;top:298.68px;font-size:2.2px;line-height:2.725px;color:#6e7681;width:5px;text-align:right">64</span>
<span class="fm" style="left:372.80px;top:301.40px;font-size:2.2px;line-height:2.725px;color:#6e7681;width:5px;text-align:right">65</span>
<span class="fm" style="left:372.80px;top:304.12px;font-size:2.2px;line-height:2.725px;color:#6e7681;width:5px;text-align:right">66</span>
<span class="fm" style="left:372.80px;top:306.85px;font-size:2.2px;line-height:2.725px;color:#6e7681;width:5px;text-align:right">67</span>
<span class="fm" style="left:372.80px;top:309.57px;font-size:2.2px;line-height:2.725px;color:#6e7681;width:5px;text-align:right">68</span>
<span class="fm" style="left:372.80px;top:312.30px;font-size:2.2px;line-height:2.725px;color:#6e7681;width:5px;text-align:right">69</span>
<span class="fm" style="left:372.80px;top:315.02px;font-size:2.2px;line-height:2.725px;color:#6e7681;width:5px;text-align:right">70</span>
<span class="fm" style="left:372.80px;top:317.75px;font-size:2.2px;line-height:2.725px;color:#6e7681;width:5px;text-align:right">71</span>
<span class="fm" style="left:372.80px;top:320.48px;font-size:2.2px;line-height:2.725px;color:#6e7681;width:5px;text-align:right">72</span>
<span class="fm" style="left:372.80px;top:323.20px;font-size:2.2px;line-height:2.725px;color:#6e7681;width:5px;text-align:right">73</span>
<span class="fm" style="left:381.00px;top:237.20px;font-size:2.5px;line-height:2.725px;font-weight:400;opacity:0.9"><i style="color:#4ec9b0">La</i></span>
<span class="fm" style="left:381.00px;top:239.92px;font-size:2.5px;line-height:2.725px;font-weight:400;opacity:0.9"><i style="color:#6a9955"># request token re</i></span>
<span class="fm" style="left:381.00px;top:242.65px;font-size:2.5px;line-height:2.725px;font-weight:400;opacity:0.9"><i style="color:#569cd6">not</i> <i style="color:#9cdcfe">rows_db</i> <i style="color:#dcdcaa">items(</i> <i style="color:#dcdcaa">late(</i> <i style="color:#9cdcfe">schema_cursor</i></span>
<span class="fm" style="left:383.00px;top:245.38px;font-size:2.5px;line-height:2.725px;font-weight:400;opacity:0.9"><i style="color:#569cd6">in</i> <i style="color:#ce9178">&quot;late_user&quot;</i> <i style="color:#569cd6">const</i></span>
<span class="fm" style="left:384.75px;top:248.10px;font-size:2.5px;line-height:2.725px;font-weight:400;opacity:0.9"><i style="color:#6a9955"># error reque</i></span>
<span class="fm" style="left:384.75px;top:250.82px;font-size:2.5px;line-height:2.725px;font-weight:400;opacity:0.9"><i style="color:#569cd6">True</i> <i style="color:#ce9178">&quot;count_handler&quot;</i> <i style="color:#ce9178">&quot;late_issue&quot;</i> <i style="color:#dcdcaa">st</i></span>
<span class="fm" style="left:384.75px;top:256.27px;font-size:2.5px;line-height:2.725px;font-weight:400;opacity:0.9"><i style="color:#569cd6">let</i></span>
<span class="fm" style="left:388.50px;top:259.00px;font-size:2.5px;line-height:2.725px;font-weight:400;opacity:0.9"><i style="color:#c586c0">import</i> <i style="color:#d4d4d4">=&gt;</i> <i style="color:#d4d4d4">app</i> <i style="color:#d4d4d4">period</i> <i style="color:#ce9178">&quot;project_late&quot;</i> <i style="color:#4ec9b0">L</i></span>
<span class="fm" style="left:389.75px;top:261.72px;font-size:2.5px;line-height:2.725px;font-weight:400;opacity:0.9"><i style="color:#569cd6">not</i> <i style="color:#ce9178">&quot;response_cursor&quot;</i> <i style="color:#dcdcaa">id</i></span>
<span class="fm" style="left:389.75px;top:264.45px;font-size:2.5px;line-height:2.725px;font-weight:400;opacity:0.9"><i style="color:#b5cea8">913</i> <i style="color:#b5cea8">88</i> <i style="color:#dcdcaa">use</i></span>
<span class="fm" style="left:388.00px;top:267.18px;font-size:2.5px;line-height:2.725px;font-weight:400;opacity:0.9"><i style="color:#ffd700">{</i></span>
<span class="fm" style="left:388.00px;top:272.62px;font-size:2.5px;line-height:2.725px;font-weight:400;opacity:0.9"><i style="color:#c586c0">for</i> <i style="color:#dcdcaa">is</i></span>
<span class="fm" style="left:389.75px;top:275.35px;font-size:2.5px;line-height:2.725px;font-weight:400;opacity:0.9"><i style="color:#569cd6">not</i> <i style="color:#d4d4d4">token</i> <i style="color:#ce9178">&quot;query_app&quot;</i></span>
<span class="fm" style="left:389.75px;top:278.07px;font-size:2.5px;line-height:2.725px;font-weight:400;opacity:0.9"><i style="color:#ce9178">&quot;record_logger&quot;</i> <i style="color:#d4d4d4">()</i></span>
<span class="fm" style="left:388.00px;top:280.80px;font-size:2.5px;line-height:2.725px;font-weight:400;opacity:0.9"><i style="color:#ffd700">{</i></span>
<span class="fm" style="left:388.00px;top:286.25px;font-size:2.5px;line-height:2.725px;font-weight:400;opacity:0.9"><i style="color:#c586c0">self</i> <i style="color:#d4d4d4">+</i> <i style="color:#ce9178">&quot;token_con</i></span>
<span class="fm" style="left:388.00px;top:288.97px;font-size:2.5px;line-height:2.725px;font-weight:400;opacity:0.9"><i style="color:#569cd6">Tr</i></span>
<span class="fm" style="left:388.00px;top:291.70px;font-size:2.5px;line-height:2.725px;font-weight:400;opacity:0.9"><i style="color:#ce9178">&quot;metric_region&quot;</i> <i style="color:#569cd6">in</i> <i style="color:#9cdcfe">record_option</i> <i style="color:#569cd6">in</i> <i style="color:#ce9178">&quot;project_char</i></span>
<span class="fm" style="left:388.00px;top:297.15px;font-size:2.5px;line-height:2.725px;font-weight:400;opacity:0.9"><i style="color:#c586c0">function</i> <i style="color:#d4d4d4">response</i> <i style="color:#9cdcfe">response_start</i> <i style="color:#dcdcaa">status</i></span>
<span class="fm" style="left:388.00px;top:302.60px;font-size:2.5px;line-height:2.725px;font-weight:400;opacity:0.9"><i style="color:#569cd6">for</i></span>
<span class="fm" style="left:389.25px;top:305.32px;font-size:2.5px;line-height:2.725px;font-weight:400;opacity:0.9"><i style="color:#569cd6">function</i> <i style="color:#d4d4d4">==</i> <i style="color:#dcdcaa">name(</i></span>
<span class="fm" style="left:389.25px;top:308.05px;font-size:2.5px;line-height:2.725px;font-weight:400;opacity:0.9"><i style="color:#c586c0">const</i> <i style="color:#4ec9b0">ErrorT</i></span>
<span class="fm" style="left:388.00px;top:310.77px;font-size:2.5px;line-height:2.725px;font-weight:400;opacity:0.9"><i style="color:#ffd700">{}</i></span>
<span class="fm" style="left:388.00px;top:316.23px;font-size:2.5px;line-height:2.725px;font-weight:400;opacity:0.9"><i style="color:#ce9178">&quot;percent</i></span>
<span class="fm" style="left:386.00px;top:318.95px;font-size:2.5px;line-height:2.725px;font-weight:400;opacity:0.9"><i style="color:#ffd700">{</i></span>
<span class="fm" style="left:383.50px;top:321.68px;font-size:2.5px;line-height:2.725px;font-weight:400;opacity:0.9"><i style="color:#ffd700">{}</i></span>
<span class="fm" style="left:381.75px;top:324.40px;font-size:2.5px;line-height:2.725px;font-weight:400;opacity:0.9"><i style="color:#ffd700">{</i></span>
<div style="left:486.00px;top:231.00px;width:2.60px;height:88.00px;background:#25303a;"></div>
<div style="left:4.00px;top:339.00px;width:213.00px;height:107.00px;background:#fff;"></div>
<div style="left:4.00px;top:339.00px;width:213.00px;height:5.00px;background:#2f3033;"></div>
<span class="fs" style="left:6.00px;top:340.10px;font-size:2.4px;line-height:2.88px;color:#aaa;font-weight:400;">←  →  ↻</span>
<span class="fs" style="left:26.00px;top:340.10px;font-size:2.5px;line-height:3.00px;color:#d8d8d8;font-weight:400;">localhost:3000/reports/tools-returned-late</span>
<span class="fs" style="left:196.00px;top:340.10px;font-size:2.4px;line-height:2.88px;color:#aaa;font-weight:400;">☆  ⊡  ⋮</span>
<div style="left:4.00px;top:344.00px;width:213.00px;height:17.20px;background:#393e44;"></div>
<div style="left:5.90px;top:350.10px;width:4.50px;height:4.90px;background:#f4f4f4;border-radius:1px 1px 2.2px 2.2px"></div>
<div style="left:7.20px;top:351.40px;width:1.90px;height:1.60px;background:#393e44;border-radius:.5px"></div>
<div style="left:12.10px;top:350.20px;width:13.40px;height:5.10px;background:#3d5f96;border-radius:.8px"></div>
<span class="fs" style="left:12.10px;top:351.30px;font-size:2.4px;line-height:2.88px;color:#fff;font-weight:700;width:13.40px;text-align:center">OCN Tools</span>
<span class="fs" style="left:26.80px;top:350.30px;font-size:3.9px;line-height:4.68px;color:#fff;font-weight:700;">◘ ○ ◘ ○ ◙ ✕</span>
<div style="left:107.30px;top:349.90px;width:4.20px;height:4.20px;background:#e5343d;border-radius:50%"></div>
<span class="fs" style="left:116.50px;top:350.70px;font-size:2.3px;line-height:2.76px;color:#a4a9b2;font-weight:400;">Dashboard        Reports       Inventory  ▾     |      Admin Panel  ▾</span>
<div style="left:180.90px;top:348.00px;width:2.80px;height:3.20px;background:#e9b949;border-radius:50%"></div>
<div style="left:180.20px;top:350.90px;width:4.20px;height:4.30px;background:#3b6fc8;border-radius:1.2px 1.2px .4px .4px"></div>
<div style="left:181.70px;top:349.20px;width:1.30px;height:1.60px;background:#f3d6b0;border-radius:50%"></div>
<span class="fs" style="left:190.50px;top:350.70px;font-size:2.1px;line-height:2.52px;color:#b4b8c0;font-weight:400;">Welcome, Administrator</span>
<span class="fs" style="left:71.40px;top:366.90px;font-size:6.5px;line-height:7.80px;color:#1e388c;font-weight:700;transform:scaleX(.805);transform-origin:0 0">Percent of Tools Returned Late</span>
<span class="fs" style="left:6.60px;top:375.00px;font-size:2.6px;line-height:3.12px;color:#222;font-weight:700;">Region: All Regions</span>
<span class="fs" style="left:35.00px;top:374.70px;font-size:2.5px;line-height:3.00px;color:#333;font-weight:400;">▾</span>
<span class="fs" style="left:40.30px;top:374.20px;font-size:2.5px;line-height:3.00px;color:#222;font-weight:700;">Tool(s):</span>
<div style="left:41.40px;top:378.50px;width:29.40px;height:5.00px;background:#fff;border:.2px solid #ececec;box-sizing:border-box"></div>
<span class="fs" style="left:43.00px;top:379.80px;font-size:2.3px;line-height:2.76px;color:#ccc;font-weight:400;">Select...</span>
<span class="fs" style="left:65.50px;top:379.50px;font-size:2.4px;line-height:2.88px;color:#bbb;font-weight:400;">×  |</span>
<span class="fs" style="left:72.50px;top:374.90px;font-size:2.6px;line-height:3.12px;color:#222;font-weight:700;">From:</span>
<div style="left:79.00px;top:377.60px;width:24.00px;height:0.25px;background:#999;"></div>
<span class="fs" style="left:79.50px;top:374.90px;font-size:2.5px;line-height:3.00px;color:#444;font-weight:400;">01/01/2024</span>
<span class="fs" style="left:107.00px;top:374.90px;font-size:2.6px;line-height:3.12px;color:#222;font-weight:700;">To:</span>
<div style="left:110.50px;top:377.60px;width:24.00px;height:0.25px;background:#999;"></div>
<span class="fs" style="left:111.00px;top:374.90px;font-size:2.5px;line-height:3.00px;color:#444;font-weight:400;">12/31/2024</span>
<span class="fs" style="left:6.70px;top:387.20px;font-size:2.43px;line-height:2.92px;color:#e8484f;font-weight:400;">Error: Request failed with status code 500. Unable to load percent of tools returned late.</span>
<div style="left:216.00px;top:344.00px;width:1.00px;height:17.20px;background:#2a2d31;"></div>
<div style="left:216.00px;top:361.20px;width:1.00px;height:84.80px;background:#d4d4d4;"></div>
<div style="left:221.00px;top:339.00px;width:214.00px;height:107.00px;background:#fff;"></div>
<div style="left:221.00px;top:339.00px;width:214.00px;height:6.20px;background:#2f3033;"></div>
<span class="fs" style="left:223.00px;top:340.80px;font-size:2.5px;line-height:3.00px;color:#aaa;font-weight:400;">←  →  ↻</span>
<span class="fs" style="left:240.00px;top:340.80px;font-size:2.6px;line-height:3.12px;color:#d8d8d8;font-weight:400;">localhost:3000/reports/tools-returned-late</span>
<span class="fs" style="left:414.00px;top:340.80px;font-size:2.5px;line-height:3.00px;color:#aaa;font-weight:400;">☆  ⊡  ⋮</span>
<span class="fs" style="left:289.00px;top:346.90px;font-size:6.6px;line-height:7.92px;color:#1e388c;font-weight:700;transform:scaleX(.815);transform-origin:0 0">Percent of Tools Returned Late</span>
<span class="fs" style="left:223.30px;top:355.20px;font-size:2.6px;line-height:3.12px;color:#222;font-weight:700;">Region:</span>
<div style="left:232.60px;top:354.00px;width:22.60px;height:5.00px;background:#fff;border:.25px solid #d0d0d0;box-sizing:border-box"></div>
<span class="fs" style="left:233.80px;top:355.30px;font-size:2.5px;line-height:3.00px;color:#555;font-weight:400;">All Regions</span>
<span class="fs" style="left:251.50px;top:355.20px;font-size:2.4px;line-height:2.88px;color:#666;font-weight:400;">▾</span>
<span class="fs" style="left:258.20px;top:354.40px;font-size:2.6px;line-height:3.12px;color:#222;font-weight:700;">Tool(s):</span>
<div style="left:257.80px;top:359.00px;width:31.00px;height:5.00px;background:#fff;border:.25px solid #d8d8d8;box-sizing:border-box"></div>
<span class="fs" style="left:259.30px;top:360.30px;font-size:2.5px;line-height:3.00px;color:#555;font-weight:400;">All tools selected      ×  ▾</span>
<span class="fs" style="left:291.30px;top:354.60px;font-size:2.6px;line-height:3.12px;color:#333;font-weight:700;">From: 01/01/2024</span>
<div style="left:291.00px;top:358.90px;width:32.00px;height:0.20px;background:#ddd;"></div>
<span class="fs" style="left:327.00px;top:354.60px;font-size:2.6px;line-height:3.12px;color:#333;font-weight:700;">To: 12/31/2024</span>
<div style="left:327.00px;top:358.90px;width:32.00px;height:0.20px;background:#ddd;"></div>
<span class="fs" style="left:308.00px;top:367.20px;font-size:2.9px;line-height:3.48px;color:#444;font-weight:700;">Percent of Tools Returned Late</span>
<div style="left:233.00px;top:371.50px;width:199.00px;height:0.20px;background:#f3f3f3;"></div>
<span class="fs" style="left:226.50px;top:370.50px;font-size:2.0px;line-height:2.40px;color:#aaa;font-weight:400;width:5.50px;text-align:right">100%</span>
<div style="left:233.00px;top:377.57px;width:199.00px;height:0.20px;background:#f3f3f3;"></div>
<span class="fs" style="left:226.50px;top:376.57px;font-size:2.0px;line-height:2.40px;color:#aaa;font-weight:400;width:5.50px;text-align:right">90%</span>
<div style="left:233.00px;top:383.64px;width:199.00px;height:0.20px;background:#f3f3f3;"></div>
<span class="fs" style="left:226.50px;top:382.64px;font-size:2.0px;line-height:2.40px;color:#aaa;font-weight:400;width:5.50px;text-align:right">80%</span>
<div style="left:233.00px;top:389.71px;width:199.00px;height:0.20px;background:#f3f3f3;"></div>
<span class="fs" style="left:226.50px;top:388.71px;font-size:2.0px;line-height:2.40px;color:#aaa;font-weight:400;width:5.50px;text-align:right">70%</span>
<div style="left:233.00px;top:395.78px;width:199.00px;height:0.20px;background:#f3f3f3;"></div>
<span class="fs" style="left:226.50px;top:394.78px;font-size:2.0px;line-height:2.40px;color:#aaa;font-weight:400;width:5.50px;text-align:right">60%</span>
<div style="left:233.00px;top:401.85px;width:199.00px;height:0.20px;background:#f3f3f3;"></div>
<span class="fs" style="left:226.50px;top:400.85px;font-size:2.0px;line-height:2.40px;color:#aaa;font-weight:400;width:5.50px;text-align:right">50%</span>
<div style="left:233.00px;top:407.92px;width:199.00px;height:0.20px;background:#f3f3f3;"></div>
<span class="fs" style="left:226.50px;top:406.92px;font-size:2.0px;line-height:2.40px;color:#aaa;font-weight:400;width:5.50px;text-align:right">40%</span>
<div style="left:233.00px;top:413.99px;width:199.00px;height:0.20px;background:#f3f3f3;"></div>
<span class="fs" style="left:226.50px;top:412.99px;font-size:2.0px;line-height:2.40px;color:#aaa;font-weight:400;width:5.50px;text-align:right">30%</span>
<div style="left:233.00px;top:420.06px;width:199.00px;height:0.20px;background:#f3f3f3;"></div>
<span class="fs" style="left:226.50px;top:419.06px;font-size:2.0px;line-height:2.40px;color:#aaa;font-weight:400;width:5.50px;text-align:right">20%</span>
<div style="left:233.00px;top:426.13px;width:199.00px;height:0.20px;background:#f3f3f3;"></div>
<span class="fs" style="left:226.50px;top:425.13px;font-size:2.0px;line-height:2.40px;color:#aaa;font-weight:400;width:5.50px;text-align:right">10%</span>
<div style="left:233.00px;top:432.20px;width:199.00px;height:0.20px;background:#f3f3f3;"></div>
<span class="fs" style="left:226.50px;top:431.20px;font-size:2.0px;line-height:2.40px;color:#aaa;font-weight:400;width:5.50px;text-align:right">0%</span>
<div style="left:224.20px;top:385.00px;width:0.01px;height:0.01px;background:#fff;"></div>
<span class="fs" style="left:222.2px;top:412px;font-size:2.2px;line-height:2.6px;color:#777;transform:rotate(-90deg);transform-origin:0 0">Percent of tools returned late</span>
<div style="left:235.80px;top:371.60px;width:12.90px;height:60.60px;background:#70baf1;"></div>
<span class="fs" style="left:235.80px;top:368.70px;font-size:1.9px;line-height:2.28px;color:#aaa;font-weight:400;width:12.90px;text-align:center">100%</span>
<span class="fs" style="left:233.80px;top:433.60px;font-size:2.1px;line-height:2.52px;color:#999;font-weight:400;width:16.90px;text-align:center">Hammer</span>
<div style="left:254.00px;top:371.60px;width:12.90px;height:60.60px;background:#70baf1;"></div>
<span class="fs" style="left:254.00px;top:368.70px;font-size:1.9px;line-height:2.28px;color:#aaa;font-weight:400;width:12.90px;text-align:center">100%</span>
<span class="fs" style="left:252.00px;top:433.60px;font-size:2.1px;line-height:2.52px;color:#999;font-weight:400;width:16.90px;text-align:center">Cordless Drill</span>
<div style="left:272.20px;top:371.60px;width:12.90px;height:60.60px;background:#70baf1;"></div>
<span class="fs" style="left:272.20px;top:368.70px;font-size:1.9px;line-height:2.28px;color:#aaa;font-weight:400;width:12.90px;text-align:center">100%</span>
<span class="fs" style="left:270.20px;top:433.60px;font-size:2.1px;line-height:2.52px;color:#999;font-weight:400;width:16.90px;text-align:center">Ladder</span>
<div style="left:290.40px;top:371.60px;width:12.90px;height:60.60px;background:#70baf1;"></div>
<span class="fs" style="left:290.40px;top:368.70px;font-size:1.9px;line-height:2.28px;color:#aaa;font-weight:400;width:12.90px;text-align:center">100%</span>
<span class="fs" style="left:288.40px;top:433.60px;font-size:2.1px;line-height:2.52px;color:#999;font-weight:400;width:16.90px;text-align:center">Shovel</span>
<div style="left:308.60px;top:371.60px;width:12.90px;height:60.60px;background:#70baf1;"></div>
<span class="fs" style="left:308.60px;top:368.70px;font-size:1.9px;line-height:2.28px;color:#aaa;font-weight:400;width:12.90px;text-align:center">100%</span>
<span class="fs" style="left:306.60px;top:433.60px;font-size:2.1px;line-height:2.52px;color:#999;font-weight:400;width:16.90px;text-align:center">Wrench</span>
<div style="left:326.80px;top:371.60px;width:12.90px;height:60.60px;background:#70baf1;"></div>
<span class="fs" style="left:326.80px;top:368.70px;font-size:1.9px;line-height:2.28px;color:#aaa;font-weight:400;width:12.90px;text-align:center">100%</span>
<span class="fs" style="left:324.80px;top:433.60px;font-size:2.1px;line-height:2.52px;color:#999;font-weight:400;width:16.90px;text-align:center">Saw</span>
<div style="left:345.00px;top:371.60px;width:12.90px;height:60.60px;background:#70baf1;"></div>
<span class="fs" style="left:345.00px;top:368.70px;font-size:1.9px;line-height:2.28px;color:#aaa;font-weight:400;width:12.90px;text-align:center">100%</span>
<span class="fs" style="left:343.00px;top:433.60px;font-size:2.1px;line-height:2.52px;color:#999;font-weight:400;width:16.90px;text-align:center">Pliers</span>
<div style="left:363.20px;top:371.60px;width:12.90px;height:60.60px;background:#70baf1;"></div>
<span class="fs" style="left:363.20px;top:368.70px;font-size:1.9px;line-height:2.28px;color:#aaa;font-weight:400;width:12.90px;text-align:center">100%</span>
<span class="fs" style="left:361.20px;top:433.60px;font-size:2.1px;line-height:2.52px;color:#999;font-weight:400;width:16.90px;text-align:center">Level Tool</span>
<div style="left:381.40px;top:371.60px;width:12.90px;height:60.60px;background:#70baf1;"></div>
<span class="fs" style="left:381.40px;top:368.70px;font-size:1.9px;line-height:2.28px;color:#aaa;font-weight:400;width:12.90px;text-align:center">100%</span>
<span class="fs" style="left:379.40px;top:433.60px;font-size:2.1px;line-height:2.52px;color:#999;font-weight:400;width:16.90px;text-align:center">Tape Measure</span>
<div style="left:399.60px;top:371.60px;width:12.90px;height:60.60px;background:#70baf1;"></div>
<span class="fs" style="left:399.60px;top:368.70px;font-size:1.9px;line-height:2.28px;color:#aaa;font-weight:400;width:12.90px;text-align:center">100%</span>
<span class="fs" style="left:397.60px;top:433.60px;font-size:2.1px;line-height:2.52px;color:#999;font-weight:400;width:16.90px;text-align:center">Angle Grinder</span>
<div style="left:417.80px;top:371.60px;width:12.90px;height:60.60px;background:#70baf1;"></div>
<span class="fs" style="left:417.80px;top:368.70px;font-size:1.9px;line-height:2.28px;color:#aaa;font-weight:400;width:12.90px;text-align:center">100%</span>
<span class="fs" style="left:415.80px;top:433.60px;font-size:2.1px;line-height:2.52px;color:#999;font-weight:400;width:16.90px;text-align:center">Wheel Barrow</span>
<span class="fs" style="left:325.00px;top:438.00px;font-size:2.3px;line-height:2.76px;color:#777;font-weight:400;">Tool Name</span>
<div style="left:417.00px;top:442.60px;width:15.00px;height:3.40px;background:#111;border-radius:.8px"></div>
<span class="fs" style="left:418.50px;top:443.10px;font-size:2.2px;line-height:2.64px;color:#eee;font-weight:400;">100% ⊕ ⊖</span>
<div style="left:439.00px;top:339.00px;width:213.00px;height:107.00px;background:#fff;"></div>
<span class="fs" style="left:441.60px;top:343.20px;font-size:2.9px;line-height:3.48px;color:#3f8ae2;font-weight:400;">← Back to Listing and Bidding</span>
<span class="fs" style="left:486.30px;top:342.70px;font-size:5.1px;line-height:6.12px;color:#1a1a1a;font-weight:700;">Listing and Bidding Platform Dashboard</span>
<span class="fs" style="left:439.60px;top:353.90px;font-size:2.8px;line-height:3.36px;color:#444;font-weight:400;">Choose Metric/Criteria:</span>
<div style="left:472.90px;top:352.40px;width:40.20px;height:6.00px;background:#3b3b3b;border-radius:.8px"></div>
<span class="fs" style="left:475.00px;top:354.50px;font-size:2.4px;line-height:2.88px;color:#f0f0f0;font-weight:700;">Demand (Number of Tenants)  ∨</span>
<div style="left:514.80px;top:352.40px;width:36.20px;height:6.00px;background:#8b5cd6;border-radius:.8px"></div>
<span class="fs" style="left:517.00px;top:354.50px;font-size:2.4px;line-height:2.88px;color:#fff;font-weight:700;">Listing</span>
<span class="fs" style="left:546.00px;top:353.90px;font-size:2.4px;line-height:2.88px;color:#fff;font-weight:400;">∨</span>
<div style="left:553.40px;top:352.40px;width:35.60px;height:6.00px;background:#8b5cd6;border-radius:.8px"></div>
<span class="fs" style="left:555.50px;top:354.50px;font-size:2.4px;line-height:2.88px;color:#fff;font-weight:700;">Village</span>
<span class="fs" style="left:584.00px;top:353.90px;font-size:2.4px;line-height:2.88px;color:#fff;font-weight:400;">∨</span>
<div style="left:439.00px;top:362.00px;width:213.00px;height:11.00px;background:#f3f4f6;"></div>
<div style="left:439.00px;top:373.00px;width:213.00px;height:0.25px;background:#e3e5e8;"></div>
<span class="fs" style="left:441.50px;top:365.70px;font-size:3.2px;line-height:3.84px;color:#333;font-weight:700;">ˇ</span>
<span class="fs" style="left:446.20px;top:365.80px;font-size:4.05px;line-height:4.86px;color:#222;font-weight:700;">By Village</span>
<div style="left:439.00px;top:373.25px;width:213.00px;height:72.75px;background:#f7f8fa;"></div>
<div style="left:444.40px;top:381.30px;width:207.60px;height:21.70px;background:#fff;border-radius:1px 0 0 1px"></div>
<span class="fs" style="left:450.00px;top:386.30px;font-size:2.8px;line-height:3.36px;color:#555;font-weight:400;">Date Range</span>
<span class="fs" style="left:511.00px;top:386.30px;font-size:2.8px;line-height:3.36px;color:#555;font-weight:400;">Listing/Bidding</span>
<span class="fs" style="left:574.00px;top:386.30px;font-size:2.8px;line-height:3.36px;color:#555;font-weight:400;">Period</span>
<div style="left:450.00px;top:392.80px;width:58.00px;height:5.00px;background:#fff;border:.25px solid #f0f0f0;box-sizing:border-box;border-radius:.6px"></div>
<span class="fs" style="left:452.00px;top:394.10px;font-size:2.4px;line-height:2.88px;color:#666;font-weight:400;">2024-01-01        →        2024-12-31      ▢</span>
<div style="left:511.00px;top:392.80px;width:58.00px;height:5.00px;background:#fff;border:.25px solid #f0f0f0;box-sizing:border-box;border-radius:.6px"></div>
<span class="fs" style="left:513.00px;top:394.10px;font-size:2.4px;line-height:2.88px;color:#666;font-weight:400;">All</span>
<div style="left:574.00px;top:392.80px;width:58.00px;height:5.00px;background:#fff;border:.25px solid #f0f0f0;box-sizing:border-box;border-radius:.6px"></div>
<span class="fs" style="left:576.00px;top:394.10px;font-size:2.4px;line-height:2.88px;color:#2f7fe6;font-weight:700;">MONTH</span>
<span class="fs" style="left:586.00px;top:394.10px;font-size:2.4px;line-height:2.88px;color:#666;font-weight:400;">| Day | Week | Year</span>
<div style="left:444.40px;top:407.00px;width:207.60px;height:39.00px;background:#fff;border-radius:1px 0 0 0"></div>
<span class="fs" style="left:450.00px;top:411.40px;font-size:4.1px;line-height:4.92px;color:#222;font-weight:700;">Comparing Demand of Villages across time</span>
<svg style="left:0;top:0" width="656" height="446" viewBox="0 0 656 446"><polyline fill="none" stroke="#86aee2" stroke-width="0.33" points="466.3,426.7 484.7,431.7 504.7,437.3 515.3,446.0"/><polyline fill="none" stroke="#86aee2" stroke-width="0.33" points="477.3,446.0 486.3,433.3 504.7,437.3"/><polyline fill="none" stroke="#86aee2" stroke-width="0.33" points="532.3,446.0 539.7,430.7 553.7,446.0"/><polyline fill="none" stroke="#86aee2" stroke-width="0.33" points="574.0,446.0 581.3,433.3 588.7,446.0"/><polyline fill="none" stroke="#86aee2" stroke-width="0.33" points="584.7,446.0 594.7,424.0 613.0,438.3 622.0,446.0"/><polyline fill="none" stroke="#86aee2" stroke-width="0.33" points="613.0,438.3 631.3,424.0 651.3,441.7 652.0,441.0"/><polyline fill="none" stroke="#86aee2" stroke-width="0.33" points="600.7,446.0 613.0,438.3 616.3,442.0 604.7,446.0"/><polyline fill="none" stroke="#86aee2" stroke-width="0.33" points="486.3,433.3 494.7,446.0"/><circle cx="466.3" cy="426.7" r=".5" fill="#8db4e4"/><circle cx="484.7" cy="431.7" r=".5" fill="#8db4e4"/><circle cx="504.7" cy="437.3" r=".5" fill="#8db4e4"/><circle cx="486.3" cy="433.3" r=".5" fill="#8db4e4"/><circle cx="504.7" cy="437.3" r=".5" fill="#8db4e4"/><circle cx="539.7" cy="430.7" r=".5" fill="#8db4e4"/><circle cx="581.3" cy="433.3" r=".5" fill="#8db4e4"/><circle cx="594.7" cy="424.0" r=".5" fill="#8db4e4"/><circle cx="613.0" cy="438.3" r=".5" fill="#8db4e4"/><circle cx="613.0" cy="438.3" r=".5" fill="#8db4e4"/><circle cx="631.3" cy="424.0" r=".5" fill="#8db4e4"/><circle cx="651.3" cy="441.7" r=".5" fill="#8db4e4"/><circle cx="652.0" cy="441.0" r=".5" fill="#8db4e4"/><circle cx="613.0" cy="438.3" r=".5" fill="#8db4e4"/><circle cx="616.3" cy="442.0" r=".5" fill="#8db4e4"/><circle cx="486.3" cy="433.3" r=".5" fill="#8db4e4"/></svg>
<span class="fs" style="left:455.33px;top:421.47px;font-size:1.9px;line-height:2.28px;color:#9ab0c8;font-weight:400;">400</span>
<span class="fs" style="left:455.33px;top:433.80px;font-size:1.9px;line-height:2.28px;color:#9ab0c8;font-weight:400;">300</span>
<span class="fs" style="left:468.00px;top:424.80px;font-size:1.9px;line-height:2.28px;color:#9ab0c8;font-weight:400;">Village 4</span>
<span class="fs" style="left:487.33px;top:429.47px;font-size:1.9px;line-height:2.28px;color:#9ab0c8;font-weight:400;">Village 2</span>
<span class="fs" style="left:506.33px;top:435.47px;font-size:1.9px;line-height:2.28px;color:#9ab0c8;font-weight:400;">Village 11</span>
<span class="fs" style="left:541.33px;top:428.80px;font-size:1.9px;line-height:2.28px;color:#9ab0c8;font-weight:400;">Village 7</span>
<span class="fs" style="left:583.00px;top:431.47px;font-size:1.9px;line-height:2.28px;color:#9ab0c8;font-weight:400;">Village 3</span>
<span class="fs" style="left:596.33px;top:422.13px;font-size:1.9px;line-height:2.28px;color:#9ab0c8;font-weight:400;">Village 9</span>
<span class="fs" style="left:633.00px;top:422.13px;font-size:1.9px;line-height:2.28px;color:#9ab0c8;font-weight:400;">Village 6</span>
<span class="fs" style="left:614.67px;top:436.13px;font-size:1.9px;line-height:2.28px;color:#9ab0c8;font-weight:400;">Village 1</span>
<span class="fs" style="left:618.00px;top:440.13px;font-size:1.9px;line-height:2.28px;color:#9ab0c8;font-weight:400;">Village 5</span>
<div style="left:0.00px;top:0.00px;width:656.00px;height:4.00px;background:#000;"></div>
<div style="left:0.00px;top:446.00px;width:656.00px;height:4.00px;background:#000;"></div>
<div style="left:0.00px;top:0.00px;width:4.00px;height:450.00px;background:#000;"></div>
<div style="left:652.00px;top:0.00px;width:4.00px;height:450.00px;background:#000;"></div>
<div style="left:0.00px;top:4.00px;width:328.00px;height:1.00px;background:#000;"></div>
<div style="left:0.00px;top:112.00px;width:656.00px;height:4.00px;background:#000;"></div>
<div style="left:0.00px;top:223.00px;width:656.00px;height:4.00px;background:#000;"></div>
<div style="left:0.00px;top:335.00px;width:656.00px;height:4.00px;background:#000;"></div>
<div style="left:163.00px;top:0.00px;width:4.00px;height:116.00px;background:#000;"></div>
<div style="left:326.00px;top:0.00px;width:4.00px;height:116.00px;background:#000;"></div>
<div style="left:489.00px;top:0.00px;width:4.00px;height:116.00px;background:#000;"></div>
<div style="left:163.00px;top:223.00px;width:4.00px;height:116.00px;background:#000;"></div>
<div style="left:326.00px;top:223.00px;width:4.00px;height:116.00px;background:#000;"></div>
<div style="left:489.00px;top:223.00px;width:4.00px;height:116.00px;background:#000;"></div>
<div style="left:217.00px;top:112.00px;width:4.00px;height:115.00px;background:#000;"></div>
<div style="left:435.00px;top:112.00px;width:4.00px;height:115.00px;background:#000;"></div>
<div style="left:217.00px;top:335.00px;width:4.00px;height:115.00px;background:#000;"></div>
<div style="left:435.00px;top:335.00px;width:4.00px;height:115.00px;background:#000;"></div>
</div></body></html>
